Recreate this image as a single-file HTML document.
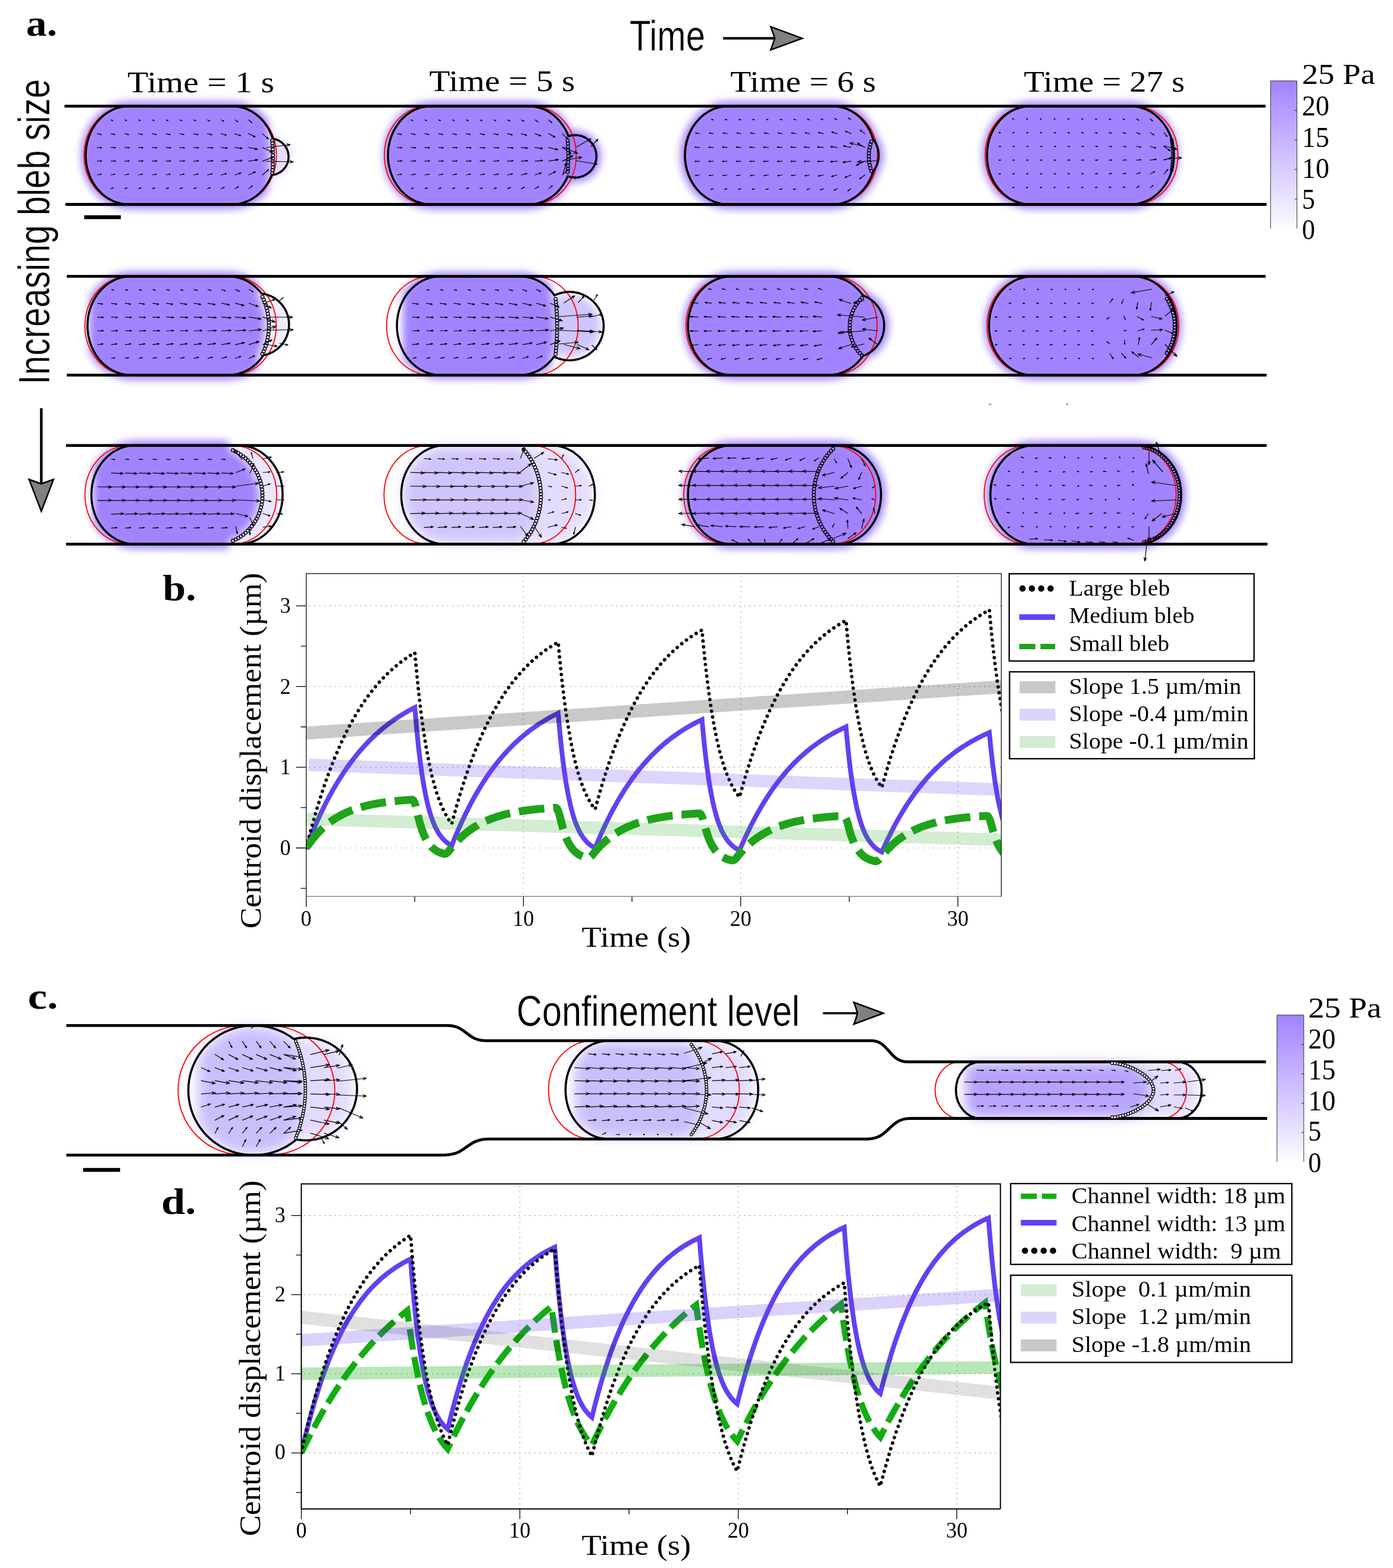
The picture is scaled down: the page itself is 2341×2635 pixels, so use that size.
<!DOCTYPE html>
<html lang="en"><head><meta charset="utf-8"><title>Bleb-driven cell migration figure</title>
<style>html,body{margin:0;padding:0;background:#fff}svg{display:block}text{fill:#000}</style></head>
<body>
<svg width="2341" height="2635" viewBox="0 0 2341 2635">
<rect width="2341" height="2635" fill="#fff"/>
<defs><filter id="bl" x="-15%" y="-30%" width="130%" height="160%" color-interpolation-filters="sRGB"><feGaussianBlur stdDeviation="6.5"/></filter><filter id="bl2" x="-15%" y="-30%" width="130%" height="160%" color-interpolation-filters="sRGB"><feGaussianBlur stdDeviation="10"/></filter></defs>
<g filter="url(#bl)"><path d="M459.4 297.8L466.3 296L474.1 292L479 287.9L484.4 280.7L487.9 272.3L489 263.7L487.9 254.7L485.7 248.7L481 241.3L476.5 236.8L469.1 232.1L461.4 229.6L452.1 210.1L444.5 200.1L435.4 191.2L419.4 181L402 175.5L390.1 174.4L216.6 174.4L198.5 176.9L187 181.1L176.5 187.2L162.2 200.1L154.4 210.4L148.3 221.7L143.8 234.2L141 247.3L140.2 267.6L142.1 281.2L148.2 299.9L154.6 311.8L166.6 326.5L176.5 334.7L192.6 343.1L204.7 346.4L216.6 347.5L390.1 347.5L402.3 346.4L419.7 340.8L435.4 330.7L448.6 316.8Z" fill="#e4dcfe"/><path d="M450.6 201.2L437.6 187.8L426.7 180.3L409.5 173.1L396.8 170.7L216.6 170.4L197.2 173.1L180 180.3L168.6 188.2L155.2 202.3L147.5 214.3L139.9 233L136.3 253.6L136.9 274.7L139.9 288.9L144.5 301.4L151 313.5L164.1 329.7L173.8 337.7L185.1 344.3L203.5 350.3L216.6 351.5L390.1 351.5L409.5 348.8L421.6 344.3L432.3 338.1L442.6 329.7L450.6 320.7L451.6 264.7Z" fill="#a183ff"/></g><g filter="url(#bl)"><path d="M958.5 305.6L970.2 306.3L981.3 303.9L991.5 298.7L1000.4 290.5L1006.4 280.8L1009.8 269.9L1009.8 255.5L1006.4 244.6L999.9 234.3L988.2 224.7L974.6 219.7L960.1 219.5L953.7 207.9L945.9 197.5L930.6 183.8L913.9 175.1L901.5 171.6L888.4 170.4L724.6 170.4L705.9 172.9L687.4 180.6L676.6 188.2L667.5 197.1L655.5 214.3L649.9 226.9L646.1 240.3L644 260.7L646.1 281.6L650.1 295.5L659 313.5L667.5 324.8L681.8 337.7L693.8 344.6L711.5 350.3L724.6 351.5L888.4 351.5L901.5 350.3L919.2 344.6L935.9 334.1L949.8 319.6Z" fill="#a183ff"/></g><g filter="url(#bl)"><path d="M1482.7 246.9L1464.2 207.9L1451.4 192.2L1441.7 184.2L1430.4 177.6L1412 171.6L1398.9 170.4L1223.8 170.4L1211.4 171.5L1198.3 175.1L1181.6 183.8L1170.9 192.7L1158.5 207.9L1151.7 220.5L1145.4 239.8L1143.4 254.2L1144.2 275.2L1147.1 288.9L1151.9 302L1158.2 313.5L1166.3 324.4L1181.6 338.1L1192.3 344.3L1204.4 348.8L1223.8 351.5L1398.9 351.5L1411.3 350.4L1424.4 346.8L1441.7 337.7L1456.4 324.4L1468 307.6L1481.3 279.4L1484.4 265.2L1484.4 256Z" fill="#a183ff"/></g><g filter="url(#bl)"><path d="M1900 170.4L1725.4 170.7L1712 173.1L1694.2 180.6L1678.9 192.2L1669.6 202.8L1659.5 219.9L1653 239.8L1651 254.2L1651.8 275.2L1656.9 295.5L1665.8 313.5L1678.5 329.2L1689.2 338.1L1706.6 347.1L1724.7 351.2L1906 351.2L1919.4 348.8L1937.2 341.3L1948 333.7L1957.5 324.4L1965.6 313.5L1974.5 295.5L1978.4 282.1L1980.3 268.3L1980.3 253.6L1978.4 239.8L1972.1 220.5L1965.6 208.4L1957.5 197.5L1948 188.2L1937.2 180.6L1925.5 175.1L1913.1 171.6Z" fill="#a183ff"/></g><g filter="url(#bl)"><path d="M451.1 594.8L466.9 585.7L473.4 579.2L480.8 567.6L484.9 554.5L485.7 545.4L482.5 527.4L476.2 515.2L463.3 502.3L451.1 496L439.5 493.2L431.6 484.3L422.3 476.6L412.1 470.7L401.2 466.7L384.2 464.4L220 464.4L208.6 465.4L192.1 470.7L181.9 476.6L168.4 488.7L158 503.6L158 591.1L168.4 606L177.1 614.5L186.9 621.3L203 628L220 630.3L389.9 630L406.8 626.2L417.3 621.3L431.6 610.4L442.5 597.1Z" fill="#efeaff"/><path d="M434 475.7L421.6 466.7L409.9 461.1L390.3 456.7L219.6 456.4L206.8 457.6L189 463.3L177.6 469.9L167.3 478.3L158.3 488.4L151.1 499.5L150 503.6L150 591.1L151.1 595.2L162.6 611.5L177 624.4L194.3 633.6L207.5 637.2L220 638.3L384.6 638.3L397.4 637.1L415.2 631.4L426.6 624.8L434 619L434 595L440.3 578.9L444.5 557.8L444 531.9L440.3 515.1L434 499Z" fill="#a183ff"/></g><g filter="url(#bl)"><path d="M689 495.9L689 598.8L700.3 610.6L709.4 616.9L719.2 621.5L729.5 624.4L740.1 625.3L874 625.3L889.8 623.2L899.9 619.5L909.4 614L918 606.8L929.8 594.4L943.4 598.7L957 600.5L970.6 598.7L983.2 593.5L994.1 585.1L1000 578.1L1006.3 566L1008.7 557.1L1008.7 538.9L1004.6 525.8L997.2 514.3L987.1 505L975 498.7L961.6 495.7L947.9 496.3L930.5 501.3L918 487.9L909.4 480.7L899.9 475.2L884.6 470.3L874 469.4L734.7 469.6L719.2 473.2L709.4 477.8L700.3 484.1Z" fill="#cfc5ff"/><path d="M926.6 479.4L916 470.7L904.7 464.3L892.7 459.9L880.1 457.7L739.7 457.4L721.4 459.9L708.8 464.5L692.4 475L683.3 483.9L677.3 492.1L677 600.5L678.2 604.5L687.9 615.6L703.1 627.2L715.3 632.9L733.3 637L874.4 637.3L892.7 634.8L905.3 630.2L916.5 623.7L926.7 615.1L929.3 546.7L926.7 502.4Z" fill="#a183ff"/></g><g filter="url(#bl)"><path d="M1454.6 488.9L1445.2 478.3L1429.9 466.7L1417.5 460.8L1399.3 456.7L1229.2 456.4L1209.7 459.1L1192.3 466.4L1181 474.3L1167.5 488.4L1159.8 500.5L1152.2 519.2L1149.1 533.5L1148.5 554.7L1152 574.9L1160.1 594.7L1167.1 605.8L1176 615.9L1192.3 628.3L1210.4 635.8L1229.2 638.3L1392.5 638.3L1412 635.6L1424.2 631.1L1434.9 624.8L1445.7 615.9L1455.3 604.8L1472 594.7L1479.1 587.5L1485.4 578.7L1491.7 563.8L1493.6 553.1L1493.6 541.6L1491.7 530.9L1487.9 520.8L1482.5 511.4L1475.5 503.2L1467.1 496.3Z" fill="#a183ff"/></g><g filter="url(#bl)"><path d="M1904.6 456.4L1729 456.7L1715.6 459.1L1697.7 466.7L1682.4 478.3L1673 488.9L1662.9 506.2L1656.4 526.1L1654.3 540.6L1655.1 561.7L1660.2 582.1L1669.1 600.2L1681.9 615.9L1692.7 624.8L1710.1 633.9L1728.3 638L1910.7 638L1924.1 635.6L1942 628L1952.8 620.4L1962.4 611.1L1970.6 600.2L1979.5 582.1L1983.3 568.6L1985.3 554.7L1985.3 540L1983.3 526.1L1977.1 506.7L1970.6 494.5L1962.4 483.6L1952.8 474.3L1942 466.7L1930.3 461.1L1917.8 457.6Z" fill="#a183ff"/></g><g filter="url(#bl)"><path d="M474.8 825L473 812.1L469.4 799.8L464.2 788.2L457.5 777.7L449.4 768.5L440.2 760.8L430 754.9L419.1 750.9L402 748.6L226.6 748.6L215.1 749.6L198.6 754.9L188.4 760.8L175 772.9L164.6 787.8L164.6 875.2L175 890.1L188.4 902.2L204 910.3L215.1 913.4L226.6 914.4L402 914.4L413.5 913.4L430 908.1L440.2 902.2L453.6 890.1L461.1 880.2L467 869.1L471.4 857.1L474.1 844.5Z" fill="#ebe6ff"/><path d="M226.6 740.6L207.1 743.3L189.1 750.9L173.4 762.9L164.9 772.6L157.7 783.7L156.6 787.8L156.6 875.2L160.6 884.3L168.8 895.2L178.8 904.9L189.7 912.5L207.1 919.7L219.8 922.1L384.5 922.4L384.5 908.8L391.9 905.1L405.5 895.4L411.5 889.6L421.7 876.4L428.9 861.4L431.4 853.4L433.9 837L433.9 828.6L431.4 812.2L425.7 796.5L416.9 782.3L411.5 776L399 765L384.5 756.8L384.5 740.6Z" fill="#a183ff"/></g><g filter="url(#bl2)"><path d="M926.8 750.6L747.3 750.6L736.2 751.6L720.2 756.7L705.6 766L693.4 778.9L684.1 794.7L679.8 806.4L676.5 825.1L676.5 837.9L679.8 856.6L686.8 873.9L697.2 888.8L710.3 900.5L725.4 908.5L741.7 912.2L926.8 912.4L937.9 911.4L953.9 906.3L968.5 897L976.9 888.8L984.2 879.1L990 868.3L994.3 856.6L996.9 844.2L997.8 831.5L996.9 818.8L994.3 806.4L990 794.7L984.2 783.9L972.8 769.9L963.8 762.5L953.9 756.7L937.9 751.6Z" fill="#e4dcfe"/><path d="M747.3 751.6L736.4 752.6L725.7 755.5L715.6 760.2L706.3 766.7L697.9 774.9L690.8 784.4L682.7 800.8L679.3 812.8L677.5 825.2L678.2 844.1L682.7 862.2L687.7 873.4L694.2 883.5L702 892.4L710.9 899.7L720.6 905.4L736.4 910.4L747.3 911.4L873.2 911.4L886 892.5L895.2 872.5L900.6 851.2L902 829.2L899.2 807.3L895.2 793.2L886 773.2L873.2 755.2L873.2 751.6Z" fill="#d0c4fc"/></g><g filter="url(#bl)"><path d="M1407.6 740.6L1223.1 740.9L1209.7 743.3L1192.3 750.5L1180.9 758.5L1167.5 772.6L1159.8 784.6L1152 804L1148.5 824.2L1149.1 845.3L1154.1 865.7L1160.1 878.9L1171.8 895.6L1186.7 908.9L1204.2 918L1222.4 922.1L1408 922.4L1426.4 919.9L1444.5 912.5L1455.4 904.9L1465 895.6L1473.2 884.8L1480.1 872.1L1484.8 859L1488.3 838.8L1488.3 824.2L1486.3 810.2L1480.1 790.9L1473.6 778.7L1465.4 767.8L1455.9 758.5L1445.1 750.9L1433.3 745.3L1420.8 741.8Z" fill="#a183ff"/></g><g filter="url(#bl)"><path d="M1912 740.6L1731.3 740.9L1717.9 743.3L1700.5 750.5L1689.1 758.5L1675.7 772.6L1668 784.6L1660.2 804L1656.7 824.2L1657.3 845.3L1662.3 865.7L1668.3 878.9L1680 895.6L1694.9 908.9L1712.4 918L1730.6 922.1L1912.4 922.4L1930.8 919.9L1948.9 912.5L1959.8 904.9L1969.4 895.6L1977.6 884.8L1984.5 872.1L1989.2 859L1992.7 838.8L1992.7 824.2L1990.7 810.2L1984.5 790.9L1978 778.7L1969.8 767.8L1960.3 758.5L1949.5 750.9L1937.7 745.3L1925.2 741.8Z" fill="#a183ff"/></g>
<g filter="url(#bl2)"><path d="M497.4 1913L521 1914.1L535.4 1911.5L555.8 1903.1L567.9 1894.7L578.3 1884.3L590.1 1865.7L592 1861.1L592 1798.9L582.7 1781.6L573.3 1770.3L562 1760.9L542.5 1750.7L521 1745.9L506.2 1745.9L493 1748L483 1741.1L468 1733.5L452.1 1728.4L435.5 1725.7L417 1725.7L392.3 1730.6L369.5 1741.1L349.8 1756.7L338.9 1769.4L332.5 1779.5L332.5 1885L338.9 1895.1L349.8 1907.8L369.5 1923.4L384.5 1931L400.4 1936.1L417 1938.8L435.5 1938.8L452.1 1936.1L475.7 1927.5Z" fill="#e2dbfe"/><path d="M490 1745.8L468 1733.5L452.1 1728.4L427.1 1725.4L408.6 1726.7L384.5 1733.5L369.5 1741.1L349.8 1756.7L338.9 1769.4L332.5 1779.5L332.5 1885L344.1 1901.6L362.5 1918.7L376.8 1927.5L392.3 1933.9L408.6 1937.8L427.1 1939.1L443.9 1937.8L460.2 1933.9L475.7 1927.5L490 1918.7L490 1912L497.3 1891.6L502.5 1870.5L505.4 1849.1L506.2 1827.4L502.5 1791.5L497.3 1770.4L490 1750Z" fill="#cabefd"/></g><g filter="url(#bl2)"><path d="M1266.2 1799.1L1255.2 1779.1L1243 1766.2L1228.5 1757L1212.5 1751.9L1201.5 1750.9L1023.1 1750.9L1006.6 1753.1L996.1 1757L986.3 1762.7L977.3 1770.1L966.4 1783.4L966.4 1879.6L977.3 1892.9L991.1 1903.4L1001.3 1908.2L1017.6 1911.9L1201.5 1912.1L1218 1909.9L1233.5 1903.4L1247.3 1892.9L1258.6 1879L1266.2 1863.9Z" fill="#e2dbfe"/><path d="M1023.1 1750.9L1006.6 1753.1L991.1 1759.6L977.3 1770.1L966.4 1783.4L966.4 1879.6L973.2 1888.6L981.6 1896.8L991.1 1903.4L1001.3 1908.2L1017.6 1911.9L1154.9 1912.1L1154.9 1906.5L1166.2 1888.7L1174.4 1869.1L1179.2 1848.5L1180.4 1827.4L1179.2 1813.4L1174.4 1792.8L1166.2 1773.2L1154.9 1755.4L1154.9 1750.9Z" fill="#cabefd"/></g><g filter="url(#bl2)"><path d="M2011.5 1807.9L2005.7 1799.6L1998.4 1793L1989.9 1788.6L1980.8 1786.5L1642.2 1787L1630.3 1791.3L1622.5 1797.3L1622.5 1866.6L1633.2 1874.1L1642.2 1876.9L1648.4 1877.5L1983.8 1876.9L1992.8 1874.1L1998.4 1870.9L2005.7 1864.3L2011.5 1856Z" fill="#e2dbfe"/><path d="M1894.2 1786.4L1869 1787.3L1869 1786.4L1648.4 1786.4L1639.1 1787.6L1630.3 1791.3L1622.5 1797.3L1622.5 1866.6L1633.2 1874.1L1642.2 1876.9L1648.4 1877.5L1895.7 1877.5L1899.3 1876.5L1912.7 1869.1L1923.1 1857.7L1929.2 1843.6L1930.4 1836L1929.2 1820.7L1926.7 1813.4L1918.4 1800.5L1906.3 1790.9Z" fill="#b6a3ff"/></g>
<path d="M213.9 178.7 L391.9 178.7 A72.61 82.21 0 0 1 391.9 343.2 L213.9 343.2 A72.61 82.21 0 0 1 213.9 178.7 Z" fill="none" stroke="#f00" stroke-width="1.8"/><path d="M718.6 178.7 L895.8 178.7 A72.61 82.21 0 0 1 895.8 343.2 L718.6 343.2 A72.61 82.21 0 0 1 718.6 178.7 Z" fill="none" stroke="#f00" stroke-width="1.8"/><path d="M1222.6 178.7 L1401.9 178.7 A72.61 82.21 0 0 1 1401.9 343.2 L1222.6 343.2 A72.61 82.21 0 0 1 1222.6 178.7 Z" fill="none" stroke="#f00" stroke-width="1.8"/><path d="M1728.2 178.7 L1906.9 178.7 A72.61 82.21 0 0 1 1906.9 343.2 L1728.2 343.2 A72.61 82.21 0 0 1 1728.2 178.7 Z" fill="none" stroke="#f00" stroke-width="1.8"/><path d="M215.7 464.7 L391.2 464.7 A72.96 82.61 0 0 1 391.2 630 L215.7 630 A72.96 82.61 0 0 1 215.7 464.7 Z" fill="none" stroke="#f00" stroke-width="1.8"/><path d="M722.6 464.7 L898.7 464.7 A72.96 82.61 0 0 1 898.7 630 L722.6 630 A72.96 82.61 0 0 1 722.6 464.7 Z" fill="none" stroke="#f00" stroke-width="1.8"/><path d="M1225.9 464.7 L1401 464.7 A72.96 82.61 0 0 1 1401 630 L1225.9 630 A72.96 82.61 0 0 1 1225.9 464.7 Z" fill="none" stroke="#f00" stroke-width="1.8"/><path d="M1731.8 464.7 L1908 464.7 A72.96 82.61 0 0 1 1908 630 L1731.8 630 A72.96 82.61 0 0 1 1731.8 464.7 Z" fill="none" stroke="#f00" stroke-width="1.8"/><path d="M215.7 748.9 L392 748.9 A72.92 82.56 0 0 1 392 914.1 L215.7 914.1 A72.92 82.56 0 0 1 215.7 748.9 Z" fill="none" stroke="#f00" stroke-width="1.8"/><path d="M718.3 748.9 L894.4 748.9 A72.92 82.56 0 0 1 894.4 914.1 L718.3 914.1 A72.92 82.56 0 0 1 718.3 748.9 Z" fill="none" stroke="#f00" stroke-width="1.8"/><path d="M1222 748.9 L1398.7 748.9 A72.92 82.56 0 0 1 1398.7 914.1 L1222 914.1 A72.92 82.56 0 0 1 1222 748.9 Z" fill="none" stroke="#f00" stroke-width="1.8"/><path d="M1726.9 748.9 L1903.6 748.9 A72.92 82.56 0 0 1 1903.6 914.1 L1726.9 914.1 A72.92 82.56 0 0 1 1726.9 748.9 Z" fill="none" stroke="#f00" stroke-width="1.8"/><path d="M108.4 178.4H2127M109.9 343.5H2128.5" stroke="#000" stroke-width="4.8" fill="none"/><path d="M112.3 464.4H2127M112.3 630.3H2128.5" stroke="#000" stroke-width="4.8" fill="none"/><path d="M111 748.6H2128.6M111 914.4H2130.1" stroke="#000" stroke-width="4.8" fill="none"/><path d="M141.5 365H203" stroke="#000" stroke-width="6.6" fill="none"/><path d="M1662 679.4h3.5M1793.3 678v3" stroke="#000" stroke-width="1" fill="none"/><path d="M458.4 233.1L456.4 227.4L454.2 222.2L451.7 217.2L448.8 212.4L444.0 205.7L440.5 201.6L436.8 197.7L430.7 192.5L426.4 189.5L421.9 186.8L417.3 184.4L412.5 182.4L407.6 180.9L402.7 179.7L397.6 178.9L390.1 178.4L216.6 178.4L209.1 178.9L201.5 180.2L194.2 182.4L187.1 185.5L180.3 189.5L173.9 194.2L168.0 199.6L162.7 205.7L159.4 210.1L155.0 217.2L152.5 222.2L149.3 230.0L146.8 238.2L145.1 246.6L144.2 255.2L144.0 263.8L144.7 272.4L145.6 278.1L146.8 283.7L148.4 289.2L151.4 297.1L153.7 302.2L156.4 307.1L159.4 311.8L162.7 316.2L166.2 320.3L171.9 326.0L176.0 329.4L180.3 332.4L184.8 335.1L189.4 337.5L194.2 339.5L199.1 341.0L206.5 342.7L211.6 343.3L216.6 343.5L390.1 343.5L397.6 343.0L402.7 342.2L407.6 341.0L414.9 338.5L419.6 336.4L424.2 333.8L430.7 329.4L434.8 326.0L438.7 322.3L442.3 318.3L445.7 314.0L448.8 309.5L451.7 304.7L454.2 299.7L456.6 294.1L460.7 293.5L463.8 292.7L466.8 291.5L471.0 289.2L473.6 287.4L477.1 284.0L479.1 281.5L480.9 278.9L482.3 276.0L484.0 271.4L484.6 268.3L485.0 263.5L484.8 260.3L484.0 255.6L483.0 252.5L481.7 249.6L479.1 245.5L477.1 243.0L474.8 240.7L472.3 238.7L469.7 236.9L466.8 235.5L462.2 233.8Z" fill="none" stroke="#000" stroke-width="3.5" stroke-linejoin="round"/><path d="M163.5 224.6L170 226.2M168.3 226.4L170 226.2L168.6 225.2M163.5 247.8L171 248.4M169.1 248.9L171 248.4L169.2 247.6M163.5 270.9L171 270.4M169.2 271.2L171 270.4L169.1 269.8M163.5 294L170.3 292.5M168.7 293.5L170.3 292.5L168.5 292.3M186.6 201.5L189.7 202.7M188 202.7L189.7 202.7L188.4 201.6M186.6 224.6L193.2 226.2M191.4 226.4L193.2 226.2L191.7 225.2M186.6 247.8L194.1 248.4M192.2 248.9L194.1 248.4L192.4 247.6M186.6 270.9L194.2 270.4M192.4 271.2L194.2 270.4L192.3 269.8M186.6 294L193.4 292.5M191.9 293.5L193.4 292.5L191.6 292.3M186.6 317.1L190.4 315.8M189.1 316.9L190.4 315.8L188.7 315.8M209.8 201.5L212.8 202.7M211.1 202.7L212.8 202.7L211.6 201.6M209.8 224.6L216.3 226.2M214.6 226.4L216.3 226.2L214.9 225.2M209.8 247.8L217.3 248.4M215.4 248.9L217.3 248.4L215.5 247.6M209.8 270.9L217.3 270.4M215.5 271.2L217.3 270.4L215.4 269.8M209.8 294L216.6 292.5M215 293.5L216.6 292.5L214.8 292.3M209.8 317.1L213.5 315.7M212.2 316.8L213.5 315.7L211.8 315.8M232.9 201.5L236 202.7M234.3 202.7L236 202.7L234.7 201.6M232.9 224.6L239.5 226.2M237.7 226.4L239.5 226.2L238 225.2M232.9 247.8L240.5 248.4M238.6 248.9L240.5 248.4L238.7 247.6M232.9 270.9L240.5 270.4M238.7 271.2L240.5 270.4L238.6 269.8M232.9 294L239.7 292.5M238.2 293.5L239.7 292.5L237.9 292.3M232.9 317.1L236.7 315.7M235.4 316.8L236.7 315.7L235 315.7M256 201.5L259.2 202.7M257.5 202.7L259.2 202.7L257.9 201.6M256 224.6L262.7 226.2M260.9 226.4L262.7 226.2L261.2 225.2M256 247.8L263.7 248.4M261.8 248.9L263.7 248.4L261.9 247.6M256 270.9L263.7 270.4M261.9 271.2L263.7 270.4L261.8 269.8M256 294L263 292.5M261.4 293.5L263 292.5L261.1 292.3M256 317.1L259.9 315.7M258.6 316.8L259.9 315.7L258.2 315.7M279.1 201.5L282.5 202.8M280.8 202.8L282.5 202.8L281.2 201.7M279.1 224.6L286 226.3M284.2 226.5L286 226.3L284.4 225.3M279.1 247.8L287 248.4M285 249L287 248.4L285.1 247.6M279.1 270.9L287 270.4M285.1 271.2L287 270.4L285 269.8M279.1 294L286.2 292.5M284.6 293.5L286.2 292.5L284.4 292.2M279.1 317.1L283.2 315.7M281.9 316.8L283.2 315.7L281.5 315.7M302.3 201.5L305.8 202.9M304.1 202.8L305.8 202.9L304.5 201.7M302.3 224.6L309.3 226.3M307.4 226.5L309.3 226.3L307.7 225.3M302.3 247.8L310.3 248.5M308.3 249L310.3 248.5L308.4 247.6M302.3 270.9L310.4 270.4M308.4 271.2L310.4 270.4L308.4 269.8M302.3 294L309.6 292.4M307.9 293.5L309.6 292.4L307.7 292.2M302.3 317.1L306.5 315.6M305.2 316.7L306.5 315.6L304.8 315.6M325.4 201.5L329.2 203M327.5 203L329.2 203L327.9 201.9M325.4 224.6L332.8 226.4M330.8 226.7L332.8 226.4L331.2 225.3M325.4 247.8L333.9 248.5M331.8 249.1L333.9 248.5L331.9 247.6M325.4 270.9L333.9 270.3M331.9 271.2L333.9 270.3L331.8 269.7M325.4 294L333.1 292.3M331.4 293.4L333.1 292.3L331 292M325.4 317.1L329.9 315.4M328.6 316.6L329.9 315.4L328.2 315.5M348.5 201.5L352.7 203.3M351 203.2L352.7 203.3L351.4 202.1M348.5 224.6L356.5 226.7M354.4 226.9L356.5 226.7L354.7 225.5M348.5 247.8L357.7 248.6M355.4 249.2L357.7 248.6L355.5 247.6M348.5 270.9L357.8 270.2M355.6 271.2L357.8 270.2L355.4 269.6M348.5 294L356.8 292.1M354.9 293.3L356.8 292.1L354.6 291.8M348.5 317.1L353.4 315.2M352.1 316.3L353.4 315.2L351.7 315.2M371.7 201.5L376.3 203.8M374.6 203.6L376.3 203.8L375.1 202.6M371.7 224.6L380.4 227.2M378.1 227.3L380.4 227.2L378.5 225.8M371.7 247.8L382 248.9M379.3 249.5L382 248.9L379.5 247.7M371.7 270.9L382 270.1M379.6 271.2L382 270.1L379.4 269.3M371.7 294L380.8 291.6M378.8 293L380.8 291.6L378.4 291.4M371.7 317.1L377.1 314.7M375.9 315.9L377.1 314.7L375.4 314.8M394.8 201.5L399.9 204.7M398.3 204.3L399.9 204.7L398.9 203.4M394.8 224.6L404.7 228.2M402 228.2L404.7 228.2L402.6 226.4M394.8 247.8L406.9 249.4M403.8 250.1L406.9 249.4L404.1 247.9M394.8 270.9L407 269.6M404.2 271L407 269.6L403.9 268.9M394.8 294L405.2 290.6M402.9 292.4L405.2 290.6L402.3 290.5M394.8 317.1L400.8 313.7M399.6 315.1L400.8 313.7L399 314M417.9 201.5L423.2 206.1M421.5 205.4L423.2 206.1L422.3 204.5M417.9 224.6L428.9 230.2M425.7 229.8L428.9 230.2L426.7 227.9M417.9 247.8L432.8 250.9M428.9 251.4L432.8 250.9L429.5 248.8M417.9 270.9L433.2 268.5M429.7 270.4L433.2 268.5L429.2 267.7M417.9 294L429.5 288.5M427.2 290.9L429.5 288.5L426.2 288.8M417.9 317.1L424.2 312.2M423.1 314L424.2 312.2L422.2 312.9M441.1 224.6L451 233.6M447.8 232.3L451 233.6L449.4 230.5M441.1 247.8L458.3 256.1M453.3 255.6L458.3 256.1L454.8 252.5M441.1 270.9L459.7 263.9M455.8 267.2L459.7 263.9L454.5 263.9M441.1 294L451.8 284.7M450 288L451.8 284.7L448.3 286.1M448 248L488 243M482.5 245.8L488 243L482 241.6M448 271L493 272M487.1 274L493 272L487.2 269.8" fill="none" stroke="#000" stroke-width="1.2" stroke-linecap="round" stroke-linejoin="round"/><g fill="none" stroke="#000" stroke-width="1.3"><circle cx="457.6" cy="236" r="2.8"/><circle cx="457.9" cy="241" r="2.8"/><circle cx="458.2" cy="246" r="2.8"/><circle cx="458.4" cy="251" r="2.8"/><circle cx="458.5" cy="256" r="2.8"/><circle cx="458.6" cy="261" r="2.8"/><circle cx="458.6" cy="266" r="2.8"/><circle cx="458.5" cy="271" r="2.8"/><circle cx="458.4" cy="276" r="2.8"/><circle cx="458.2" cy="281" r="2.8"/><circle cx="457.9" cy="286" r="2.8"/><circle cx="457.6" cy="291" r="2.8"/></g><path d="M955.3 228.9L952.5 222.2L950.0 217.2L945.6 210.1L940.6 203.6L937.0 199.6L933.1 195.9L929.0 192.5L924.7 189.5L917.9 185.5L913.2 183.4L908.4 181.6L901.0 179.7L895.9 178.9L888.4 178.4L724.6 178.4L719.6 178.6L714.5 179.2L707.1 180.9L702.2 182.4L695.1 185.5L688.3 189.5L681.9 194.2L676.0 199.6L670.7 205.7L665.9 212.4L661.7 219.7L658.3 227.4L655.6 235.4L653.6 243.8L652.4 252.3L652.0 260.9L652.4 269.6L653.1 275.3L654.2 280.9L655.6 286.5L657.3 291.9L659.4 297.1L661.7 302.2L664.4 307.1L667.4 311.8L672.4 318.3L676.0 322.3L679.9 326.0L684.0 329.4L688.3 332.4L692.8 335.1L697.4 337.5L702.2 339.5L707.1 341.0L714.5 342.7L719.6 343.3L724.6 343.5L888.4 343.5L893.4 343.3L898.5 342.7L903.5 341.7L908.4 340.3L915.6 337.5L920.2 335.1L924.7 332.4L931.1 327.7L935.1 324.2L938.8 320.3L944.0 314.0L947.1 309.5L950.0 304.7L952.5 299.7L954.1 296.1L957.5 297.2L961.1 298.0L966.7 298.4L970.4 298.2L974.1 297.6L979.5 296.0L982.9 294.5L986.1 292.6L990.6 289.2L994.4 285.2L996.6 282.1L998.5 278.9L1000.7 273.7L1002.0 268.3L1002.4 262.7L1002.2 259.0L1001.6 255.3L1000.0 249.9L997.6 244.8L994.4 240.2L990.6 236.2L986.1 232.8L981.2 230.1L977.7 228.7L972.3 227.4L966.7 227.0L961.1 227.4L957.5 228.2Z" fill="none" stroke="#000" stroke-width="3.5" stroke-linejoin="round"/><path d="M667.7 224.6L674.6 226.2M672.8 226.4L674.6 226.2L673.1 225.2M667.7 247.8L675.7 248.4M673.7 249L675.7 248.4L673.8 247.5M667.7 270.9L675.7 270.4M673.8 271.2L675.7 270.4L673.7 269.8M667.7 294L674.9 292.6M673.3 293.6L674.9 292.6L673 292.3M690.8 201.5L694.1 202.7M692.4 202.7L694.1 202.7L692.8 201.6M690.8 224.6L697.8 226.2M696 226.4L697.8 226.2L696.2 225.2M690.8 247.8L698.8 248.4M696.8 249L698.8 248.4L696.9 247.5M690.8 270.9L698.9 270.4M696.9 271.2L698.9 270.4L696.9 269.8M690.8 294L698.1 292.6M696.4 293.6L698.1 292.6L696.2 292.3M690.8 317.1L694.8 315.8M693.5 316.9L694.8 315.8L693.1 315.8M714 201.5L717.2 202.7M715.5 202.7L717.2 202.7L715.9 201.6M714 224.6L720.9 226.2M719.1 226.4L720.9 226.2L719.4 225.2M714 247.8L722 248.4M720 249L722 248.4L720.1 247.5M714 270.9L722 270.4M720.1 271.2L722 270.4L720 269.8M714 294L721.2 292.6M719.6 293.6L721.2 292.6L719.3 292.3M714 317.1L718 315.8M716.7 316.8L718 315.8L716.3 315.7M737.1 201.5L740.4 202.7M738.7 202.7L740.4 202.7L739.1 201.6M737.1 224.6L744.1 226.2M742.3 226.4L744.1 226.2L742.5 225.2M737.1 247.8L745.2 248.4M743.1 249L745.2 248.4L743.3 247.5M737.1 270.9L745.2 270.4M743.3 271.2L745.2 270.4L743.2 269.8M737.1 294L744.4 292.6M742.7 293.6L744.4 292.6L742.5 292.3M737.1 317.1L741.2 315.8M739.8 316.8L741.2 315.8L739.5 315.7M760.2 201.5L763.6 202.7M761.9 202.7L763.6 202.7L762.3 201.6M760.2 224.6L767.3 226.2M765.5 226.4L767.3 226.2L765.7 225.2M760.2 247.8L768.4 248.4M766.3 249L768.4 248.4L766.5 247.5M760.2 270.9L768.4 270.4M766.5 271.2L768.4 270.4L766.4 269.8M760.2 294L767.6 292.5M765.9 293.6L767.6 292.5L765.7 292.2M760.2 317.1L764.4 315.7M763 316.8L764.4 315.7L762.7 315.7M783.4 201.5L786.9 202.8M785.2 202.8L786.9 202.8L785.6 201.7M783.4 224.6L790.6 226.2M788.7 226.5L790.6 226.2L789 225.2M783.4 247.8L791.7 248.4M789.6 249L791.7 248.4L789.7 247.5M783.4 270.9L791.7 270.4M789.7 271.3L791.7 270.4L789.6 269.8M783.4 294L790.9 292.5M789.2 293.6L790.9 292.5L788.9 292.2M783.4 317.1L787.6 315.7M786.3 316.8L787.6 315.7L785.9 315.7M806.5 201.5L810.2 202.9M808.5 202.8L810.2 202.9L808.9 201.8M806.5 224.6L814 226.3M812 226.6L814 226.3L812.3 225.2M806.5 247.8L815.1 248.5M812.9 249.1L815.1 248.5L813 247.5M806.5 270.9L815.1 270.4M813.1 271.3L815.1 270.4L813 269.7M806.5 294L814.3 292.5M812.5 293.5L814.3 292.5L812.2 292.1M806.5 317.1L810.9 315.6M809.6 316.7L810.9 315.6L809.2 315.6M829.6 201.5L833.6 203M831.9 203L833.6 203L832.3 201.9M829.6 224.6L837.5 226.4M835.4 226.7L837.5 226.4L835.7 225.3M829.6 247.8L838.6 248.5M836.4 249.1L838.6 248.5L836.5 247.5M829.6 270.9L838.7 270.3M836.5 271.3L838.7 270.3L836.4 269.7M829.6 294L837.8 292.3M835.9 293.5L837.8 292.3L835.6 292M829.6 317.1L834.4 315.5M833 316.5L834.4 315.5L832.7 315.4M852.7 201.5L857.1 203.3M855.4 203.2L857.1 203.3L855.8 202.2M852.7 224.6L861.2 226.7M858.9 226.9L861.2 226.7L859.3 225.4M852.7 247.8L862.5 248.6M860 249.3L862.5 248.6L860.2 247.6M852.7 270.9L862.5 270.3M860.2 271.3L862.5 270.3L860.1 269.5M852.7 294L861.5 292.1M859.5 293.3L861.5 292.1L859.2 291.8M852.7 317.1L857.9 315.2M856.6 316.3L857.9 315.2L856.2 315.2M875.9 201.5L880.7 203.9M879 203.7L880.7 203.9L879.5 202.6M875.9 224.6L885.1 227.2M882.6 227.4L885.1 227.2L883.1 225.8M875.9 247.8L886.8 248.9M884 249.6L886.8 248.9L884.2 247.7M875.9 270.9L886.9 270.1M884.3 271.2L886.9 270.1L884.1 269.3M875.9 294L885.6 291.6M883.4 293L885.6 291.6L883 291.3M875.9 317.1L881.6 314.6M880.3 315.8L881.6 314.6L879.9 314.7M899 201.5L904.2 204.8M902.5 204.4L904.2 204.8L903.1 203.4M899 224.6L909.3 228.4M906.4 228.4L909.3 228.4L907.1 226.6M899 247.8L911.8 249.6M908.5 250.3L911.8 249.6L908.8 248M899 270.9L912 269.6M909 271.1L912 269.6L908.7 268.8M899 294L909.9 290.5M907.6 292.3L909.9 290.5L906.9 290.4M899 317.1L905.2 313.6M904 315L905.2 313.6L903.4 313.9M922.1 201.5L927.2 206.1M925.6 205.4L927.2 206.1L926.4 204.5M922.1 224.6L933 230.6M929.8 230.1L933 230.6L930.9 228.2M922.1 247.8L937.5 251.6M933.4 252L937.5 251.6L934.1 249.3M922.1 270.9L938.3 268.2M934.6 270.3L938.3 268.2L934.1 267.4M922.1 294L934 288.1M931.6 290.6L934 288.1L930.5 288.5M922.1 317.1L928.3 312.1M927.2 313.9L928.3 312.1L926.3 312.8M945.3 224.6L954.1 233.5M951.1 232.1L954.1 233.5L952.7 230.6M945.3 247.8L960.1 258.5M955.5 257.2L960.1 258.5L957.5 254.6M945.3 270.9L963.2 261.4M959.6 265.3L963.2 261.4L957.9 262.1M945.3 294L954.9 284.4M953.4 287.6L954.9 284.4L951.7 285.9M969 247L993 233M989 237.8L993 233L986.9 234.1M993 246L1005 234M1003.1 238L1005 234L1001 235.9M946 247L971 258M964.8 257.6L971 258L966.5 253.7M946 270L978 264M972.7 267.2L978 264L971.9 263M968 270L1004 276M997.9 277.1L1004 276L998.6 273M946 293L952 273M952.3 278.4L952 273L948.8 277.4M967 301L966 296M966.9 297.5L966 296L965.7 297.7" fill="none" stroke="#000" stroke-width="1.2" stroke-linecap="round" stroke-linejoin="round"/><g fill="none" stroke="#000" stroke-width="1.3"><circle cx="954" cy="236" r="2.8"/><circle cx="954.4" cy="241.3" r="2.8"/><circle cx="954.6" cy="246.6" r="2.8"/><circle cx="954.8" cy="251.9" r="2.8"/><circle cx="955" cy="257.2" r="2.8"/><circle cx="955" cy="262.5" r="2.8"/><circle cx="955" cy="267.8" r="2.8"/><circle cx="954.8" cy="273.1" r="2.8"/><circle cx="954.6" cy="278.4" r="2.8"/><circle cx="954.4" cy="283.7" r="2.8"/><circle cx="954" cy="289" r="2.8"/></g><path d="M1467.4 233.8L1464.1 224.8L1461.8 219.7L1459.1 214.8L1456.1 210.1L1452.8 205.7L1449.3 201.6L1445.6 197.7L1439.5 192.5L1435.2 189.5L1430.7 186.8L1426.1 184.4L1421.3 182.4L1416.4 180.9L1411.5 179.7L1406.4 178.9L1398.9 178.4L1223.8 178.4L1216.3 178.9L1208.7 180.2L1201.4 182.4L1196.6 184.4L1189.7 188.1L1183.2 192.5L1177.1 197.7L1171.6 203.6L1166.6 210.1L1163.6 214.8L1159.7 222.2L1156.5 230.0L1154.0 238.2L1152.3 246.6L1151.4 255.2L1151.2 263.8L1151.9 272.4L1152.8 278.1L1154.0 283.7L1155.6 289.2L1157.5 294.5L1160.9 302.2L1163.6 307.1L1166.6 311.8L1169.9 316.2L1173.4 320.3L1177.1 324.2L1181.1 327.7L1185.3 331.0L1189.7 333.8L1194.3 336.4L1201.4 339.5L1206.3 341.0L1211.2 342.2L1216.3 343.0L1223.8 343.5L1398.9 343.5L1406.4 343.0L1414.0 341.7L1421.3 339.5L1426.1 337.5L1430.7 335.1L1437.4 331.0L1443.6 326.0L1449.3 320.3L1452.8 316.2L1456.1 311.8L1460.5 304.7L1464.1 297.1L1466.2 291.9L1467.4 288.1L1470.6 283.4L1472.7 279.3L1473.6 277.1L1475.1 272.6L1476.0 268.0L1476.4 265.7L1476.6 260.9L1476.4 256.2L1475.6 251.6L1475.1 249.3L1473.6 244.8L1471.7 240.5L1469.3 236.4Z" fill="none" stroke="#000" stroke-width="3.5" stroke-linejoin="round"/><path d="M1175.7 224.6L1168.8 223.4M1170.6 223.1L1168.8 223.4L1170.4 224.3M1175.7 247.8L1167.7 247.3M1169.7 246.7L1167.7 247.3L1169.6 248.1M1175.7 270.9L1167.7 271.3M1169.6 270.5L1167.7 271.3L1169.7 271.9M1175.7 294L1168.5 295.2M1170.2 294.3L1168.5 295.2L1170.4 295.5M1198.8 201.5L1195.6 200.6M1197.3 200.4L1195.6 200.6L1197 201.6M1198.8 224.6L1191.9 223.4M1193.7 223.1L1191.9 223.4L1193.5 224.3M1198.8 247.8L1190.8 247.3M1192.8 246.7L1190.8 247.3L1192.8 248.1M1198.8 270.9L1190.8 271.3M1192.7 270.5L1190.8 271.3L1192.8 271.9M1198.8 294L1191.6 295.2M1193.3 294.3L1191.6 295.2L1193.5 295.5M1198.8 317.1L1194.8 318.2M1196.2 317.3L1194.8 318.2L1196.5 318.4M1222 201.5L1218.7 200.6M1220.4 200.4L1218.7 200.6L1220.1 201.6M1222 224.6L1215 223.4M1216.8 223.1L1215 223.4L1216.6 224.3M1222 247.8L1214 247.2M1216 246.7L1214 247.2L1215.9 248.1M1222 270.9L1213.9 271.3M1215.9 270.5L1213.9 271.3L1215.9 271.9M1222 294L1214.7 295.2M1216.4 294.3L1214.7 295.2L1216.6 295.5M1222 317.1L1217.9 318.2M1219.3 317.3L1217.9 318.2L1219.6 318.4M1245.1 201.5L1241.8 200.6M1243.5 200.4L1241.8 200.6L1243.2 201.6M1245.1 224.6L1238.1 223.4M1239.9 223.1L1238.1 223.4L1239.7 224.3M1245.1 247.8L1237 247.2M1239.1 246.7L1237 247.2L1239 248.1M1245.1 270.9L1237 271.3M1239 270.5L1237 271.3L1239 271.9M1245.1 294L1237.8 295.2M1239.5 294.3L1237.8 295.2L1239.7 295.5M1245.1 317.1L1241 318.2M1242.4 317.3L1241 318.2L1242.7 318.4M1268.2 201.5L1264.9 200.5M1266.6 200.4L1264.9 200.5L1266.2 201.5M1268.2 224.6L1261.2 223.4M1263 223.1L1261.2 223.4L1262.8 224.3M1268.2 247.8L1260.1 247.2M1262.1 246.6L1260.1 247.2L1262 248.1M1268.2 270.9L1260.1 271.3M1262 270.5L1260.1 271.3L1262.1 271.9M1268.2 294L1260.9 295.2M1262.6 294.3L1260.9 295.2L1262.8 295.6M1268.2 317.1L1264.1 318.3M1265.5 317.3L1264.1 318.3L1265.8 318.4M1291.4 201.5L1287.9 200.5M1289.6 200.4L1287.9 200.5L1289.3 201.5M1291.4 224.6L1284.2 223.4M1286.1 223L1284.2 223.4L1285.8 224.3M1291.4 247.8L1283.1 247.2M1285.2 246.6L1283.1 247.2L1285.1 248.1M1291.4 270.9L1283.1 271.3M1285.1 270.5L1283.1 271.3L1285.2 271.9M1291.4 294L1283.9 295.2M1285.6 294.3L1283.9 295.2L1285.8 295.6M1291.4 317.1L1287.2 318.3M1288.6 317.3L1287.2 318.3L1288.9 318.4M1314.5 201.5L1310.9 200.4M1312.6 200.3L1310.9 200.4L1312.3 201.5M1314.5 224.6L1307.2 223.3M1309.1 223L1307.2 223.3L1308.8 224.3M1314.5 247.8L1306.1 247.2M1308.2 246.6L1306.1 247.2L1308.1 248.1M1314.5 270.9L1306.1 271.3M1308.1 270.5L1306.1 271.3L1308.1 272M1314.5 294L1306.9 295.3M1308.6 294.3L1306.9 295.3L1308.9 295.6M1314.5 317.1L1310.2 318.4M1311.6 317.4L1310.2 318.4L1311.9 318.5M1337.6 201.5L1333.9 200.3M1335.6 200.3L1333.9 200.3L1335.2 201.4M1337.6 224.6L1330.1 223.2M1332 222.9L1330.1 223.2L1331.8 224.2M1337.6 247.8L1328.9 247.2M1331.1 246.5L1328.9 247.2L1331 248.1M1337.6 270.9L1328.9 271.3M1331 270.4L1328.9 271.3L1331.1 272M1337.6 294L1329.8 295.3M1331.6 294.3L1329.8 295.3L1331.8 295.7M1337.6 317.1L1333.1 318.5M1334.5 317.5L1333.1 318.5L1334.8 318.6M1360.7 201.5L1356.8 200.1M1358.5 200.1L1356.8 200.1L1358.1 201.2M1360.7 224.6L1352.8 223M1354.9 222.7L1352.8 223L1354.6 224.1M1360.7 247.8L1351.6 247.1M1353.9 246.4L1351.6 247.1L1353.7 248.1M1360.7 270.9L1351.5 271.4M1353.7 270.4L1351.5 271.4L1353.8 272.1M1360.7 294L1352.5 295.5M1354.4 294.4L1352.5 295.5L1354.6 295.9M1360.7 317.1L1356 318.7M1357.3 317.6L1356 318.7L1357.7 318.7M1383.9 201.5L1379.6 199.8M1381.3 199.8L1379.6 199.8L1380.9 200.9M1383.9 224.6L1375.4 222.7M1377.6 222.4L1375.4 222.7L1377.3 223.9M1383.9 247.8L1373.9 246.9M1376.4 246.2L1373.9 246.9L1376.3 248M1383.9 270.9L1373.8 271.5M1376.2 270.5L1373.8 271.5L1376.3 272.3M1383.9 294L1375 295.9M1377 294.6L1375 295.9L1377.3 296.2M1383.9 317.1L1378.7 319.1M1380 318L1378.7 319.1L1380.4 319M1407 201.5L1402.5 199.1M1404.2 199.4L1402.5 199.1L1403.6 200.4M1407 224.6L1397.8 221.9M1400.3 221.7L1397.8 221.9L1399.8 223.4M1407 247.8L1395.8 246.4M1398.6 245.7L1395.8 246.4L1398.4 247.7M1407 270.9L1395.6 271.8M1398.3 270.6L1395.6 271.8L1398.5 272.6M1407 294L1397.3 296.6M1399.4 295.1L1397.3 296.6L1399.9 296.9M1407 317.1L1401.5 319.7M1402.7 318.5L1401.5 319.7L1403.2 319.6M1430.1 201.5L1425.7 198.2M1427.3 198.7L1425.7 198.2L1426.6 199.7M1430.1 224.6L1420.6 220.3M1423.3 220.5L1420.6 220.3L1422.6 222.2M1430.1 247.8L1417.1 245M1420.6 244.5L1417.1 245L1420.1 246.8M1430.1 270.9L1416.6 272.8M1419.7 271.1L1416.6 272.8L1420.1 273.6M1430.1 294L1419.9 298.3M1422 296.3L1419.9 298.3L1422.7 298.2M1430.1 317.1L1424.7 320.8M1425.7 319.4L1424.7 320.8L1426.4 320.4M1453.3 224.6L1445.2 218.4M1447.7 219.2L1445.2 218.4L1446.6 220.7M1453.3 247.8L1441 240.2M1444.7 241L1441 240.2L1443.3 243.1M1453.3 270.9L1438.9 277.8M1441.8 274.8L1438.9 277.8L1443 277.4M1453.3 294L1444.6 300.7M1446.1 298.3L1444.6 300.7L1447.3 299.8M1450 246L1428 240M1433.9 239.5L1428 240L1432.8 243.4M1476 270L1441 272M1446.7 269.6L1441 272L1446.9 273.8" fill="none" stroke="#000" stroke-width="1.2" stroke-linecap="round" stroke-linejoin="round"/><g fill="none" stroke="#000" stroke-width="1.3"><circle cx="1464.4" cy="238" r="2.8"/><circle cx="1462.8" cy="242.8" r="2.8"/><circle cx="1461.6" cy="247.7" r="2.8"/><circle cx="1460.7" cy="252.6" r="2.8"/><circle cx="1460.2" cy="257.7" r="2.8"/><circle cx="1460" cy="262.7" r="2.8"/><circle cx="1460.2" cy="267.7" r="2.8"/><circle cx="1460.7" cy="272.8" r="2.8"/><circle cx="1461.6" cy="277.7" r="2.8"/><circle cx="1462.8" cy="282.6" r="2.8"/><circle cx="1464.4" cy="287.4" r="2.8"/></g><path d="M1731.4 178.4 L1900 178.4 A72.61 82.51 0 0 1 1900 343.5 L1731.4 343.5 A72.61 82.51 0 0 1 1731.4 178.4 Z" fill="none" stroke="#000" stroke-width="3.5" stroke-linejoin="round"/><path d="M1678.6 222.8L1681.4 223.2M1679.7 223.6L1681.4 223.2L1679.9 222.4M1678.6 246L1681.8 246.1M1680.1 246.6L1681.8 246.1L1680.2 245.5M1678.6 269.1L1681.8 269M1680.2 269.6L1681.8 269L1680.2 268.5M1678.6 292.2L1681.5 291.9M1680 292.6L1681.5 291.9L1679.9 291.5M1701.7 199.7L1703.8 200.2M1702.1 200.4L1703.8 200.2L1702.3 199.2M1701.7 222.8L1704.5 223.2M1702.9 223.6L1704.5 223.2L1703 222.4M1701.7 246L1704.9 246.1M1703.3 246.6L1704.9 246.1L1703.4 245.5M1701.7 269.1L1705 269M1703.4 269.6L1705 269L1703.4 268.5M1701.7 292.2L1704.7 291.9M1703.2 292.6L1704.7 291.9L1703 291.5M1701.7 315.4L1704 314.9M1702.6 315.8L1704 314.9L1702.3 314.6M1724.9 199.7L1726.9 200.2M1725.2 200.4L1726.9 200.2L1725.5 199.2M1724.9 222.8L1727.7 223.2M1726 223.6L1727.7 223.2L1726.2 222.4M1724.9 246L1728.1 246.1M1726.5 246.6L1728.1 246.1L1726.5 245.5M1724.9 269.1L1728.2 269M1726.6 269.6L1728.2 269L1726.5 268.5M1724.9 292.2L1727.8 291.9M1726.3 292.6L1727.8 291.9L1726.2 291.5M1724.9 315.4L1727.2 314.9M1725.7 315.8L1727.2 314.9L1725.5 314.6M1748 199.7L1750.1 200.2M1748.4 200.4L1750.1 200.2L1748.7 199.3M1748 222.8L1750.9 223.2M1749.2 223.6L1750.9 223.2L1749.4 222.4M1748 246L1751.3 246.1M1749.7 246.6L1751.3 246.1L1749.7 245.5M1748 269.1L1751.3 269M1749.8 269.6L1751.3 269L1749.7 268.5M1748 292.2L1751 291.9M1749.5 292.6L1751 291.9L1749.4 291.5M1748 315.4L1750.4 314.9M1748.9 315.8L1750.4 314.9L1748.7 314.6M1771.1 199.7L1773.3 200.2M1771.6 200.4L1773.3 200.2L1771.9 199.3M1771.1 222.8L1774.1 223.3M1772.4 223.6L1774.1 223.3L1772.6 222.5M1771.1 246L1774.5 246.2M1772.9 246.6L1774.5 246.2L1773 245.5M1771.1 269.1L1774.6 269M1773 269.6L1774.6 269L1773 268.5M1771.1 292.2L1774.3 291.9M1772.8 292.6L1774.3 291.9L1772.6 291.5M1771.1 315.4L1773.6 314.8M1772.1 315.7L1773.6 314.8L1771.9 314.6M1794.2 199.7L1796.6 200.3M1794.9 200.4L1796.6 200.3L1795.1 199.3M1794.2 222.8L1797.4 223.3M1795.7 223.6L1797.4 223.3L1795.9 222.5M1794.2 246L1797.8 246.2M1796.2 246.7L1797.8 246.2L1796.3 245.5M1794.2 269.1L1797.9 269M1796.3 269.6L1797.9 269L1796.3 268.4M1794.2 292.2L1797.6 291.8M1796 292.6L1797.6 291.8L1795.9 291.4M1794.2 315.4L1796.9 314.8M1795.4 315.7L1796.9 314.8L1795.2 314.6M1817.4 199.7L1819.9 200.4M1818.2 200.5L1819.9 200.4L1818.5 199.4M1817.4 222.8L1820.7 223.4M1819.1 223.7L1820.7 223.4L1819.3 222.5M1817.4 246L1821.2 246.2M1819.6 246.7L1821.2 246.2L1819.7 245.5M1817.4 269.1L1821.3 269M1819.7 269.6L1821.3 269L1819.7 268.4M1817.4 292.2L1820.9 291.8M1819.4 292.5L1820.9 291.8L1819.3 291.4M1817.4 315.4L1820.2 314.7M1818.8 315.6L1820.2 314.7L1818.5 314.5M1840.5 199.7L1843.3 200.5M1841.6 200.6L1843.3 200.5L1841.9 199.5M1840.5 222.8L1844.2 223.5M1842.5 223.8L1844.2 223.5L1842.8 222.6M1840.5 246L1844.8 246.3M1843.1 246.7L1844.8 246.3L1843.2 245.6M1840.5 269.1L1844.8 268.9M1843.3 269.6L1844.8 268.9L1843.2 268.4M1840.5 292.2L1844.4 291.7M1842.9 292.5L1844.4 291.7L1842.8 291.3M1840.5 315.4L1843.6 314.6M1842.2 315.5L1843.6 314.6L1841.9 314.4M1863.6 199.7L1866.7 200.8M1865 200.8L1866.7 200.8L1865.4 199.7M1863.6 222.8L1867.9 223.8M1866.2 224L1867.9 223.8L1866.4 222.8M1863.6 246L1868.5 246.4M1866.9 246.8L1868.5 246.4L1867 245.7M1863.6 269.1L1868.6 268.9M1867.1 269.5L1868.6 268.9L1867 268.4M1863.6 292.2L1868.1 291.4M1866.7 292.3L1868.1 291.4L1866.5 291.1M1863.6 315.4L1867.1 314.3M1865.8 315.3L1867.1 314.3L1865.5 314.2M1886.8 199.7L1890.3 201.3M1888.6 201.2L1890.3 201.3L1889.1 200.1M1886.8 222.8L1891.7 224.2M1890 224.4L1891.7 224.2L1890.3 223.2M1886.8 246L1892.7 246.7M1891 247L1892.7 246.7L1891.2 245.9M1886.8 269.1L1892.8 268.8M1891.3 269.4L1892.8 268.8L1891.2 268.3M1886.8 292.2L1892.1 291M1890.7 291.9L1892.1 291L1890.4 290.8M1886.8 315.4L1890.8 313.8M1889.5 314.9L1890.8 313.8L1889.1 313.8M1909.9 199.7L1913.8 202.1M1912.1 201.8L1913.8 202.1L1912.8 200.8M1909.9 222.8L1915.7 225.2M1914 225.1L1915.7 225.2L1914.5 224M1909.9 246L1917.3 247.2M1915.4 247.6L1917.3 247.2L1915.6 246.3M1909.9 269.1L1917.6 268.5M1915.8 269.3L1917.6 268.5L1915.7 267.9M1909.9 292.2L1916.4 290.1M1915 291.2L1916.4 290.1L1914.6 290.1M1909.9 315.4L1914.5 312.9M1913.4 314.2L1914.5 312.9L1912.8 313.1M1933 199.7L1936.9 203.3M1935.4 202.6L1936.9 203.3L1936.2 201.8M1933 222.8L1939.5 227M1937.5 226.5L1939.5 227L1938.3 225.4M1933 246L1942.5 248.8M1940 248.9L1942.5 248.8L1940.5 247.2M1933 269.1L1943.3 267.7M1940.9 269L1943.3 267.7L1940.7 267.1M1933 292.2L1940.6 288.2M1939.1 289.9L1940.6 288.2L1938.4 288.5M1933 315.4L1937.8 311.5M1936.9 312.9L1937.8 311.5L1936.2 312M1956.2 222.8L1961.5 229.6M1959.6 228.4L1961.5 229.6L1960.8 227.5M1956.2 246L1966.4 253.4M1963.3 252.5L1966.4 253.4L1964.6 250.7M1956.2 269.1L1969.7 264.4M1966.8 266.7L1969.7 264.4L1965.9 264.3M1956.2 292.2L1962.8 284.7M1961.8 287.2L1962.8 284.7L1960.5 286M1956 245L1978 251M1972.1 251.5L1978 251L1973.2 247.6M1956 268L1986 265M1980.4 267.7L1986 265L1980 263.5" fill="none" stroke="#000" stroke-width="1.2" stroke-linecap="round" stroke-linejoin="round"/><g fill="none" stroke="#000" stroke-width="1.3"><circle cx="1969" cy="235.5" r="2.5"/><circle cx="1969.8" cy="240" r="2.5"/><circle cx="1970.4" cy="244.6" r="2.5"/><circle cx="1970.8" cy="249.1" r="2.5"/><circle cx="1971.1" cy="253.7" r="2.5"/><circle cx="1971.3" cy="258.3" r="2.5"/><circle cx="1971.3" cy="262.8" r="2.5"/><circle cx="1971.1" cy="267.4" r="2.5"/><circle cx="1970.8" cy="272" r="2.5"/><circle cx="1970.4" cy="276.5" r="2.5"/><circle cx="1969.8" cy="281.1" r="2.5"/><circle cx="1969" cy="285.6" r="2.5"/></g><path d="M442.6 597.1L449.4 595.4L454.5 593.5L459.4 591.0L464.0 588.0L468.3 584.5L472.2 580.6L475.7 576.3L478.7 571.7L481.2 566.8L483.1 561.7L484.6 556.3L485.4 550.9L485.7 545.4L485.4 539.9L484.6 534.5L483.1 529.1L482.2 526.5L480.0 521.5L478.7 519.1L475.7 514.5L472.2 510.2L470.3 508.2L468.3 506.3L464.0 502.8L459.4 499.8L454.5 497.3L452.0 496.3L446.7 494.6L444.0 493.9L439.5 493.2L434.9 487.7L431.1 483.8L425.0 478.6L420.7 475.5L416.2 472.8L409.2 469.4L404.3 467.6L399.4 466.2L391.8 464.9L384.2 464.4L220.0 464.4L212.4 464.9L204.8 466.2L199.9 467.6L195.0 469.4L190.3 471.6L185.7 474.1L181.3 477.0L177.1 480.2L171.2 485.7L167.5 489.7L164.1 494.0L160.9 498.6L158.1 503.4L155.5 508.4L153.3 513.6L151.4 519.0L149.8 524.5L148.1 532.9L147.2 541.6L147.0 550.2L147.4 556.0L148.6 564.6L150.6 573.0L153.3 581.1L156.8 588.8L160.9 596.1L165.7 602.9L171.2 609.0L177.1 614.5L183.5 619.2L190.3 623.1L197.4 626.2L204.8 628.5L212.4 629.8L220.0 630.3L384.2 630.3L391.8 629.8L399.4 628.5L406.8 626.2L413.9 623.1L420.7 619.2L425.0 616.1L431.1 610.9L436.7 605.0L440.1 600.7Z" fill="none" stroke="#000" stroke-width="3.5" stroke-linejoin="round"/><path d="M164.2 509.7L172.6 511.1M170.4 511.5L172.6 511.1L170.6 510M164.2 532.9L174 533.5M171.5 534.2L174 533.5L171.6 532.4M164.2 556L174 555.6M171.7 556.6L174 555.6L171.6 554.8M164.2 579.1L173.2 577.9M171.1 579L173.2 577.9L170.9 577.4M187.3 486.6L191.2 487.6M189.5 487.7L191.2 487.6L189.8 486.6M187.3 509.7L196.1 511.1M193.8 511.6L196.1 511.1L194.1 510M187.3 532.9L197.5 533.5M195 534.2L197.5 533.5L195.1 532.4M187.3 556L197.6 555.6M195.1 556.6L197.6 555.6L195.1 554.8M187.3 579.1L196.7 577.9M194.5 579L196.7 577.9L194.3 577.3M187.3 602.2L192.9 601M191.4 601.9L192.9 601L191.2 600.8M210.5 486.6L214.5 487.6M212.8 487.8L214.5 487.6L213.1 486.7M210.5 509.7L219.6 511.2M217.2 511.6L219.6 511.2L217.5 510M210.5 532.9L221.1 533.5M218.4 534.3L221.1 533.5L218.6 532.4M210.5 556L221.2 555.6M218.6 556.6L221.2 555.6L218.5 554.7M210.5 579.1L220.2 577.8M218 579L220.2 577.8L217.7 577.3M210.5 602.2L216.2 600.9M214.8 601.8L216.2 600.9L214.5 600.7M233.6 486.6L237.8 487.7M236.1 487.8L237.8 487.7L236.4 486.7M233.6 509.7L243.1 511.2M240.7 511.7L243.1 511.2L240.9 510M233.6 532.9L244.7 533.5M241.9 534.4L244.7 533.5L242 532.4M233.6 556L244.8 555.6M242.1 556.7L244.8 555.6L242 554.7M233.6 579.1L243.8 577.8M241.4 579L243.8 577.8L241.2 577.2M233.6 602.2L239.6 600.8M238.2 601.8L239.6 600.8L237.9 600.6M256.7 486.6L261.1 487.7M259.4 487.9L261.1 487.7L259.7 486.8M256.7 509.7L266.7 511.3M264.1 511.8L266.7 511.3L264.4 510M256.7 532.9L268.3 533.6M265.4 534.4L268.3 533.6L265.5 532.4M256.7 556L268.4 555.6M265.6 556.7L268.4 555.6L265.5 554.6M256.7 579.1L267.4 577.7M264.9 579L267.4 577.7L264.6 577.1M256.7 602.2L263 600.8M261.6 601.7L263 600.8L261.4 600.6M279.8 486.6L284.5 487.8M282.8 488L284.5 487.8L283.1 486.9M279.8 509.7L290.3 511.4M287.6 511.9L290.3 511.4L287.9 510.1M279.8 532.9L292 533.6M289 534.5L292 533.6L289.1 532.3M279.8 556L292.1 555.5M289.1 556.7L292.1 555.5L289 554.6M279.8 579.1L291 577.6M288.4 579L291 577.6L288.1 577M279.8 602.2L286.5 600.7M285 601.7L286.5 600.7L284.7 600.5M303 486.6L307.9 487.9M306.2 488.1L307.9 487.9L306.5 487M303 509.7L314 511.5M311.1 512.1L314 511.5L311.4 510.1M303 532.9L315.7 533.7M312.6 534.6L315.7 533.7L312.7 532.3M303 556L315.8 555.5M312.7 556.8L315.8 555.5L312.6 554.5M303 579.1L314.7 577.5M312 578.9L314.7 577.5L311.7 576.9M303 602.2L310 600.6M308.4 601.6L310 600.6L308.1 600.4M326.1 486.6L331.4 488.1M329.7 488.2L331.4 488.1L330.1 487.1M326.1 509.7L337.7 511.7M334.7 512.2L337.7 511.7L335.1 510.2M326.1 532.9L339.6 533.7M336.2 534.7L339.6 533.7L336.4 532.3M326.1 556L339.7 555.5M336.4 556.8L339.7 555.5L336.3 554.4M326.1 579.1L338.5 577.4M335.6 578.9L338.5 577.4L335.3 576.7M326.1 602.2L333.6 600.4M331.9 601.5L333.6 600.4L331.6 600.2M349.2 486.6L355 488.4M353.3 488.5L355 488.4L353.7 487.3M349.2 509.7L361.7 511.9M358.4 512.5L361.7 511.9L358.8 510.3M349.2 532.9L363.7 533.8M360.1 534.9L363.7 533.8L360.3 532.3M349.2 556L363.8 555.4M360.3 556.8L363.8 555.4L360.2 554.2M349.2 579.1L362.5 577.1M359.4 578.8L362.5 577.1L359.1 576.4M349.2 602.2L357.2 600.1M355.5 601.3L357.2 600.1L355.1 599.9M372.4 486.6L378.7 488.8M376.9 488.8L378.7 488.8L377.3 487.7M372.4 509.7L385.8 512.4M382.3 512.9L385.8 512.4L382.8 510.6M372.4 532.9L388.2 534.1M384.2 535.2L388.2 534.1L384.4 532.4M372.4 556L388.3 555.2M384.5 556.8L388.3 555.2L384.4 554M372.4 579.1L386.7 576.7M383.4 578.5L386.7 576.7L383 576M372.4 602.2L381 599.6M379.1 601L381 599.6L378.7 599.5M395.5 486.6L402.3 489.6M400.4 489.5L402.3 489.6L400.9 488.2M395.5 509.7L410.1 513.3M406.2 513.8L410.1 513.3L406.9 511.2M395.5 532.9L413.2 534.6M408.7 535.7L413.2 534.6L409 532.6M395.5 556L413.4 554.8M409.1 556.7L413.4 554.8L408.9 553.5M395.5 579.1L411.1 575.8M407.6 578L411.1 575.8L407 575.2M395.5 602.2L404.7 598.8M402.8 600.5L404.7 598.8L402.2 598.8M418.6 486.6L425.5 490.7M423.5 490.3L425.5 490.7L424.2 489.1M418.6 509.7L434.1 515.1M429.9 515.2L434.1 515.1L430.8 512.4M418.6 532.9L438.9 536.1M433.6 537.1L438.9 536.1L434.2 533.5M418.6 556L439.3 553.6M434.4 556L439.3 553.6L434 552.4M418.6 579.1L435.3 573.9M431.7 576.6L435.3 573.9L430.8 573.7M418.6 602.2L428.1 597.6M426.2 599.6L428.1 597.6L425.4 597.9M441.8 509.7L456.1 517.6M451.9 516.9L456.1 517.6L453.3 514.4M441.8 532.9L462.5 541.4M456.7 541.1L462.5 541.4L458.2 537.5M441.8 556L463.9 548.3M459.2 552.2L463.9 548.3L457.8 548.2M441.8 579.1L457.2 571.1M454.2 574.4L457.2 571.1L452.8 571.7M452 533L492 533M486.2 535.1L492 533L486.2 530.9M452 555L493 554M487.2 556.3L493 554L487.1 552M448 508L462 503M459 505.5L462 503L458.1 503M470 505L476 500M475 501.8L476 500L474.1 500.7M448 579L466 582M461.3 582.9L466 582L461.9 579.7M470 577L484 580M480.3 580.5L484 580L480.8 578" fill="none" stroke="#000" stroke-width="1.2" stroke-linecap="round" stroke-linejoin="round"/><g fill="none" stroke="#000" stroke-width="1.3"><circle cx="441" cy="499" r="2.8"/><circle cx="443.1" cy="503.5" r="2.8"/><circle cx="444.9" cy="508.1" r="2.8"/><circle cx="446.6" cy="512.8" r="2.8"/><circle cx="448" cy="517.6" r="2.8"/><circle cx="449.2" cy="522.4" r="2.8"/><circle cx="450.2" cy="527.2" r="2.8"/><circle cx="451" cy="532.1" r="2.8"/><circle cx="451.6" cy="537.1" r="2.8"/><circle cx="451.9" cy="542" r="2.8"/><circle cx="452" cy="547" r="2.8"/><circle cx="451.9" cy="552" r="2.8"/><circle cx="451.6" cy="556.9" r="2.8"/><circle cx="451" cy="561.9" r="2.8"/><circle cx="450.2" cy="566.8" r="2.8"/><circle cx="449.2" cy="571.6" r="2.8"/><circle cx="448" cy="576.4" r="2.8"/><circle cx="446.6" cy="581.2" r="2.8"/><circle cx="444.9" cy="585.9" r="2.8"/><circle cx="443.1" cy="590.5" r="2.8"/><circle cx="441" cy="595" r="2.8"/></g><path d="M931.7 496.4L928.4 491.8L922.9 485.7L917.0 480.2L910.6 475.5L903.8 471.6L899.1 469.4L891.8 466.9L884.3 465.2L879.2 464.6L874.1 464.4L740.0 464.4L734.9 464.6L729.8 465.2L722.3 466.9L717.4 468.5L710.3 471.6L703.5 475.5L697.1 480.2L691.2 485.7L685.7 491.8L680.9 498.6L676.8 505.9L673.3 513.6L670.6 521.7L668.6 530.1L667.4 538.7L667.0 547.3L667.4 556.0L668.6 564.6L670.6 573.0L672.3 578.4L674.4 583.7L676.8 588.8L680.9 596.1L684.1 600.7L687.5 605.0L691.2 609.0L695.1 612.7L699.2 616.1L703.5 619.2L708.0 621.9L712.7 624.3L717.4 626.2L722.3 627.8L729.8 629.5L734.9 630.1L740.0 630.3L874.1 630.3L881.7 629.8L889.3 628.5L896.7 626.2L903.8 623.1L908.4 620.6L914.9 616.1L921.0 610.9L926.6 605.0L931.0 599.3L936.4 601.7L939.2 602.7L945.0 604.2L951.0 605.2L957.0 605.5L960.0 605.4L966.0 604.8L971.9 603.5L977.6 601.7L983.1 599.2L988.3 596.2L990.8 594.5L995.5 590.7L999.7 586.5L1003.5 581.8L1006.8 576.8L1009.5 571.4L1011.7 565.8L1013.2 560.0L1014.2 554.0L1014.5 548.0L1014.2 542.0L1013.8 539.0L1012.5 533.1L1010.7 527.4L1008.2 521.9L1005.2 516.7L1001.7 511.8L997.7 507.3L993.2 503.3L988.3 499.8L983.1 496.8L980.4 495.5L974.8 493.3L969.0 491.8L963.0 490.8L960.0 490.6L954.0 490.6L948.0 491.2L942.1 492.5L936.4 494.3Z" fill="none" stroke="#000" stroke-width="3.5" stroke-linejoin="round"/><path d="M693.5 509.7L703 511.2M700.6 511.7L703 511.2L700.8 510M693.5 532.9L704.6 533.5M701.8 534.4L704.6 533.5L701.9 532.4M693.5 556L704.7 555.6M702 556.7L704.7 555.6L701.9 554.7M693.5 579.1L703.7 577.8M701.3 579L703.7 577.8L701.1 577.2M693.5 602.2L699.5 600.9M698.1 601.8L699.5 600.9L697.8 600.7M716.7 486.6L721 487.7M719.3 487.9L721 487.7L719.6 486.8M716.7 509.7L726.6 511.3M724 511.8L726.6 511.3L724.3 510M716.7 532.9L728.3 533.6M725.4 534.4L728.3 533.6L725.5 532.4M716.7 556L728.3 555.6M725.5 556.7L728.3 555.6L725.4 554.6M716.7 579.1L727.3 577.7M724.8 579L727.3 577.7L724.6 577.1M716.7 602.2L723 600.8M721.5 601.7L723 600.8L721.3 600.6M739.8 486.6L744.4 487.8M742.7 488L744.4 487.8L743 486.8M739.8 509.7L750.2 511.4M747.5 511.9L750.2 511.4L747.8 510.1M739.8 532.9L751.9 533.6M748.9 534.5L751.9 533.6L749 532.3M739.8 556L752 555.5M749.1 556.7L752 555.5L749 554.6M739.8 579.1L751 577.6M748.4 579L751 577.6L748.1 577M739.8 602.2L746.4 600.7M744.9 601.7L746.4 600.7L744.6 600.5M762.9 486.6L767.8 487.9M766.1 488L767.8 487.9L766.4 486.9M762.9 509.7L773.9 511.5M771 512L773.9 511.5L771.4 510.1M762.9 532.9L775.7 533.6M772.5 534.6L775.7 533.6L772.6 532.3M762.9 556L775.8 555.5M772.7 556.8L775.8 555.5L772.6 554.5M762.9 579.1L774.6 577.5M771.9 579L774.6 577.5L771.6 576.9M762.9 602.2L769.9 600.6M768.3 601.6L769.9 600.6L768 600.4M786 486.6L791.2 488M789.5 488.1L791.2 488L789.8 487M786 509.7L797.6 511.6M794.6 512.2L797.6 511.6L794.9 510.1M786 532.9L799.5 533.7M796.1 534.7L799.5 533.7L796.3 532.3M786 556L799.6 555.5M796.3 556.8L799.6 555.5L796.2 554.4M786 579.1L798.4 577.4M795.5 578.9L798.4 577.4L795.2 576.8M786 602.2L793.4 600.5M791.7 601.6L793.4 600.5L791.4 600.3M809.2 486.6L814.7 488.1M813 488.2L814.7 488.1L813.3 487.1M809.2 509.7L821.3 511.7M818.2 512.3L821.3 511.7L818.5 510.2M809.2 532.9L823.3 533.8M819.8 534.8L823.3 533.8L820 532.3M809.2 556L823.4 555.5M820 556.9L823.4 555.5L819.9 554.3M809.2 579.1L822.2 577.3M819.2 578.9L822.2 577.3L818.8 576.6M809.2 602.2L817 600.4M815.2 601.5L817 600.4L814.9 600.1M832.3 486.6L838.2 488.3M836.5 488.4L838.2 488.3L836.8 487.3M832.3 509.7L845.2 511.9M841.9 512.6L845.2 511.9L842.3 510.3M832.3 532.9L847.4 533.9M843.6 535L847.4 533.9L843.8 532.3M832.3 556L847.5 555.4M843.8 556.9L847.5 555.4L843.7 554.2M832.3 579.1L846.1 577.1M842.9 578.8L846.1 577.1L842.6 576.4M832.3 602.2L840.6 600.1M838.8 601.4L840.6 600.1L838.4 599.9M855.4 486.6L861.8 488.6M860 488.7L861.8 488.6L860.4 487.6M855.4 509.7L869.2 512.3M865.6 512.9L869.2 512.3L866.1 510.5M855.4 532.9L871.6 534.1M867.6 535.2L871.6 534.1L867.8 532.3M855.4 556L871.8 555.3M867.9 556.9L871.8 555.3L867.7 554M855.4 579.1L870.2 576.8M866.8 578.7L870.2 576.8L866.4 576M855.4 602.2L864.3 599.8M862.4 601.2L864.3 599.8L861.9 599.6M878.6 486.6L885.3 489.2M883.4 489.1L885.3 489.2L883.9 488M878.6 509.7L893.3 513M889.4 513.5L893.3 513L890 510.9M878.6 532.9L896.3 534.5M891.8 535.6L896.3 534.5L892.1 532.5M878.6 556L896.5 555.1M892.2 556.9L896.5 555.1L892.1 553.7M878.6 579.1L894.5 576.1M890.9 578.3L894.5 576.1L890.4 575.5M878.6 602.2L888 599.2M886 600.8L888 599.2L885.4 599.1M901.7 486.6L908.6 489.9M906.6 489.7L908.6 489.9L907.2 488.5M901.7 509.7L917.3 514.2M913.1 514.5L917.3 514.2L913.9 511.8M901.7 532.9L921.3 535.6M916.3 536.7L921.3 535.6L916.8 533.2M901.7 556L921.9 554.4M917.1 556.6L921.9 554.4L916.8 553M901.7 579.1L918.7 574.8M914.9 577.4L918.7 574.8L914.2 574.3M901.7 602.2L911.4 598.3M909.4 600.1L911.4 598.3L908.7 598.4M924.8 509.7L939.9 515.9M935.6 515.7L939.9 515.9L936.7 513M924.8 532.9L944.9 539.1M939.4 539.4L944.9 539.1L940.6 535.8M924.8 556L947.1 551.1M942.1 554.3L947.1 551.1L941.2 550.3M924.8 579.1L941.3 572.6M937.8 575.7L941.3 572.6L936.7 572.7M948 509L966 497M962.7 501.5L966 497L960.5 498.3M972 508L982 497M980.5 500.6L982 497L978.6 498.8M998 505L1004 495M1003.4 498L1004 495L1001.6 496.9M940 532L995 528M989.3 530.5L995 528L989 526.3M970 533L996 531M990.4 533.6L996 531L990 529.3M996 532L1012 528M1008.4 530.4L1012 528L1007.7 527.6M940 555L998 558M992.1 559.8L998 558L992.3 555.6M970 555L998 557M992 558.7L998 557L992.3 554.5M990 556L1012 558M1006.4 559.5L1012 558L1006.8 555.6M940 578L972 575M966.4 577.7L972 575L966 573.4M948 579L975 586M968.8 586.6L975 586L969.9 582.5M970 579L990 588M984.3 587.6L990 588L985.9 584M995 580L1003 588M1000.3 586.8L1003 588L1001.8 585.3" fill="none" stroke="#000" stroke-width="1.2" stroke-linecap="round" stroke-linejoin="round"/><g fill="none" stroke="#000" stroke-width="1.3"><circle cx="933.7" cy="502.4" r="2.8"/><circle cx="934.2" cy="507.5" r="2.8"/><circle cx="934.7" cy="512.7" r="2.8"/><circle cx="935.1" cy="517.8" r="2.8"/><circle cx="935.5" cy="522.9" r="2.8"/><circle cx="935.8" cy="528.1" r="2.8"/><circle cx="936" cy="533.2" r="2.8"/><circle cx="936.2" cy="538.4" r="2.8"/><circle cx="936.3" cy="543.5" r="2.8"/><circle cx="936.3" cy="548.7" r="2.8"/><circle cx="936.3" cy="553.9" r="2.8"/><circle cx="936.2" cy="559" r="2.8"/><circle cx="936" cy="564.2" r="2.8"/><circle cx="935.8" cy="569.3" r="2.8"/><circle cx="935.5" cy="574.5" r="2.8"/><circle cx="935.1" cy="579.6" r="2.8"/><circle cx="934.7" cy="584.7" r="2.8"/><circle cx="934.2" cy="589.9" r="2.8"/><circle cx="933.7" cy="595" r="2.8"/></g><path d="M1450.2 496.5L1446.8 491.8L1441.3 485.7L1435.4 480.2L1429.0 475.5L1422.2 471.6L1415.1 468.5L1407.7 466.2L1400.1 464.9L1392.5 464.4L1229.2 464.4L1221.6 464.9L1214.0 466.2L1206.6 468.5L1199.5 471.6L1192.7 475.5L1186.3 480.2L1180.4 485.7L1174.9 491.8L1170.1 498.6L1166.0 505.9L1163.6 511.0L1160.6 519.0L1158.4 527.3L1156.9 535.8L1156.2 544.5L1156.4 553.1L1157.3 561.8L1159.0 570.2L1160.6 575.7L1162.5 581.1L1164.7 586.3L1167.3 591.3L1170.1 596.1L1173.3 600.7L1176.7 605.0L1180.4 609.0L1184.3 612.7L1188.4 616.1L1192.7 619.2L1197.2 621.9L1201.9 624.3L1206.6 626.2L1214.0 628.5L1221.6 629.8L1229.2 630.3L1392.5 630.3L1400.1 629.8L1407.7 628.5L1415.1 626.2L1419.8 624.3L1424.5 621.9L1429.0 619.2L1435.4 614.5L1441.3 609.0L1446.8 602.9L1450.2 598.2L1453.8 596.8L1458.8 594.2L1461.3 592.7L1465.8 589.4L1468.0 587.6L1472.0 583.5L1473.8 581.4L1477.2 576.8L1480.0 571.9L1482.3 566.7L1483.3 564.1L1484.7 558.6L1485.6 553.0L1485.8 550.2L1485.8 544.5L1485.2 538.9L1484.1 533.3L1482.3 528.0L1480.0 522.8L1477.2 517.9L1473.8 513.3L1470.1 509.1L1468.0 507.1L1463.6 503.6L1458.8 500.5L1456.4 499.1Z" fill="none" stroke="#000" stroke-width="3.5" stroke-linejoin="round"/><path d="M1173 509.7L1161.8 508.2M1164.7 507.6L1161.8 508.2L1164.4 509.6M1173 532.9L1160.1 532.2M1163.3 531.2L1160.1 532.2L1163.2 533.5M1173 556L1160 556.4M1163.1 555.1L1160 556.4L1163.2 557.5M1173 579.1L1161.1 580.5M1163.9 579.1L1161.1 580.5L1164.1 581.2M1196.1 486.6L1190.8 485.4M1192.4 485.2L1190.8 485.4L1192.2 486.3M1196.1 509.7L1184.9 508.2M1187.8 507.6L1184.9 508.2L1187.5 509.6M1196.1 532.9L1183.2 532.2M1186.4 531.2L1183.2 532.2L1186.3 533.5M1196.1 556L1183.1 556.4M1186.3 555.1L1183.1 556.4L1186.3 557.5M1196.1 579.1L1184.2 580.5M1187 579.1L1184.2 580.5L1187.2 581.2M1196.1 602.2L1188.8 603.7M1190.4 602.7L1188.8 603.7L1190.7 604M1219.3 486.6L1213.9 485.4M1215.6 485.2L1213.9 485.4L1215.3 486.3M1219.3 509.7L1208 508.2M1210.9 507.6L1208 508.2L1210.6 509.6M1219.3 532.9L1206.3 532.2M1209.5 531.2L1206.3 532.2L1209.4 533.5M1219.3 556L1206.2 556.4M1209.4 555.1L1206.2 556.4L1209.4 557.5M1219.3 579.1L1207.3 580.5M1210.1 579.1L1207.3 580.5L1210.3 581.2M1219.3 602.2L1211.9 603.7M1213.5 602.7L1211.9 603.7L1213.8 604M1242.4 486.6L1237 485.4M1238.7 485.2L1237 485.4L1238.4 486.3M1242.4 509.7L1231.1 508.2M1234 507.6L1231.1 508.2L1233.7 509.6M1242.4 532.9L1229.4 532.2M1232.6 531.2L1229.4 532.2L1232.5 533.5M1242.4 556L1229.3 556.4M1232.5 555.1L1229.3 556.4L1232.5 557.5M1242.4 579.1L1230.4 580.5M1233.2 579.1L1230.4 580.5L1233.5 581.2M1242.4 602.2L1235 603.7M1236.7 602.7L1235 603.7L1236.9 604M1265.5 486.6L1260.1 485.4M1261.8 485.2L1260.1 485.4L1261.5 486.3M1265.5 509.7L1254.2 508.2M1257.1 507.6L1254.2 508.2L1256.8 509.6M1265.5 532.9L1252.5 532.2M1255.7 531.2L1252.5 532.2L1255.6 533.5M1265.5 556L1252.4 556.4M1255.6 555.1L1252.4 556.4L1255.6 557.5M1265.5 579.1L1253.5 580.5M1256.3 579.1L1253.5 580.5L1256.5 581.2M1265.5 602.2L1258.1 603.7M1259.7 602.7L1258.1 603.7L1260 604M1288.7 486.6L1283.1 485.3M1284.8 485.1L1283.1 485.3L1284.6 486.3M1288.7 509.7L1277.2 508.1M1280.2 507.5L1277.2 508.1L1279.9 509.5M1288.7 532.9L1275.5 532.2M1278.8 531.2L1275.5 532.2L1278.7 533.5M1288.7 556L1275.4 556.4M1278.6 555.1L1275.4 556.4L1278.7 557.5M1288.7 579.1L1276.5 580.5M1279.4 579.1L1276.5 580.5L1279.6 581.3M1288.7 602.2L1281.1 603.8M1282.8 602.7L1281.1 603.8L1283.1 604.1M1311.8 486.6L1306.2 485.3M1307.8 485.1L1306.2 485.3L1307.6 486.2M1311.8 509.7L1300.2 508.1M1303.2 507.5L1300.2 508.1L1302.9 509.5M1311.8 532.9L1298.5 532.1M1301.8 531.1L1298.5 532.1L1301.7 533.5M1311.8 556L1298.4 556.4M1301.6 555.1L1298.4 556.4L1301.7 557.5M1311.8 579.1L1299.5 580.6M1302.4 579.1L1299.5 580.6L1302.6 581.3M1311.8 602.2L1304.1 603.8M1305.9 602.8L1304.1 603.8L1306.1 604.1M1334.9 486.6L1329.2 485.2M1330.8 485L1329.2 485.2L1330.6 486.1M1334.9 509.7L1323.2 508M1326.2 507.4L1323.2 508L1325.9 509.5M1334.9 532.9L1321.3 532.1M1324.7 531.1L1321.3 532.1L1324.6 533.5M1334.9 556L1321.2 556.5M1324.5 555.1L1321.2 556.5L1324.6 557.6M1334.9 579.1L1322.4 580.7M1325.3 579.2L1322.4 580.7L1325.6 581.4M1334.9 602.2L1327.1 604M1328.9 602.9L1327.1 604L1329.2 604.2M1358 486.6L1352.1 484.9M1353.8 484.8L1352.1 484.9L1353.5 485.9M1358 509.7L1346 507.8M1349.1 507.2L1346 507.8L1348.8 509.3M1358 532.9L1344 532M1347.5 530.9L1344 532L1347.3 533.4M1358 556L1343.9 556.5M1347.3 555.1L1343.9 556.5L1347.4 557.7M1358 579.1L1345.2 580.9M1348.2 579.3L1345.2 580.9L1348.5 581.6M1358 602.2L1350.1 604.2M1351.8 603L1350.1 604.2L1352.2 604.4M1381.2 486.6L1375.2 484.6M1376.9 484.5L1375.2 484.6L1376.5 485.7M1381.2 509.7L1368.8 507.3M1372 506.8L1368.8 507.3L1371.6 509M1381.2 532.9L1366.4 531.6M1370.1 530.6L1366.4 531.6L1369.9 533.3M1381.2 556L1366.2 556.8M1369.8 555.2L1366.2 556.8L1370 557.9M1381.2 579.1L1367.9 581.4M1370.9 579.7L1367.9 581.4L1371.3 582M1381.2 602.2L1373.1 604.6M1374.8 603.3L1373.1 604.6L1375.2 604.7M1430 510L1410 503M1415.5 502.9L1410 503L1414.3 506.5M1452 505L1434 509M1438 506.4L1434 509L1438.8 509.6M1452 533L1407 529M1413 527.4L1407 529L1412.6 531.6M1475 533L1449 538M1454.3 534.8L1449 538L1455.1 539M1475 556L1449 553M1455 551.6L1449 553L1454.5 555.8M1430 556L1408 560M1413 557.1L1408 560L1413.7 561M1452 556L1412 559M1417.7 556.4L1412 559L1418 560.7M1475 579L1460 568M1464.6 569.4L1460 568L1462.7 572M1430 579L1409 586M1413.5 582.4L1409 586L1414.8 586.2M1452 578L1430 583M1434.9 579.8L1430 583L1435.8 583.7" fill="none" stroke="#000" stroke-width="1.2" stroke-linecap="round" stroke-linejoin="round"/><g fill="none" stroke="#000" stroke-width="1.3"><circle cx="1448.6" cy="500.8" r="2.8"/><circle cx="1445" cy="504.5" r="2.8"/><circle cx="1441.7" cy="508.4" r="2.8"/><circle cx="1438.8" cy="512.6" r="2.8"/><circle cx="1436.1" cy="517" r="2.8"/><circle cx="1433.8" cy="521.6" r="2.8"/><circle cx="1431.9" cy="526.4" r="2.8"/><circle cx="1430.3" cy="531.2" r="2.8"/><circle cx="1429.1" cy="536.2" r="2.8"/><circle cx="1428.3" cy="541.3" r="2.8"/><circle cx="1428" cy="546.4" r="2.8"/><circle cx="1428" cy="551.6" r="2.8"/><circle cx="1428.3" cy="556.7" r="2.8"/><circle cx="1429.1" cy="561.8" r="2.8"/><circle cx="1430.3" cy="566.8" r="2.8"/><circle cx="1431.9" cy="571.6" r="2.8"/><circle cx="1433.8" cy="576.4" r="2.8"/><circle cx="1436.1" cy="581" r="2.8"/><circle cx="1438.8" cy="585.4" r="2.8"/><circle cx="1441.7" cy="589.6" r="2.8"/><circle cx="1445" cy="593.5" r="2.8"/><circle cx="1448.6" cy="597.2" r="2.8"/></g><path d="M1735.1 464.4 L1904.6 464.4 A72.96 82.91 0 0 1 1904.6 630.3 L1735.1 630.3 A72.96 82.91 0 0 1 1735.1 464.4 Z" fill="none" stroke="#000" stroke-width="3.5" stroke-linejoin="round"/><path d="M1676 532.9L1672.1 532.7M1673.7 532.2L1672.1 532.7L1673.7 533.4M1676 556L1672 556.1M1673.6 555.5L1672 556.1L1673.6 556.6M1676 579.1L1672.5 579.4M1674 578.7L1672.5 579.4L1674.1 579.8M1699.1 486.6L1696.8 486.3M1698.5 485.9L1696.8 486.3L1698.3 487.1M1699.1 509.7L1695.8 509.4M1697.4 509L1695.8 509.4L1697.3 510.2M1699.1 532.9L1695.2 532.7M1696.8 532.2L1695.2 532.7L1696.8 533.4M1699.1 556L1695.2 556.1M1696.7 555.5L1695.2 556.1L1696.8 556.6M1699.1 579.1L1695.6 579.4M1697.1 578.7L1695.6 579.4L1697.2 579.8M1699.1 602.2L1696.5 602.6M1698 601.8L1696.5 602.6L1698.2 603M1722.3 486.6L1720 486.3M1721.6 485.9L1720 486.3L1721.5 487.1M1722.3 509.7L1718.9 509.4M1720.6 509L1718.9 509.4L1720.5 510.2M1722.3 532.9L1718.4 532.7M1720 532.2L1718.4 532.7L1719.9 533.4M1722.3 556L1718.3 556.1M1719.9 555.5L1718.3 556.1L1719.9 556.6M1722.3 579.1L1718.7 579.4M1720.3 578.7L1718.7 579.4L1720.4 579.8M1722.3 602.2L1719.7 602.6M1721.2 601.8L1719.7 602.6L1721.3 603M1745.4 486.6L1743.1 486.3M1744.8 485.9L1743.1 486.3L1744.6 487.1M1745.4 509.7L1742 509.4M1743.7 509L1742 509.4L1743.6 510.2M1745.4 532.9L1741.5 532.7M1743.1 532.2L1741.5 532.7L1743.1 533.4M1745.4 556L1741.4 556.1M1743 555.5L1741.4 556.1L1743 556.6M1745.4 579.1L1741.9 579.4M1743.4 578.7L1741.9 579.4L1743.5 579.8M1745.4 602.2L1742.8 602.6M1744.3 601.8L1742.8 602.6L1744.5 603M1768.5 486.6L1766.2 486.3M1767.9 485.9L1766.2 486.3L1767.7 487.1M1768.5 509.7L1765.2 509.4M1766.8 509L1765.2 509.4L1766.7 510.2M1768.5 532.9L1764.6 532.7M1766.2 532.2L1764.6 532.7L1766.2 533.4M1768.5 556L1764.6 556.1M1766.1 555.5L1764.6 556.1L1766.2 556.6M1768.5 579.1L1765 579.4M1766.5 578.7L1765 579.4L1766.6 579.8M1768.5 602.2L1765.9 602.6M1767.4 601.8L1765.9 602.6L1767.6 603M1791.7 486.6L1789.4 486.3M1791 485.9L1789.4 486.3L1790.9 487.1M1791.7 509.7L1788.3 509.4M1790 509L1788.3 509.4L1789.8 510.2M1791.7 532.9L1787.7 532.7M1789.4 532.2L1787.7 532.7L1789.3 533.4M1791.7 556L1787.7 556.1M1789.3 555.5L1787.7 556.1L1789.3 556.6M1791.7 579.1L1788.1 579.4M1789.7 578.7L1788.1 579.4L1789.8 579.8M1791.7 602.2L1789.1 602.6M1790.6 601.8L1789.1 602.6L1790.7 603M1814.8 486.6L1812.5 486.3M1814.2 485.9L1812.5 486.3L1814 487.1M1814.8 509.7L1811.4 509.4M1813.1 509L1811.4 509.4L1813 510.2M1814.8 532.9L1810.9 532.7M1812.5 532.2L1810.9 532.7L1812.5 533.4M1814.8 556L1810.8 556.1M1812.4 555.5L1810.8 556.1L1812.4 556.6M1814.8 579.1L1811.2 579.4M1812.8 578.7L1811.2 579.4L1812.9 579.8M1814.8 602.2L1812.2 602.6M1813.7 601.8L1812.2 602.6L1813.8 603M1837.9 486.6L1835.6 486.3M1837.3 485.9L1835.6 486.3L1837.1 487.1M1837.9 509.7L1834.6 509.4M1836.2 509L1834.6 509.4L1836.1 510.2M1837.9 532.9L1834 532.7M1835.6 532.2L1834 532.7L1835.6 533.4M1837.9 556L1833.9 556.1M1835.5 555.5L1833.9 556.1L1835.6 556.6M1837.9 579.1L1834.4 579.4M1835.9 578.7L1834.4 579.4L1836 579.8M1837.9 602.2L1835.3 602.6M1836.8 601.8L1835.3 602.6L1837 603M1935 486L1901 492M1906.4 488.9L1901 492L1907.1 493.1M1888 503L1885 510M1885.1 508L1885 510L1886.4 508.6M1912 508L1910 520M1909.4 516.9L1910 520L1911.6 517.2M1935 508L1933 522M1932.2 518.4L1933 522L1934.7 518.8M1889 531L1891 537M1889.9 535.7L1891 537L1891 535.3M1911 532L1922 538M1918.8 537.5L1922 538L1919.8 535.6M1935 532L1953 536M1948.2 536.6L1953 536L1949 533.4M1958 531L1973 519M1970.4 523.3L1973 519L1968.3 520.6M1958 497L1973 490M1970 493L1973 490L1968.7 490.4M1893 555L1889 556M1890.4 555L1889 556L1890.7 556.2M1912 556L1923 553M1920.6 554.7L1923 553L1920 552.8M1935 555L1954 554M1949.4 555.9L1954 554L1949.3 552.6M1958 555L1972 561M1968 560.8L1972 561L1969.1 558.3M1890 571L1890 579M1889.3 577L1890 579L1890.7 577M1913 579L1915 567M1915.6 570.1L1915 567L1913.4 569.8M1935 579L1944 568M1942.8 571.5L1944 568L1940.8 569.9M1958 579L1978 599M1972.4 596.4L1978 599L1975.4 593.4M1865 594L1871 603M1868.7 601.3L1871 603L1870.3 600.3M1885 594L1892 602M1889.6 600.7L1892 602L1891 599.4M1935 601L1912 595M1918.2 594.4L1912 595L1917.1 598.5M1913 600L1902 591M1905.5 592.2L1902 591L1903.9 594.2M1865 509L1870 502M1869.4 504.2L1870 502L1868.2 503.3M1865 533L1860 536M1861.1 534.7L1860 536L1861.7 535.7M1865 578L1860 574M1861.6 574.5L1860 574L1860.9 575.5" fill="none" stroke="#000" stroke-width="1.2" stroke-linecap="round" stroke-linejoin="round"/><g fill="none" stroke="#000" stroke-width="1.3"><circle cx="1961" cy="502.4" r="2.8"/><circle cx="1963.6" cy="506.7" r="2.8"/><circle cx="1965.9" cy="511.2" r="2.8"/><circle cx="1968" cy="515.8" r="2.8"/><circle cx="1969.8" cy="520.6" r="2.8"/><circle cx="1971.3" cy="525.4" r="2.8"/><circle cx="1972.5" cy="530.3" r="2.8"/><circle cx="1973.4" cy="535.3" r="2.8"/><circle cx="1974" cy="540.3" r="2.8"/><circle cx="1974.3" cy="545.3" r="2.8"/><circle cx="1974.3" cy="550.4" r="2.8"/><circle cx="1974" cy="555.4" r="2.8"/><circle cx="1973.4" cy="560.4" r="2.8"/><circle cx="1972.5" cy="565.4" r="2.8"/><circle cx="1971.3" cy="570.3" r="2.8"/><circle cx="1969.8" cy="575.1" r="2.8"/><circle cx="1968" cy="579.9" r="2.8"/><circle cx="1965.9" cy="584.5" r="2.8"/><circle cx="1963.6" cy="589" r="2.8"/><circle cx="1961" cy="593.3" r="2.8"/></g><path d="M226.6 748.6 L402 748.6 A72.92 82.86 0 0 1 402 914.4 L226.6 914.4 A72.92 82.86 0 0 1 226.6 748.6 Z" fill="none" stroke="#000" stroke-width="3.5" stroke-linejoin="round"/><path d="M164.2 818L188 818.4M182.1 820.4L188 818.4L182.2 816.2M164.2 841.1L188.1 840.8M182.3 843L188.1 840.8L182.3 838.7M187.3 771.7L193.3 772.2M191.7 772.7L193.3 772.2L191.8 771.5M187.3 794.8L207.2 795.9M202.2 797.4L207.2 795.9L202.4 793.9M187.3 818L211.1 818.4M205.3 820.4L211.1 818.4L205.3 816.2M187.3 841.1L211.3 840.8M205.5 843L211.3 840.8L205.4 838.7M187.3 864.2L208.4 863.2M203.3 865.3L208.4 863.2L203.1 861.6M187.3 887.4L196.7 886.6M194.4 887.6L196.7 886.6L194.3 886M210.5 771.7L216.4 772.2M214.8 772.7L216.4 772.2L214.9 771.5M210.5 794.8L230.3 795.9M225.4 797.4L230.3 795.9L225.6 793.9M210.5 818L234.3 818.4M228.4 820.4L234.3 818.4L228.5 816.2M210.5 841.1L234.4 840.8M228.6 843L234.4 840.8L228.5 838.7M210.5 864.2L231.5 863.2M226.5 865.3L231.5 863.2L226.3 861.6M210.5 887.4L219.8 886.6M217.6 887.6L219.8 886.6L217.4 886M233.6 771.7L239.6 772.2M237.9 772.7L239.6 772.2L238 771.5M233.6 794.8L253.4 795.9M248.5 797.4L253.4 795.9L248.7 793.9M233.6 818L257.4 818.4M251.5 820.4L257.4 818.4L251.6 816.2M233.6 841.1L257.5 840.8M251.7 843L257.5 840.8L251.7 838.7M233.6 864.2L254.6 863.2M249.6 865.3L254.6 863.2L249.4 861.6M233.6 887.4L242.9 886.6M240.7 887.6L242.9 886.6L240.6 886M256.7 771.7L262.7 772.2M261.1 772.7L262.7 772.2L261.2 771.5M256.7 794.8L276.6 795.9M271.6 797.4L276.6 795.9L271.8 793.9M256.7 818L280.5 818.4M274.7 820.4L280.5 818.4L274.7 816.2M256.7 841.1L280.6 840.8M274.8 843L280.6 840.8L274.8 838.7M256.7 864.2L277.8 863.2M272.7 865.3L277.8 863.2L272.5 861.6M256.7 887.4L266 886.6M263.8 887.6L266 886.6L263.7 886M279.8 771.7L285.8 772.2M284.2 772.7L285.8 772.2L284.3 771.5M279.8 794.8L299.7 795.9M294.8 797.4L299.7 795.9L294.9 793.9M279.8 818L303.6 818.4M297.8 820.4L303.6 818.4L297.9 816.2M279.8 841.1L303.8 840.8M298 843L303.8 840.8L297.9 838.7M279.8 864.2L300.9 863.2M295.8 865.3L300.9 863.2L295.7 861.6M279.8 887.4L289.2 886.6M287 887.6L289.2 886.6L286.8 886M303 771.7L309 772.2M307.3 772.7L309 772.2L307.4 771.5M303 794.8L322.8 795.9M317.9 797.4L322.8 795.9L318.1 793.9M303 818L326.8 818.4M320.9 820.4L326.8 818.4L321 816.2M303 841.1L326.9 840.8M321.1 843L326.9 840.8L321.1 838.7M303 864.2L324 863.2M319 865.3L324 863.2L318.8 861.6M303 887.4L312.3 886.6M310.1 887.6L312.3 886.6L310 886M326.1 771.7L332.1 772.2M330.5 772.7L332.1 772.2L330.6 771.5M326.1 794.8L346 795.9M341 797.4L346 795.9L341.2 793.9M326.1 818L349.9 818.4M344 820.4L349.9 818.4L344.1 816.2M326.1 841.1L350 840.8M344.2 843L350 840.8L344.2 838.7M326.1 864.2L347.2 863.2M342.1 865.3L347.2 863.2L341.9 861.6M326.1 887.4L335.4 886.6M333.2 887.6L335.4 886.6L333.1 886M349.2 771.7L355.2 772.2M353.6 772.7L355.2 772.2L353.7 771.5M349.2 794.8L369.1 795.9M364.1 797.4L369.1 795.9L364.3 793.9M349.2 818L373 818.4M367.2 820.4L373 818.4L367.3 816.2M349.2 841.1L373.2 840.8M367.4 843L373.2 840.8L367.3 838.7M349.2 864.2L370.3 863.2M365.2 865.3L370.3 863.2L365.1 861.6M349.2 887.4L358.6 886.6M356.4 887.6L358.6 886.6L356.2 886M372.4 771.7L378.4 772.2M376.7 772.7L378.4 772.2L376.8 771.5M372.4 794.8L392.2 795.9M387.3 797.4L392.2 795.9L387.5 793.9M372.4 818L396.2 818.4M390.3 820.4L396.2 818.4L390.4 816.2M372.4 841.1L396.3 840.8M390.5 843L396.3 840.8L390.4 838.7M372.4 864.2L393.4 863.2M388.4 865.3L393.4 863.2L388.2 861.6M372.4 887.4L381.7 886.6M379.5 887.6L381.7 886.6L379.3 886M397 794L412 788M408.9 790.8L412 788L407.8 788.1M397 817L435 812M429.5 814.9L435 812L428.9 810.7M397 840L437 842M431.1 843.8L437 842L431.3 839.6M397 863L417 868M411.7 868.6L417 868L412.6 865M407 772L393 756M397.8 758.7L393 756L395 761.2M396 885L399 897M397.2 894.3L399 897L399.3 893.8M425 770L422 760M423.6 762.2L422 760L421.8 762.7M420 795L427 779M426.7 783.5L427 779L423.9 782.3M420 870L426 884M423.3 881.1L426 884L425.8 880M420 885L420 899M418.8 895.6L420 899L421.2 895.6M442 771L456 768M452.8 770L456 768L452.3 767.5M442 794L454 793M451.2 794.3L454 793L451 792.2M442 817L454 813M451.4 815L454 813L450.7 812.9M442 840L456 843M452.3 843.5L456 843L452.8 841M442 863L454 867M450.7 867.1L454 867L451.4 865M442 886L456 884M452.8 885.7L456 884L452.4 883.2M465 794L477 793M474.2 794.3L477 793L474 792.2M465 817L477 817M474.1 818.1L477 817L474.1 815.9M465 840L477 840M474.1 841.1L477 840L474.1 838.9M465 863L475 864M472.5 864.6L475 864L472.6 862.9" fill="none" stroke="#000" stroke-width="1.2" stroke-linecap="round" stroke-linejoin="round"/><g fill="none" stroke="#000" stroke-width="1.3"><circle cx="391.5" cy="756.8" r="2.8"/><circle cx="396.1" cy="759" r="2.8"/><circle cx="400.5" cy="761.4" r="2.8"/><circle cx="404.7" cy="764.1" r="2.8"/><circle cx="408.8" cy="767.1" r="2.8"/><circle cx="412.7" cy="770.3" r="2.8"/><circle cx="416.4" cy="773.8" r="2.8"/><circle cx="419.9" cy="777.4" r="2.8"/><circle cx="423.1" cy="781.3" r="2.8"/><circle cx="426.1" cy="785.4" r="2.8"/><circle cx="428.9" cy="789.6" r="2.8"/><circle cx="431.4" cy="794" r="2.8"/><circle cx="433.6" cy="798.5" r="2.8"/><circle cx="435.5" cy="803.2" r="2.8"/><circle cx="437.2" cy="807.9" r="2.8"/><circle cx="438.6" cy="812.8" r="2.8"/><circle cx="439.6" cy="817.7" r="2.8"/><circle cx="440.4" cy="822.7" r="2.8"/><circle cx="440.9" cy="827.8" r="2.8"/><circle cx="441" cy="832.8" r="2.8"/><circle cx="440.9" cy="837.8" r="2.8"/><circle cx="440.4" cy="842.9" r="2.8"/><circle cx="439.6" cy="847.9" r="2.8"/><circle cx="438.6" cy="852.8" r="2.8"/><circle cx="437.2" cy="857.7" r="2.8"/><circle cx="435.5" cy="862.4" r="2.8"/><circle cx="433.6" cy="867.1" r="2.8"/><circle cx="431.4" cy="871.6" r="2.8"/><circle cx="428.9" cy="876" r="2.8"/><circle cx="426.1" cy="880.2" r="2.8"/><circle cx="423.1" cy="884.3" r="2.8"/><circle cx="419.9" cy="888.2" r="2.8"/><circle cx="416.4" cy="891.8" r="2.8"/><circle cx="412.7" cy="895.3" r="2.8"/><circle cx="408.8" cy="898.5" r="2.8"/><circle cx="404.7" cy="901.5" r="2.8"/><circle cx="400.5" cy="904.2" r="2.8"/><circle cx="396.1" cy="906.6" r="2.8"/><circle cx="391.5" cy="908.8" r="2.8"/></g><path d="M747.3 748.6 L926.8 748.6 A72.92 82.86 0 0 1 926.8 914.4 L747.3 914.4 A72.92 82.86 0 0 1 747.3 748.6 Z" fill="none" stroke="#000" stroke-width="3.5" stroke-linejoin="round"/><path d="M689.9 793.8L713.1 794.9M707.3 796.7L713.1 794.9L707.5 792.6M689.9 817L716.7 817.4M710.8 819.4L716.7 817.4L710.9 815.2M689.9 840.1L716.9 839.8M711.1 842L716.9 839.8L711 837.8M689.9 863.2L714.6 862.3M708.9 864.6L714.6 862.3L708.7 860.4M713 770.7L724.1 771.5M721.3 772.3L724.1 771.5L721.4 770.3M713 793.8L736.2 794.9M730.5 796.7L736.2 794.9L730.7 792.6M713 817L739.8 817.4M733.9 819.4L739.8 817.4L734 815.2M713 840.1L740 839.8M734.2 842L740 839.8L734.1 837.8M713 863.2L737.8 862.3M732 864.6L737.8 862.3L731.9 860.4M713 886.4L728.3 885.3M724.7 886.9L728.3 885.3L724.5 884.2M736.2 770.7L747.2 771.5M744.4 772.3L747.2 771.5L744.6 770.3M736.2 793.8L759.4 794.9M753.6 796.7L759.4 794.9L753.8 792.6M736.2 817L762.9 817.4M757.1 819.4L762.9 817.4L757.2 815.2M736.2 840.1L763.1 839.8M757.3 842L763.1 839.8L757.3 837.8M736.2 863.2L760.9 862.3M755.2 864.6L760.9 862.3L755 860.4M736.2 886.4L751.4 885.3M747.8 886.9L751.4 885.3L747.6 884.2M759.3 770.7L770.3 771.5M767.5 772.3L770.3 771.5L767.7 770.3M759.3 793.8L782.5 794.9M776.7 796.7L782.5 794.9L776.9 792.6M759.3 817L786.1 817.4M780.2 819.4L786.1 817.4L780.3 815.2M759.3 840.1L786.2 839.8M780.4 842L786.2 839.8L780.4 837.8M759.3 863.2L784 862.3M778.3 864.6L784 862.3L778.1 860.4M759.3 886.4L774.6 885.3M770.9 886.9L774.6 885.3L770.7 884.2M782.4 770.7L793.4 771.5M790.7 772.3L793.4 771.5L790.8 770.3M782.4 793.8L805.6 794.9M799.9 796.7L805.6 794.9L800 792.6M782.4 817L809.2 817.4M803.3 819.4L809.2 817.4L803.4 815.2M782.4 840.1L809.4 839.8M803.6 842L809.4 839.8L803.5 837.8M782.4 863.2L807.2 862.3M801.4 864.6L807.2 862.3L801.2 860.4M782.4 886.4L797.7 885.3M794 886.9L797.7 885.3L793.9 884.2M805.5 770.7L816.6 771.5M813.8 772.3L816.6 771.5L814 770.3M805.5 793.8L828.8 794.9M823 796.7L828.8 794.9L823.2 792.6M805.5 817L832.3 817.4M826.5 819.4L832.3 817.4L826.5 815.2M805.5 840.1L832.5 839.8M826.7 842L832.5 839.8L826.7 837.8M805.5 863.2L830.3 862.3M824.5 864.6L830.3 862.3L824.4 860.4M805.5 886.4L820.8 885.3M817.2 886.9L820.8 885.3L817 884.2M828.7 770.7L839.7 771.5M836.9 772.3L839.7 771.5L837.1 770.3M828.7 793.8L851.9 794.9M846.1 796.7L851.9 794.9L846.3 792.6M828.7 817L855.5 817.4M849.6 819.4L855.5 817.4L849.7 815.2M828.7 840.1L855.6 839.8M849.8 842L855.6 839.8L849.8 837.8M828.7 863.2L853.4 862.3M847.7 864.6L853.4 862.3L847.5 860.4M828.7 886.4L843.9 885.3M840.3 886.9L843.9 885.3L840.1 884.2M851.8 770.7L862.8 771.5M860.1 772.3L862.8 771.5L860.2 770.3M851.8 793.8L875 794.9M869.2 796.7L875 794.9L869.4 792.6M851.8 817L878.6 817.4M872.7 819.4L878.6 817.4L872.8 815.2M851.8 840.1L878.8 839.8M873 842L878.8 839.8L872.9 837.8M851.8 863.2L876.5 862.3M870.8 864.6L876.5 862.3L870.6 860.4M851.8 886.4L867.1 885.3M863.4 886.9L867.1 885.3L863.3 884.2M875 793L893 779M889.8 784L893 779L887.4 780.8M875 770L881 752M881.1 756.9L881 752L877.9 755.9M898 770L914 760M911 763.9L914 760L909.2 761M898 885L910 903M905.5 899.7L910 903L908.7 897.5M875 885L887 901M882.6 898.2L887 901L885.5 896M875 840L897 844M891.3 845L897 844L892 841.1M875 863L897 873M890.8 872.5L897 873L892.6 868.7M875 817L897 811M892.2 814.4L897 811L891.1 810.5M921 771L937 773M932.9 773.9L937 773L933.3 771.1M921 794L935 798M931.2 798.3L935 798L931.9 795.8M921 817L927 818M925.3 818.3L927 818L925.5 817.2M921 840L925 840M923.4 840.6L925 840L923.4 839.4M921 863L931 860M928.8 861.6L931 860L928.3 859.8M921 886L937 882M933.4 884.4L937 882L932.7 881.6M944 771L947 764M946.9 766L947 764L945.6 765.4M944 794L956 797M952.8 797.3L956 797L953.3 795.2M944 817L954 820M951.3 820.2L954 820L951.8 818.4M944 840L952 838M950.2 839.2L952 838L949.9 837.8M944 863L955 860M952.6 861.7L955 860L952 859.8M944 886L952 888M949.9 888.2L952 888L950.2 886.8M967 794L973 789M972 790.8L973 789L971.1 789.7M967 817L977 816M974.6 817.1L977 816L974.5 815.4M967 840L977 840M974.6 840.9L977 840L974.6 839.1M967 863L976 866M973.5 866.1L976 866L974.1 864.5M967 886L964 898M963.7 894.8L964 898L965.8 895.3M990 817L996 814M994.8 815.3L996 814L994.3 814.2M990 840L996 841M994.3 841.3L996 841L994.5 840.2M962 757L966 761M964.5 760.3L966 761L965.3 759.5" fill="none" stroke="#000" stroke-width="1.2" stroke-linecap="round" stroke-linejoin="round"/><g fill="none" stroke="#000" stroke-width="1.3"><circle cx="880.2" cy="755.2" r="2.8"/><circle cx="883.5" cy="759.2" r="2.8"/><circle cx="886.5" cy="763.3" r="2.8"/><circle cx="889.5" cy="767.5" r="2.8"/><circle cx="892.2" cy="771.8" r="2.8"/><circle cx="894.7" cy="776.3" r="2.8"/><circle cx="897" cy="780.8" r="2.8"/><circle cx="899.2" cy="785.5" r="2.8"/><circle cx="901.1" cy="790.2" r="2.8"/><circle cx="902.9" cy="795.1" r="2.8"/><circle cx="904.4" cy="800" r="2.8"/><circle cx="905.7" cy="804.9" r="2.8"/><circle cx="906.8" cy="809.9" r="2.8"/><circle cx="907.7" cy="815" r="2.8"/><circle cx="908.3" cy="820.1" r="2.8"/><circle cx="908.8" cy="825.2" r="2.8"/><circle cx="909" cy="830.3" r="2.8"/><circle cx="909" cy="835.4" r="2.8"/><circle cx="908.8" cy="840.5" r="2.8"/><circle cx="908.3" cy="845.6" r="2.8"/><circle cx="907.7" cy="850.7" r="2.8"/><circle cx="906.8" cy="855.8" r="2.8"/><circle cx="905.7" cy="860.8" r="2.8"/><circle cx="904.4" cy="865.7" r="2.8"/><circle cx="902.9" cy="870.6" r="2.8"/><circle cx="901.1" cy="875.5" r="2.8"/><circle cx="899.2" cy="880.2" r="2.8"/><circle cx="897" cy="884.9" r="2.8"/><circle cx="894.7" cy="889.4" r="2.8"/><circle cx="892.2" cy="893.9" r="2.8"/><circle cx="889.5" cy="898.2" r="2.8"/><circle cx="886.5" cy="902.4" r="2.8"/><circle cx="883.5" cy="906.5" r="2.8"/><circle cx="880.2" cy="910.5" r="2.8"/></g><path d="M1229.2 748.6 L1407.6 748.6 A72.92 82.86 0 0 1 1407.6 914.4 L1229.2 914.4 A72.92 82.86 0 0 1 1229.2 748.6 Z" fill="none" stroke="#000" stroke-width="3.5" stroke-linejoin="round"/><path d="M1190.6 769.6L1173.8 771.6M1177.8 769.6L1173.8 771.6L1178.1 772.6M1213.8 769.6L1198.2 770.6M1201.9 769L1198.2 770.6L1202.1 771.7M1236.9 769.6L1222.5 770M1226 768.6L1222.5 770L1226 771.2M1260 769.6L1246.8 770.8M1249.9 769.3L1246.8 770.8L1250.2 771.7M1283.2 769.6L1271.2 771.6M1273.9 770L1271.2 771.6L1274.3 772.2M1306.3 769.6L1295.5 772.4M1297.9 770.8L1295.5 772.4L1298.4 772.7M1329.4 769.6L1319.8 773.2M1321.8 771.5L1319.8 773.2L1322.5 773.2M1352.5 769.6L1344.1 774M1345.8 772.2L1344.1 774L1346.6 773.7M1375.7 769.6L1368.5 774.8M1369.8 772.9L1368.5 774.8L1370.7 774.2M1167.5 792.7L1140.5 791.8M1146.4 789.9L1140.5 791.8L1146.3 794.1M1190.6 792.7L1163.6 791.8M1169.5 789.9L1163.6 791.8L1169.4 794.1M1213.8 792.7L1186.8 791.8M1192.7 789.9L1186.8 791.8L1192.5 794.1M1236.9 792.7L1209.9 791.8M1215.8 789.9L1209.9 791.8L1215.6 794.1M1260 792.7L1233 791.8M1238.9 789.9L1233 791.8L1238.8 794.1M1283.2 792.7L1256.2 791.8M1262 789.9L1256.2 791.8L1261.9 794.1M1306.3 792.7L1279.3 791.8M1285.2 789.9L1279.3 791.8L1285 794.1M1329.4 792.7L1302.4 791.8M1308.3 789.9L1302.4 791.8L1308.2 794.1M1352.5 792.7L1325.5 791.8M1331.4 789.9L1325.5 791.8L1331.3 794.1M1375.7 792.7L1348.7 791.8M1354.6 789.9L1348.7 791.8L1354.4 794.1M1167.5 815.9L1140.5 815.6M1146.3 813.5L1140.5 815.6L1146.3 817.7M1190.6 815.9L1163.6 815.6M1169.5 813.5L1163.6 815.6L1169.4 817.7M1213.8 815.9L1186.8 815.6M1192.6 813.5L1186.8 815.6L1192.6 817.7M1236.9 815.9L1209.9 815.6M1215.7 813.5L1209.9 815.6L1215.7 817.7M1260 815.9L1233 815.6M1238.9 813.5L1233 815.6L1238.8 817.7M1283.2 815.9L1256.2 815.6M1262 813.5L1256.2 815.6L1262 817.7M1306.3 815.9L1279.3 815.6M1285.1 813.5L1279.3 815.6L1285.1 817.7M1329.4 815.9L1302.4 815.6M1308.3 813.5L1302.4 815.6L1308.2 817.7M1352.5 815.9L1325.5 815.6M1331.4 813.5L1325.5 815.6L1331.3 817.7M1375.7 815.9L1348.7 815.6M1354.5 813.5L1348.7 815.6L1354.5 817.7M1167.5 839L1140.5 839.3M1146.3 837.1L1140.5 839.3L1146.3 841.3M1190.6 839L1163.6 839.3M1169.4 837.1L1163.6 839.3L1169.5 841.3M1213.8 839L1186.8 839.3M1192.6 837.1L1186.8 839.3L1192.6 841.3M1236.9 839L1209.9 839.3M1215.7 837.1L1209.9 839.3L1215.7 841.3M1260 839L1233 839.3M1238.8 837.1L1233 839.3L1238.9 841.3M1283.2 839L1256.2 839.3M1262 837.1L1256.2 839.3L1262 841.3M1306.3 839L1279.3 839.3M1285.1 837.1L1279.3 839.3L1285.1 841.3M1329.4 839L1302.4 839.3M1308.2 837.1L1302.4 839.3L1308.3 841.3M1352.5 839L1325.5 839.3M1331.3 837.1L1325.5 839.3L1331.4 841.3M1375.7 839L1348.7 839.3M1354.5 837.1L1348.7 839.3L1354.5 841.3M1167.5 862.1L1140.5 863M1146.3 860.7L1140.5 863L1146.4 864.9M1190.6 862.1L1163.6 863M1169.4 860.7L1163.6 863L1169.5 864.9M1213.8 862.1L1186.8 863M1192.5 860.7L1186.8 863L1192.7 864.9M1236.9 862.1L1209.9 863M1215.6 860.7L1209.9 863L1215.8 864.9M1260 862.1L1233 863M1238.8 860.7L1233 863L1238.9 864.9M1283.2 862.1L1256.2 863M1261.9 860.7L1256.2 863L1262 864.9M1306.3 862.1L1279.3 863M1285 860.7L1279.3 863L1285.2 864.9M1329.4 862.1L1302.4 863M1308.2 860.7L1302.4 863L1308.3 864.9M1352.5 862.1L1325.5 863M1331.3 860.7L1325.5 863L1331.4 864.9M1375.7 862.1L1348.7 863M1354.4 860.7L1348.7 863L1354.6 864.9M1167.5 885.2L1145.5 881.2M1151.2 880.3L1145.5 881.2L1150.5 884.2M1190.6 885.2L1169.9 882.1M1175.3 881.1L1169.9 882.1L1174.7 884.7M1213.8 885.2L1194.4 883M1199.3 881.9L1194.4 883L1198.9 885.3M1236.9 885.2L1218.8 884M1223.3 882.7L1218.8 884L1223.1 885.9M1260 885.2L1243.2 884.9M1247.4 883.5L1243.2 884.9L1247.3 886.4M1283.2 885.2L1267.7 885.8M1271.4 884.2L1267.7 885.8L1271.5 887M1306.3 885.2L1292.1 886.6M1295.4 885L1292.1 886.6L1295.7 887.6M1329.4 885.2L1316.5 887.5M1319.5 885.8L1316.5 887.5L1319.9 888.1M1352.5 885.2L1340.9 888.5M1343.5 886.6L1340.9 888.5L1344.1 888.7M1375.7 885.2L1365.4 889.4M1367.5 887.4L1365.4 889.4L1368.3 889.3M1240 912L1230 907M1232.9 907.3L1230 907L1232 909.1M1263 912L1257 906M1259 906.9L1257 906L1257.9 908M1286 912L1285 906M1285.8 907.5L1285 906L1284.7 907.7M1310 912L1314 906M1313.6 907.8L1314 906L1312.5 907.1M1333 912L1341 905M1339.7 907.4L1341 905L1338.4 906M1356 912L1368 905M1365.7 907.8L1368 905L1364.4 905.6M1380 912L1396 906M1392.6 908.9L1396 906L1391.6 906M1400 905L1422 896M1417.4 900.2L1422 896L1415.8 896.2M1425 905L1439 895M1436.5 898.7L1439 895L1434.7 896.2M1402 794L1382 799M1386.4 796L1382 799L1387.3 799.6M1402 817L1375 820M1380.6 817.2L1375 820L1381 821.5M1402 840L1375 838M1381 836.3L1375 838L1380.7 840.5M1402 863L1382 857M1387.4 856.7L1382 857L1386.4 860.2M1425 794L1413 804M1415 800.5L1413 804L1416.8 802.6M1425 817L1403 821M1408 818.1L1403 821L1408.7 822M1425 840L1402 837M1407.9 835.7L1402 837L1407.4 839.8M1425 863L1411 854M1415.2 855L1411 854L1413.6 857.4M1448 794L1443 806M1443.2 802.6L1443 806L1445.3 803.5M1448 817L1434 821M1437.1 818.8L1434 821L1437.8 821.3M1448 840L1433 837M1436.9 836.4L1433 837L1436.4 839.1M1448 863L1439 852M1442.2 853.9L1439 852L1440.2 855.5M1402 771L1406 778M1404.4 776.6L1406 778L1405.6 775.9M1425 771L1431 786M1428.2 782.9L1431 786L1430.9 781.8M1448 771L1454 783M1451.5 780.6L1454 783L1453.6 779.5M1402 880L1399 886M1399.2 884.3L1399 886L1400.3 884.8M1425 888L1424 874M1425.5 877.3L1424 874L1423 877.5M1448 888L1452 872M1452.4 876.3L1452 872L1449.6 875.6M1470 817L1466 820M1466.9 818.6L1466 820L1467.6 819.5M1470 840L1465 838M1466.7 838.1L1465 838L1466.3 839.1M1470 863L1468 854M1469.3 856L1468 854L1467.7 856.4" fill="none" stroke="#000" stroke-width="1.2" stroke-linecap="round" stroke-linejoin="round"/><g fill="none" stroke="#000" stroke-width="1.3"><circle cx="1400" cy="754.2" r="2.8"/><circle cx="1396.5" cy="757.9" r="2.8"/><circle cx="1393.1" cy="761.7" r="2.8"/><circle cx="1389.9" cy="765.7" r="2.8"/><circle cx="1387" cy="769.8" r="2.8"/><circle cx="1384.2" cy="774" r="2.8"/><circle cx="1381.6" cy="778.4" r="2.8"/><circle cx="1379.2" cy="782.9" r="2.8"/><circle cx="1377" cy="787.5" r="2.8"/><circle cx="1375.1" cy="792.2" r="2.8"/><circle cx="1373.3" cy="797" r="2.8"/><circle cx="1371.8" cy="801.9" r="2.8"/><circle cx="1370.5" cy="806.8" r="2.8"/><circle cx="1369.5" cy="811.8" r="2.8"/><circle cx="1368.7" cy="816.8" r="2.8"/><circle cx="1368.1" cy="821.8" r="2.8"/><circle cx="1367.7" cy="826.9" r="2.8"/><circle cx="1367.6" cy="832" r="2.8"/><circle cx="1367.7" cy="837.1" r="2.8"/><circle cx="1368.1" cy="842.2" r="2.8"/><circle cx="1368.7" cy="847.2" r="2.8"/><circle cx="1369.5" cy="852.2" r="2.8"/><circle cx="1370.5" cy="857.2" r="2.8"/><circle cx="1371.8" cy="862.1" r="2.8"/><circle cx="1373.3" cy="867" r="2.8"/><circle cx="1375.1" cy="871.8" r="2.8"/><circle cx="1377" cy="876.5" r="2.8"/><circle cx="1379.2" cy="881.1" r="2.8"/><circle cx="1381.6" cy="885.6" r="2.8"/><circle cx="1384.2" cy="890" r="2.8"/><circle cx="1387" cy="894.2" r="2.8"/><circle cx="1389.9" cy="898.3" r="2.8"/><circle cx="1393.1" cy="902.3" r="2.8"/><circle cx="1396.5" cy="906.1" r="2.8"/><circle cx="1400" cy="909.8" r="2.8"/></g><path d="M1737.4 748.6 L1912 748.6 A72.92 82.86 0 0 1 1912 914.4 L1737.4 914.4 A72.92 82.86 0 0 1 1737.4 748.6 Z" fill="none" stroke="#000" stroke-width="3.5" stroke-linejoin="round"/><path d="M1674.3 815.9L1670.1 814.3M1671.8 814.3L1670.1 814.3L1671.4 815.4M1674.3 839L1671.4 837.4M1673.1 837.6L1671.4 837.4L1672.5 838.7M1697.4 792.7L1694.2 791.7M1695.9 791.6L1694.2 791.7L1695.6 792.8M1697.4 815.9L1692.2 815.7M1693.8 815.2L1692.2 815.7L1693.8 816.3M1697.4 839L1692.1 838.8M1693.7 838.3L1692.1 838.8L1693.7 839.5M1697.4 862.1L1692.3 860.9M1694 860.7L1692.3 860.9L1693.7 861.8M1697.4 885.2L1693.9 887.2M1695 885.9L1693.9 887.2L1695.6 886.9M1720.6 769.6L1715.9 767.8M1717.6 767.8L1715.9 767.8L1717.2 768.9M1720.6 792.7L1717.7 794.1M1718.9 792.8L1717.7 794.1L1719.4 793.9M1720.6 815.9L1717.4 815.3M1719.1 815L1717.4 815.3L1718.9 816.1M1720.6 839L1719 837.3M1720.5 838L1719 837.3L1719.6 838.8M1720.6 862.1L1718.6 861.7M1720.3 861.5L1718.6 861.7L1720 862.6M1720.6 885.2L1715.9 884.3M1717.6 884.1L1715.9 884.3L1717.4 885.2M1743.7 769.6L1739.8 770.2M1741.3 769.4L1739.8 770.2L1741.5 770.5M1743.7 792.7L1739.1 792.6M1740.7 792.1L1739.1 792.6L1740.6 793.2M1743.7 815.9L1740.8 815.2M1742.5 815L1740.8 815.2L1742.2 816.1M1743.7 839L1740.4 837.3M1742.1 837.5L1740.4 837.3L1741.6 838.6M1743.7 862.1L1738.5 861.3M1740.2 861L1738.5 861.3L1740 862.1M1743.7 885.2L1741.2 885.6M1742.7 884.8L1741.2 885.6L1742.9 885.9M1766.8 769.6L1763 769.2M1764.6 768.8L1763 769.2L1764.5 770M1766.8 792.7L1763.3 791.5M1765 791.5L1763.3 791.5L1764.6 792.5M1766.8 815.9L1764.5 816.5M1765.9 815.5L1764.5 816.5L1766.2 816.6M1766.8 839L1762.3 839.4M1763.8 838.7L1762.3 839.4L1763.9 839.8M1766.8 862.1L1763.5 864M1764.6 862.7L1763.5 864L1765.2 863.7M1766.8 885.2L1764.5 885M1766.2 884.6L1764.5 885L1766.1 885.8M1790 769.6L1788.8 767.4M1790 768.5L1788.8 767.4L1789 769.1M1790 792.7L1786.3 793.3M1787.8 792.5L1786.3 793.3L1787.9 793.6M1790 815.9L1785.1 815.6M1786.7 815.1L1785.1 815.6L1786.6 816.3M1790 839L1784.6 839.8M1786.1 839L1784.6 839.8L1786.3 840.1M1790 862.1L1787.6 862.8M1789 861.8L1787.6 862.8L1789.3 862.9M1790 885.2L1788.2 885.1M1789.9 884.7L1788.2 885.1L1789.8 885.8M1813.1 769.6L1810.8 769.3M1812.4 768.9L1810.8 769.3L1812.3 770.1M1813.1 792.7L1810.1 792.1M1811.7 791.8L1810.1 792.1L1811.5 793M1813.1 815.9L1811 817.4M1811.9 816L1811 817.4L1812.6 817M1813.1 839L1809.5 839.7M1810.9 838.8L1809.5 839.7L1811.2 840M1813.1 862.1L1807.9 863.3M1809.3 862.4L1807.9 863.3L1809.6 863.5M1813.1 885.2L1810.5 887.8M1811.2 886.3L1810.5 887.8L1812 887.1M1836.2 769.6L1834.4 768M1836 768.6L1834.4 768L1835.2 769.5M1836.2 792.7L1832.4 792.9M1834 792.3L1832.4 792.9L1834 793.4M1836.2 815.9L1830.8 815.5M1832.5 815L1830.8 815.5L1832.4 816.2M1836.2 839L1831.4 837.6M1833.1 837.5L1831.4 837.6L1832.8 838.6M1836.2 862.1L1831 863.6M1832.4 862.6L1831 863.6L1832.7 863.7M1836.2 885.2L1831.5 884.9M1833.2 884.4L1831.5 884.9L1833.1 885.6M1859.3 769.6L1855.8 770.4M1857.2 769.5L1855.8 770.4L1857.5 770.6M1859.3 792.7L1854.3 792.1M1856 791.7L1854.3 792.1L1855.8 792.8M1859.3 815.9L1856.1 817.2M1857.3 816.1L1856.1 817.2L1857.8 817.1M1859.3 839L1857.1 840.5M1858.1 839.1L1857.1 840.5L1858.8 840.1M1859.3 862.1L1855 862.2M1856.6 861.6L1855 862.2L1856.7 862.7M1859.3 885.2L1855.6 887.4M1856.7 886.1L1855.6 887.4L1857.2 887.1M1882.5 769.6L1881.2 767.5M1882.5 768.6L1881.2 767.5L1881.5 769.2M1882.5 792.7L1877.8 791.2M1879.5 791.1L1877.8 791.2L1879.2 792.2M1882.5 815.9L1877.9 815.6M1879.6 815.1L1877.9 815.6L1879.5 816.3M1882.5 839L1879.3 838.1M1881 838L1879.3 838.1L1880.7 839.1M1882.5 862.1L1877.1 862.2M1878.7 861.6L1877.1 862.2L1878.7 862.7M1882.5 885.2L1878.7 886.1M1880.2 885.2L1878.7 886.1L1880.4 886.3M1905.6 769.6L1904.3 769.7M1905.9 769L1904.3 769.7L1905.9 770.2M1905.6 792.7L1902.3 792.7M1903.9 792.1L1902.3 792.7L1903.9 793.3M1905.6 815.9L1902.8 813.9M1904.5 814.3L1902.8 813.9L1903.8 815.3M1905.6 839L1903.7 840.2M1904.7 838.9L1903.7 840.2L1905.4 839.8M1905.6 862.1L1903.7 863.7M1904.6 862.2L1903.7 863.7L1905.3 863.1M1905.6 885.2L1902 885.5M1903.5 884.8L1902 885.5L1903.6 886M1931 759L1931 781M1929 775.6L1931 781L1933 775.6M1954 793L1937 773M1942.4 776.1L1937 773L1939.2 778.8M1930 796L1926 779M1928.5 782.8L1926 779L1925.5 783.5M1977 816L1935 810M1941.1 808.7L1935 810L1940.5 812.9M1977 840L1935 842M1940.7 839.6L1935 842L1940.9 843.8M1975 863L1953 869M1957.8 865.6L1953 869L1958.9 869.5M1952 863L1936 876M1938.8 871.4L1936 876L1941.1 874.2M1930 863L1924 872M1924.7 869.3L1924 872L1926.3 870.3M1931 885L1931 909M1928.9 903.2L1931 909L1933.1 903.2M1949 760L1943 743M1946 746.6L1943 743L1943 747.7M1927 915L1924 943M1922.5 937L1924 943L1926.7 937.4M1960 888L1940 906M1942.9 900.5L1940 906L1945.7 903.7M1905 908L1895 904M1897.8 904.1L1895 904L1897.1 905.9M1730 906L1744 905M1740.7 906.5L1744 905L1740.5 904M1755 907L1769 908M1765.5 909L1769 908L1765.7 906.5M1778 908L1792 910M1788.4 910.8L1792 910L1788.8 908.3M1801 909L1815 911M1811.4 911.8L1815 911L1811.8 909.3M1824 910L1836 912M1832.9 912.6L1836 912L1833.2 910.4M1847 910L1857 912M1854.4 912.4L1857 912L1854.7 910.6M1870 910L1878 912M1875.9 912.2L1878 912L1876.2 910.8" fill="none" stroke="#000" stroke-width="1.2" stroke-linecap="round" stroke-linejoin="round"/><g fill="none" stroke="#000" stroke-width="1.3"><circle cx="1922.5" cy="752.2" r="2.6"/><circle cx="1927.2" cy="753.2" r="2.6"/><circle cx="1931.8" cy="754.6" r="2.6"/><circle cx="1936.3" cy="756.3" r="2.6"/><circle cx="1940.6" cy="758.3" r="2.6"/><circle cx="1944.8" cy="760.6" r="2.6"/><circle cx="1948.8" cy="763.2" r="2.6"/><circle cx="1952.6" cy="766.1" r="2.6"/><circle cx="1956.2" cy="769.2" r="2.6"/><circle cx="1959.6" cy="772.6" r="2.6"/><circle cx="1962.8" cy="776.2" r="2.6"/><circle cx="1965.8" cy="779.9" r="2.6"/><circle cx="1968.5" cy="783.9" r="2.6"/><circle cx="1970.9" cy="788" r="2.6"/><circle cx="1973.2" cy="792.2" r="2.6"/><circle cx="1975.2" cy="796.6" r="2.6"/><circle cx="1976.9" cy="801" r="2.6"/><circle cx="1978.4" cy="805.6" r="2.6"/><circle cx="1979.7" cy="810.2" r="2.6"/><circle cx="1980.7" cy="814.8" r="2.6"/><circle cx="1981.4" cy="819.6" r="2.6"/><circle cx="1981.9" cy="824.3" r="2.6"/><circle cx="1982.2" cy="829.1" r="2.6"/><circle cx="1982.2" cy="833.9" r="2.6"/><circle cx="1981.9" cy="838.7" r="2.6"/><circle cx="1981.4" cy="843.4" r="2.6"/><circle cx="1980.7" cy="848.2" r="2.6"/><circle cx="1979.7" cy="852.8" r="2.6"/><circle cx="1978.4" cy="857.4" r="2.6"/><circle cx="1976.9" cy="862" r="2.6"/><circle cx="1975.2" cy="866.4" r="2.6"/><circle cx="1973.2" cy="870.8" r="2.6"/><circle cx="1970.9" cy="875" r="2.6"/><circle cx="1968.5" cy="879.1" r="2.6"/><circle cx="1965.8" cy="883.1" r="2.6"/><circle cx="1962.8" cy="886.8" r="2.6"/><circle cx="1959.6" cy="890.4" r="2.6"/><circle cx="1956.2" cy="893.8" r="2.6"/><circle cx="1952.6" cy="896.9" r="2.6"/><circle cx="1948.8" cy="899.8" r="2.6"/><circle cx="1944.8" cy="902.4" r="2.6"/><circle cx="1940.6" cy="904.7" r="2.6"/><circle cx="1936.3" cy="906.7" r="2.6"/><circle cx="1931.8" cy="908.4" r="2.6"/><circle cx="1927.2" cy="909.8" r="2.6"/><circle cx="1922.5" cy="910.8" r="2.6"/></g>
<path d="M408.1 1723.7 L453.8 1723.7 A108.8 108.5 0 0 1 453.8 1940.8 L408.1 1940.8 A108.8 108.5 0 0 1 408.1 1723.7 Z" fill="none" stroke="#f00" stroke-width="1.8"/><path d="M994.5 1749.2 L1169.8 1749.2 A72.65 82.26 0 0 1 1169.8 1913.8 L994.5 1913.8 A72.65 82.26 0 0 1 994.5 1749.2 Z" fill="none" stroke="#f00" stroke-width="1.8"/><path d="M1613.3 1784.7 L1952.2 1784.7 A41.82 47.23 0 0 1 1952.2 1879.2 L1613.3 1879.2 A41.82 47.23 0 0 1 1613.3 1784.7 Z" fill="none" stroke="#f00" stroke-width="1.8"/><path d="M111.5 1723.4H752C784 1723.4 784 1748.9 817 1748.9H1464C1494 1748.9 1494 1784.4 1525 1784.4H2127.5M111.5 1941.1H746C784 1941.1 784 1914.1 821 1914.1H1458C1494 1914.1 1494 1879.5 1530 1879.5H2129.5" stroke="#000" stroke-width="4.8" fill="none"/><path d="M139.6 1966H201.8" stroke="#000" stroke-width="6.4" fill="none"/><path d="M500.1 1915.3L509.1 1916.3L513.6 1916.4L518.1 1916.3L527.1 1915.3L531.6 1914.5L540.3 1912.2L548.7 1908.9L552.8 1907.0L560.7 1902.5L568.0 1897.1L571.4 1894.2L574.7 1891.1L580.7 1884.4L583.5 1880.8L588.4 1873.2L592.5 1865.1L594.3 1861.0L595.8 1856.7L598.1 1848.0L599.5 1839.0L599.9 1834.5L599.9 1825.5L599.5 1821.0L598.1 1812.0L597.1 1807.6L595.8 1803.3L592.5 1794.9L588.4 1786.8L586.1 1782.9L583.5 1779.2L577.8 1772.2L574.7 1768.9L568.0 1762.9L560.7 1757.5L552.8 1753.0L548.7 1751.1L540.3 1747.8L531.6 1745.5L527.1 1744.7L518.1 1743.7L513.6 1743.6L504.6 1744.1L500.1 1744.7L493.5 1746.0L488.0 1742.0L481.6 1738.0L474.9 1734.4L467.9 1731.3L460.8 1728.7L453.5 1726.6L446.1 1725.1L438.5 1724.0L434.7 1723.7L427.2 1723.4L421.6 1723.5L414.0 1724.0L410.2 1724.5L402.7 1725.8L399.0 1726.6L391.7 1728.7L388.1 1730.0L381.1 1732.8L377.6 1734.4L370.9 1738.0L367.7 1739.9L361.4 1744.2L358.3 1746.5L352.5 1751.4L349.7 1753.9L344.5 1759.4L339.6 1765.2L335.1 1771.4L333.0 1774.6L329.2 1781.1L327.5 1784.5L324.4 1791.5L321.8 1798.6L320.7 1802.2L319.7 1805.9L318.2 1813.3L317.1 1820.9L316.8 1824.7L316.5 1832.2L316.8 1839.8L317.1 1843.6L318.2 1851.2L318.9 1854.9L320.7 1862.3L321.8 1865.9L324.4 1873.0L325.9 1876.5L327.5 1880.0L331.1 1886.7L333.0 1889.9L337.3 1896.2L342.0 1902.2L344.5 1905.1L347.0 1907.9L352.5 1913.1L358.3 1918.0L361.4 1920.3L367.7 1924.6L370.9 1926.5L377.6 1930.1L381.1 1931.7L388.1 1934.5L391.7 1935.8L399.0 1937.9L402.7 1938.7L410.2 1940.0L417.8 1940.8L427.2 1941.1L434.7 1940.8L438.5 1940.5L442.3 1940.0L449.8 1938.7L453.5 1937.9L460.8 1935.8L467.9 1933.2L471.4 1931.7L478.3 1928.4L484.8 1924.6L488.0 1922.5L494.2 1918.0L497.9 1914.9Z" fill="none" stroke="#000" stroke-width="3.6" stroke-linejoin="round"/><path d="M384.5 1750.1L389.9 1760.6M387.7 1758.5L389.9 1760.6L389.5 1757.6M407.6 1750.1L414.5 1760.9M411.8 1758.9L414.5 1760.9L413.7 1757.6M430.7 1750.1L438.9 1761.1M435.9 1759.1L438.9 1761.1L437.9 1757.7M453.8 1750.1L463.3 1761.2M460 1759.3L463.3 1761.2L462 1757.6M476.9 1750.1L487.7 1761.3M484.1 1759.5L487.7 1761.3L486.1 1757.6M361.4 1772.1L375.8 1781.1M371.5 1780.2L375.8 1781.1L373.1 1777.6M384.5 1772.1L400.2 1780.7M395.6 1780L400.2 1780.7L397.1 1777.2M407.6 1772.1L424.5 1780.4M419.6 1779.9L424.5 1780.4L421.1 1776.9M430.7 1772.1L448.7 1780.1M443.6 1779.8L448.7 1780.1L445 1776.6M453.8 1772.1L472.9 1779.9M467.6 1779.7L472.9 1779.9L468.9 1776.3M476.9 1772.1L497.1 1779.7M491.5 1779.6L497.1 1779.7L492.8 1776M338.3 1794.2L352.9 1800.8M348.7 1800.5L352.9 1800.8L349.9 1797.9M361.4 1794.2L377.2 1800.4M372.8 1800.3L377.2 1800.4L373.9 1797.5M384.5 1794.2L401.4 1800M396.7 1800.1L401.4 1800L397.8 1797.1M407.6 1794.2L425.5 1799.8M420.7 1800L425.5 1799.8L421.7 1796.8M430.7 1794.2L449.7 1799.5M444.6 1799.9L449.7 1799.5L445.5 1796.5M453.8 1794.2L473.8 1799.3M468.4 1799.8L473.8 1799.3L469.4 1796.3M476.9 1794.2L497.9 1799.1M492.3 1799.8L497.9 1799.1L493.2 1796.1M338.3 1816.2L361.9 1820.7M355.8 1821.7L361.9 1820.7L356.6 1817.5M361.4 1816.2L386 1820.3M379.9 1821.4L386 1820.3L380.6 1817.2M384.5 1816.2L410.1 1819.9M404 1821.2L410.1 1819.9L404.6 1817M407.6 1816.2L434.2 1819.7M428.1 1821L434.2 1819.7L428.7 1816.8M430.7 1816.2L458.2 1819.5M452.2 1820.9L458.2 1819.5L452.7 1816.7M453.8 1816.2L482.3 1819.3M476.3 1820.8L482.3 1819.3L476.7 1816.6M476.9 1816.2L506.3 1819.1M500.3 1820.7L506.3 1819.1L500.7 1816.5M338.3 1838.3L362.2 1836.5M356.6 1839L362.2 1836.5L356.3 1834.8M361.4 1838.3L386.3 1836.7M380.6 1839.2L386.3 1836.7L380.3 1834.9M384.5 1838.3L410.3 1836.8M404.6 1839.3L410.3 1836.8L404.4 1835M407.6 1838.3L434.3 1836.9M428.6 1839.3L434.3 1836.9L428.4 1835.1M430.7 1838.3L458.4 1837M452.7 1839.4L458.4 1837L452.5 1835.2M453.8 1838.3L482.4 1837.1M476.7 1839.4L482.4 1837.1L476.5 1835.2M476.9 1838.3L506.4 1837.1M500.7 1839.5L506.4 1837.1L500.5 1835.3M338.3 1860.3L353.5 1855.2M350.2 1857.8L353.5 1855.2L349.3 1855.1M361.4 1860.3L377.6 1855.6M374.1 1858.2L377.6 1855.6L373.3 1855.3M384.5 1860.3L401.8 1855.9M398 1858.5L401.8 1855.9L397.2 1855.4M407.6 1860.3L425.9 1856.1M421.8 1858.8L425.9 1856.1L421 1855.5M430.7 1860.3L450 1856.3M445.6 1859L450 1856.3L444.9 1855.6M453.8 1860.3L474.1 1856.5M469.5 1859.2L474.1 1856.5L468.8 1855.6M476.9 1860.3L498.1 1856.6M493.3 1859.4L498.1 1856.6L492.6 1855.6M361.4 1882.4L376.4 1874.5M373.4 1877.8L376.4 1874.5L372 1875.1M384.5 1882.4L400.7 1874.9M397.4 1878.2L400.7 1874.9L396.1 1875.3M407.6 1882.4L425 1875.2M421.4 1878.5L425 1875.2L420.1 1875.4M430.7 1882.4L449.2 1875.5M445.3 1878.8L449.2 1875.5L444 1875.5M453.8 1882.4L473.3 1875.7M469.1 1879.1L473.3 1875.7L468 1875.6M476.9 1882.4L497.5 1875.9M493 1879.3L497.5 1875.9L491.9 1875.7M361.4 1904.4L366.4 1894.7M366 1897.5L366.4 1894.7L364.3 1896.7M384.5 1904.4L390.9 1894.5M390.3 1897.5L390.9 1894.5L388.5 1896.4M407.6 1904.4L415.4 1894.3M414.4 1897.5L415.4 1894.3L412.6 1896.1M430.7 1904.4L439.9 1894.3M438.5 1897.6L439.9 1894.3L436.7 1895.9M453.8 1904.4L464.2 1894.2M462.6 1897.6L464.2 1894.2L460.8 1895.8M476.9 1904.4L488.6 1894.2M486.6 1897.7L488.6 1894.2L484.8 1895.7M407.6 1926.5L413.2 1915M412.8 1918.3L413.2 1915L410.8 1917.3M430.7 1926.5L437.6 1914.7M437 1918.2L437.6 1914.7L434.9 1917M478 1772.1L507.7 1776.6M501.6 1777.8L507.7 1776.6L502.2 1773.6M522 1772.1L553 1764.4M547.9 1767.9L553 1764.4L546.9 1763.8M545 1772.1L570.2 1765.9M565.1 1769.3L570.2 1765.9L564.1 1765.2M478 1794.2L507.9 1797M501.9 1798.6L507.9 1797L502.3 1794.4M522 1794.2L553.6 1789.2M548.2 1792.2L553.6 1789.2L547.5 1788M545 1794.2L570.7 1790.2M565.3 1793.2L570.7 1790.2L564.6 1789M478 1816.2L508 1817.4M502.1 1819.3L508 1817.4L502.2 1815.1M522 1816.2L553.9 1814.2M548.3 1816.7L553.9 1814.2L548 1812.4M545 1816.2L570.9 1814.5M565.3 1817L570.9 1814.5L565 1812.8M478 1838.3L508 1837.8M502.2 1840L508 1837.8L502.1 1835.8M522 1838.3L554 1839.1M548.1 1841.1L554 1839.1L548.2 1836.9M545 1838.3L571 1839M565.1 1840.9L571 1839L565.2 1836.7M478 1860.3L507.9 1858.2M502.3 1860.8L507.9 1858.2L502 1856.5M522 1860.3L553.8 1864.1M547.7 1865.5L553.8 1864.1L548.2 1861.3M545 1860.3L570.8 1863.4M564.8 1864.8L570.8 1863.4L565.3 1860.6M478 1882.4L507.8 1878.6M502.2 1881.5L507.8 1878.6L501.7 1877.3M522 1882.4L553.3 1889M547.2 1889.9L553.3 1889L548.1 1885.7M545 1882.4L570.4 1887.7M564.3 1888.6L570.4 1887.7L565.2 1884.5M478 1904.4L507.5 1899.1M502.2 1902.2L507.5 1899.1L501.4 1898.1M522 1904.4L552.6 1913.7M546.4 1914L552.6 1913.7L547.7 1910M545 1904.4L569.9 1912M563.7 1912.3L569.9 1912L564.9 1908.3M568 1817L616 1812M610.4 1814.7L616 1812L610 1810.5M568 1840L616 1842M610.1 1843.9L616 1842L610.3 1839.6M570 1862L610 1879M603.8 1878.7L610 1879L605.5 1874.8M568 1795L592 1789M586.9 1792.5L592 1789L585.8 1788.4M570 1773L576 1755M576.1 1759.9L576 1755L572.9 1758.9M568 1884L584 1898M578.8 1896L584 1898L581.3 1893.2M540 1912L545 1922M542.9 1920L545 1922L544.7 1919.1M422 1728L430 1723M428.5 1724.9L430 1723L427.6 1723.5" fill="none" stroke="#000" stroke-width="1.2" stroke-linecap="round" stroke-linejoin="round"/><g fill="#fff" stroke="#000" stroke-width="1.3"><circle cx="497" cy="1750" r="2.3"/><circle cx="498.6" cy="1754" r="2.3"/><circle cx="500.1" cy="1757.9" r="2.3"/><circle cx="501.6" cy="1761.9" r="2.3"/><circle cx="502.9" cy="1766" r="2.3"/><circle cx="504.2" cy="1770.1" r="2.3"/><circle cx="505.4" cy="1774.2" r="2.3"/><circle cx="506.5" cy="1778.3" r="2.3"/><circle cx="507.5" cy="1782.4" r="2.3"/><circle cx="508.5" cy="1786.6" r="2.3"/><circle cx="509.3" cy="1790.7" r="2.3"/><circle cx="510.1" cy="1794.9" r="2.3"/><circle cx="510.8" cy="1799.1" r="2.3"/><circle cx="511.4" cy="1803.4" r="2.3"/><circle cx="511.9" cy="1807.6" r="2.3"/><circle cx="512.3" cy="1811.8" r="2.3"/><circle cx="512.7" cy="1816.1" r="2.3"/><circle cx="512.9" cy="1820.3" r="2.3"/><circle cx="513.1" cy="1824.6" r="2.3"/><circle cx="513.2" cy="1828.9" r="2.3"/><circle cx="513.2" cy="1833.1" r="2.3"/><circle cx="513.1" cy="1837.4" r="2.3"/><circle cx="512.9" cy="1841.7" r="2.3"/><circle cx="512.7" cy="1845.9" r="2.3"/><circle cx="512.3" cy="1850.2" r="2.3"/><circle cx="511.9" cy="1854.4" r="2.3"/><circle cx="511.4" cy="1858.6" r="2.3"/><circle cx="510.8" cy="1862.9" r="2.3"/><circle cx="510.1" cy="1867.1" r="2.3"/><circle cx="509.3" cy="1871.3" r="2.3"/><circle cx="508.5" cy="1875.4" r="2.3"/><circle cx="507.5" cy="1879.6" r="2.3"/><circle cx="506.5" cy="1883.7" r="2.3"/><circle cx="505.4" cy="1887.8" r="2.3"/><circle cx="504.2" cy="1891.9" r="2.3"/><circle cx="502.9" cy="1896" r="2.3"/><circle cx="501.6" cy="1900.1" r="2.3"/><circle cx="500.1" cy="1904.1" r="2.3"/><circle cx="498.6" cy="1908" r="2.3"/><circle cx="497" cy="1912" r="2.3"/></g><path d="M1023.1 1748.9 L1201.5 1748.9 A72.65 82.56 0 0 1 1201.5 1914.1 L1023.1 1914.1 A72.65 82.56 0 0 1 1023.1 1748.9 Z" fill="none" stroke="#000" stroke-width="3.6" stroke-linejoin="round"/><path d="M989 1770.8L1001.9 1772.4M998.6 1773.1L1001.9 1772.4L998.9 1770.8M1012.1 1770.8L1025 1772.4M1021.7 1773.1L1025 1772.4L1022 1770.8M1035.2 1770.8L1048.1 1772.4M1044.8 1773.1L1048.1 1772.4L1045.1 1770.8M1058.3 1770.8L1071.2 1772.4M1067.9 1773.1L1071.2 1772.4L1068.2 1770.8M1081.4 1770.8L1094.3 1772.4M1091 1773.1L1094.3 1772.4L1091.3 1770.8M1104.5 1770.8L1117.4 1772.4M1114.1 1773.1L1117.4 1772.4L1114.4 1770.8M1127.6 1770.8L1140.5 1772.4M1137.2 1773.1L1140.5 1772.4L1137.5 1770.8M965.9 1794.2L990.8 1796M984.9 1797.7L990.8 1796L985.2 1793.5M989 1794.2L1013.9 1796M1008 1797.7L1013.9 1796L1008.3 1793.5M1012.1 1794.2L1037 1796M1031.1 1797.7L1037 1796L1031.4 1793.5M1035.2 1794.2L1060.1 1796M1054.2 1797.7L1060.1 1796L1054.5 1793.5M1058.3 1794.2L1083.2 1796M1077.3 1797.7L1083.2 1796L1077.6 1793.5M1081.4 1794.2L1106.3 1796M1100.4 1797.7L1106.3 1796L1100.7 1793.5M1104.5 1794.2L1129.4 1796M1123.5 1797.7L1129.4 1796L1123.8 1793.5M1127.6 1794.2L1152.5 1796M1146.6 1797.7L1152.5 1796L1146.9 1793.5M1150.7 1794.2L1175.6 1796M1169.7 1797.7L1175.6 1796L1170 1793.5M965.9 1816.2L990.9 1816.9M985 1818.9L990.9 1816.9L985.1 1814.6M989 1816.2L1014 1816.9M1008.1 1818.9L1014 1816.9L1008.2 1814.6M1012.1 1816.2L1037.1 1816.9M1031.2 1818.9L1037.1 1816.9L1031.3 1814.6M1035.2 1816.2L1060.2 1816.9M1054.3 1818.9L1060.2 1816.9L1054.4 1814.6M1058.3 1816.2L1083.3 1816.9M1077.4 1818.9L1083.3 1816.9L1077.5 1814.6M1081.4 1816.2L1106.4 1816.9M1100.5 1818.9L1106.4 1816.9L1100.6 1814.6M1104.5 1816.2L1129.5 1816.9M1123.6 1818.9L1129.5 1816.9L1123.7 1814.6M1127.6 1816.2L1152.6 1816.9M1146.7 1818.9L1152.6 1816.9L1146.8 1814.6M1150.7 1816.2L1175.7 1816.9M1169.8 1818.9L1175.7 1816.9L1169.9 1814.6M965.9 1838.2L990.9 1837.8M985.1 1840L990.9 1837.8L985 1835.8M989 1838.2L1014 1837.8M1008.2 1840L1014 1837.8L1008.1 1835.8M1012.1 1838.2L1037.1 1837.8M1031.3 1840L1037.1 1837.8L1031.2 1835.8M1035.2 1838.2L1060.2 1837.8M1054.4 1840L1060.2 1837.8L1054.3 1835.8M1058.3 1838.2L1083.3 1837.8M1077.5 1840L1083.3 1837.8L1077.4 1835.8M1081.4 1838.2L1106.4 1837.8M1100.6 1840L1106.4 1837.8L1100.5 1835.8M1104.5 1838.2L1129.5 1837.8M1123.7 1840L1129.5 1837.8L1123.6 1835.8M1127.6 1838.2L1152.6 1837.8M1146.8 1840L1152.6 1837.8L1146.7 1835.8M1150.7 1838.2L1175.7 1837.8M1169.9 1840L1175.7 1837.8L1169.8 1835.8M965.9 1860.3L990.9 1858.8M985.2 1861.3L990.9 1858.8L984.9 1857.1M989 1860.3L1014 1858.8M1008.3 1861.3L1014 1858.8L1008 1857.1M1012.1 1860.3L1037.1 1858.8M1031.4 1861.3L1037.1 1858.8L1031.1 1857.1M1035.2 1860.3L1060.2 1858.8M1054.5 1861.3L1060.2 1858.8L1054.2 1857.1M1058.3 1860.3L1083.3 1858.8M1077.6 1861.3L1083.3 1858.8L1077.3 1857.1M1081.4 1860.3L1106.4 1858.8M1100.7 1861.3L1106.4 1858.8L1100.4 1857.1M1104.5 1860.3L1129.5 1858.8M1123.8 1861.3L1129.5 1858.8L1123.5 1857.1M1127.6 1860.3L1152.6 1858.8M1146.9 1861.3L1152.6 1858.8L1146.6 1857.1M1150.7 1860.3L1175.7 1858.8M1170 1861.3L1175.7 1858.8L1169.7 1857.1M989 1883.2L1001.9 1881.9M998.9 1883.3L1001.9 1881.9L998.7 1881M1012.1 1883.2L1025 1881.9M1022 1883.3L1025 1881.9L1021.8 1881M1035.2 1883.2L1048.1 1881.9M1045.1 1883.3L1048.1 1881.9L1044.9 1881M1058.3 1883.2L1071.2 1881.9M1068.2 1883.3L1071.2 1881.9L1068 1881M1081.4 1883.2L1094.3 1881.9M1091.3 1883.3L1094.3 1881.9L1091.1 1881M1104.5 1883.2L1117.4 1881.9M1114.4 1883.3L1117.4 1881.9L1114.2 1881M1127.6 1883.2L1140.5 1881.9M1137.5 1883.3L1140.5 1881.9L1137.3 1881M1012.1 1906.5L1018.1 1903.5M1016.9 1904.8L1018.1 1903.5L1016.4 1903.7M1035.2 1906.5L1041.2 1906.5M1039.6 1907.1L1041.2 1906.5L1039.6 1905.9M1058.3 1906.5L1060.3 1906.5M1058.7 1907.1L1060.3 1906.5L1058.7 1905.9M1081.4 1906.5L1083.4 1906.5M1081.8 1907.1L1083.4 1906.5L1081.8 1905.9M1104.5 1906.5L1106.5 1906.5M1104.9 1907.1L1106.5 1906.5L1104.9 1905.9M1127.6 1906.5L1129.6 1906.5M1128 1907.1L1129.6 1906.5L1128 1905.9M1150 1770L1180 1760M1175.1 1763.9L1180 1760L1173.8 1759.8M1174 1790L1196 1778M1191.9 1782.7L1196 1778L1189.9 1778.9M1150 1795L1188 1786M1182.8 1789.4L1188 1786L1181.8 1785.3M1150 1816L1195 1811M1189.4 1813.8L1195 1811L1189 1809.5M1150 1838L1195 1840M1189.1 1841.9L1195 1840L1189.3 1837.6M1150 1862L1190 1872M1183.8 1872.6L1190 1872L1184.9 1868.5M1150 1885L1176 1891M1169.8 1891.8L1176 1891L1170.8 1887.6M1174 1885L1194 1897M1188 1895.8L1194 1897L1190.2 1892.3M1197 1770.8L1214.6 1767.3M1210.7 1769.7L1214.6 1767.3L1210 1766.6M1220 1770.8L1237.6 1767.3M1233.7 1769.7L1237.6 1767.3L1233 1766.6M1197 1794.2L1214.9 1792M1210.7 1794.1L1214.9 1792L1210.3 1791M1220 1794.2L1237.9 1792M1233.7 1794.1L1237.9 1792L1233.3 1791M1243 1794.2L1260.9 1792M1256.7 1794.1L1260.9 1792L1256.3 1791M1197 1816.2L1219 1815.1M1213.7 1817.3L1219 1815.1L1213.5 1813.4M1220 1816.2L1242 1815.1M1236.7 1817.3L1242 1815.1L1236.5 1813.4M1243 1816.2L1265 1815.1M1259.7 1817.3L1265 1815.1L1259.5 1813.4M1197 1838.2L1219 1838.7M1213.6 1840.6L1219 1838.7L1213.7 1836.6M1220 1838.2L1242 1838.7M1236.6 1840.6L1242 1838.7L1236.7 1836.6M1243 1838.2L1265 1838.7M1259.6 1840.6L1265 1838.7L1259.7 1836.6M1197 1860.3L1214.9 1862M1210.4 1863.2L1214.9 1862L1210.7 1860M1220 1860.3L1237.9 1862M1233.4 1863.2L1237.9 1862L1233.7 1860M1243 1860.3L1260.9 1862M1256.4 1863.2L1260.9 1862L1256.7 1860M1197 1883.2L1214.7 1886.3M1210.1 1887.1L1214.7 1886.3L1210.7 1884M1220 1883.2L1237.7 1886.3M1233.1 1887.1L1237.7 1886.3L1233.7 1884M1243 1883.2L1260.7 1886.3M1256.1 1887.1L1260.7 1886.3L1256.7 1884M1264 1816L1286 1813M1280.9 1815.7L1286 1813L1280.4 1811.8M1264 1839L1286 1840M1280.5 1841.7L1286 1840L1280.7 1837.8M1264 1862L1282 1868M1277.1 1868.1L1282 1868L1278.1 1864.9M1245 1775L1250 1766M1249.6 1768.6L1250 1766L1248 1767.8" fill="none" stroke="#000" stroke-width="1.2" stroke-linecap="round" stroke-linejoin="round"/><g fill="#fff" stroke="#000" stroke-width="1.3"><circle cx="1161.9" cy="1755.4" r="2.3"/><circle cx="1164.4" cy="1758.8" r="2.3"/><circle cx="1166.8" cy="1762.4" r="2.3"/><circle cx="1169.1" cy="1766" r="2.3"/><circle cx="1171.3" cy="1769.7" r="2.3"/><circle cx="1173.3" cy="1773.4" r="2.3"/><circle cx="1175.2" cy="1777.2" r="2.3"/><circle cx="1177" cy="1781.1" r="2.3"/><circle cx="1178.6" cy="1785.1" r="2.3"/><circle cx="1180.2" cy="1789.1" r="2.3"/><circle cx="1181.5" cy="1793.1" r="2.3"/><circle cx="1182.7" cy="1797.2" r="2.3"/><circle cx="1183.8" cy="1801.3" r="2.3"/><circle cx="1184.8" cy="1805.5" r="2.3"/><circle cx="1185.6" cy="1809.7" r="2.3"/><circle cx="1186.2" cy="1813.9" r="2.3"/><circle cx="1186.7" cy="1818.2" r="2.3"/><circle cx="1187.1" cy="1822.4" r="2.3"/><circle cx="1187.3" cy="1826.7" r="2.3"/><circle cx="1187.4" cy="1831" r="2.3"/><circle cx="1187.3" cy="1835.2" r="2.3"/><circle cx="1187.1" cy="1839.5" r="2.3"/><circle cx="1186.7" cy="1843.7" r="2.3"/><circle cx="1186.2" cy="1848" r="2.3"/><circle cx="1185.6" cy="1852.2" r="2.3"/><circle cx="1184.8" cy="1856.4" r="2.3"/><circle cx="1183.8" cy="1860.6" r="2.3"/><circle cx="1182.7" cy="1864.7" r="2.3"/><circle cx="1181.5" cy="1868.8" r="2.3"/><circle cx="1180.2" cy="1872.8" r="2.3"/><circle cx="1178.6" cy="1876.8" r="2.3"/><circle cx="1177" cy="1880.8" r="2.3"/><circle cx="1175.2" cy="1884.7" r="2.3"/><circle cx="1173.3" cy="1888.5" r="2.3"/><circle cx="1171.3" cy="1892.2" r="2.3"/><circle cx="1169.1" cy="1895.9" r="2.3"/><circle cx="1166.8" cy="1899.5" r="2.3"/><circle cx="1164.4" cy="1903.1" r="2.3"/><circle cx="1161.9" cy="1906.5" r="2.3"/></g><path d="M1648.3 1784.4 L1977.7 1784.4 A41.82 47.53 0 0 1 1977.7 1879.5 L1648.3 1879.5 A41.82 47.53 0 0 1 1648.3 1784.4 Z" fill="none" stroke="#000" stroke-width="3.6" stroke-linejoin="round"/><path d="M1641.9 1798.4L1652.9 1798.9M1650.2 1799.7L1652.9 1798.9L1650.3 1797.8M1662.5 1798.4L1673.5 1798.9M1670.8 1799.7L1673.5 1798.9L1670.9 1797.8M1683.1 1798.4L1694.1 1798.9M1691.4 1799.7L1694.1 1798.9L1691.5 1797.8M1703.7 1798.4L1714.7 1798.9M1712 1799.7L1714.7 1798.9L1712.1 1797.8M1724.3 1798.4L1735.3 1798.9M1732.6 1799.7L1735.3 1798.9L1732.7 1797.8M1744.9 1798.4L1755.9 1798.9M1753.2 1799.7L1755.9 1798.9L1753.3 1797.8M1765.5 1798.4L1776.5 1798.9M1773.8 1799.7L1776.5 1798.9L1773.9 1797.8M1786.1 1798.4L1797.1 1798.9M1794.4 1799.7L1797.1 1798.9L1794.5 1797.8M1806.7 1798.4L1817.7 1798.9M1815 1799.7L1817.7 1798.9L1815.1 1797.8M1827.3 1798.4L1833.3 1798.9M1831.7 1799.3L1833.3 1798.9L1831.8 1798.2M1847.9 1798.4L1853.9 1798.9M1852.3 1799.3L1853.9 1798.9L1852.4 1798.2M1868.5 1798.4L1874.5 1798.9M1872.9 1799.3L1874.5 1798.9L1873 1798.2M1621.3 1818.3L1642.3 1818.5M1637.2 1820.3L1642.3 1818.5L1637.2 1816.5M1641.9 1818.3L1662.9 1818.5M1657.8 1820.3L1662.9 1818.5L1657.8 1816.5M1662.5 1818.3L1683.5 1818.5M1678.4 1820.3L1683.5 1818.5L1678.4 1816.5M1683.1 1818.3L1704.1 1818.5M1699 1820.3L1704.1 1818.5L1699 1816.5M1703.7 1818.3L1724.7 1818.5M1719.6 1820.3L1724.7 1818.5L1719.6 1816.5M1724.3 1818.3L1745.3 1818.5M1740.2 1820.3L1745.3 1818.5L1740.2 1816.5M1744.9 1818.3L1765.9 1818.5M1760.8 1820.3L1765.9 1818.5L1760.8 1816.5M1765.5 1818.3L1786.5 1818.5M1781.4 1820.3L1786.5 1818.5L1781.4 1816.5M1786.1 1818.3L1807.1 1818.5M1802 1820.3L1807.1 1818.5L1802 1816.5M1806.7 1818.3L1827.7 1818.5M1822.6 1820.3L1827.7 1818.5L1822.6 1816.5M1827.3 1818.3L1848.3 1818.5M1843.2 1820.3L1848.3 1818.5L1843.2 1816.5M1847.9 1818.3L1868.9 1818.5M1863.8 1820.3L1868.9 1818.5L1863.8 1816.5M1868.5 1818.3L1889.5 1818.5M1884.4 1820.3L1889.5 1818.5L1884.4 1816.5M1621.3 1839.1L1642.3 1838.9M1637.2 1840.9L1642.3 1838.9L1637.2 1837.1M1641.9 1839.1L1662.9 1838.9M1657.8 1840.9L1662.9 1838.9L1657.8 1837.1M1662.5 1839.1L1683.5 1838.9M1678.4 1840.9L1683.5 1838.9L1678.4 1837.1M1683.1 1839.1L1704.1 1838.9M1699 1840.9L1704.1 1838.9L1699 1837.1M1703.7 1839.1L1724.7 1838.9M1719.6 1840.9L1724.7 1838.9L1719.6 1837.1M1724.3 1839.1L1745.3 1838.9M1740.2 1840.9L1745.3 1838.9L1740.2 1837.1M1744.9 1839.1L1765.9 1838.9M1760.8 1840.9L1765.9 1838.9L1760.8 1837.1M1765.5 1839.1L1786.5 1838.9M1781.4 1840.9L1786.5 1838.9L1781.4 1837.1M1786.1 1839.1L1807.1 1838.9M1802 1840.9L1807.1 1838.9L1802 1837.1M1806.7 1839.1L1827.7 1838.9M1822.6 1840.9L1827.7 1838.9L1822.6 1837.1M1827.3 1839.1L1848.3 1838.9M1843.2 1840.9L1848.3 1838.9L1843.2 1837.1M1847.9 1839.1L1868.9 1838.9M1863.8 1840.9L1868.9 1838.9L1863.8 1837.1M1868.5 1839.1L1889.5 1838.9M1884.4 1840.9L1889.5 1838.9L1884.4 1837.1M1641.9 1859L1652.9 1858.5M1650.3 1859.6L1652.9 1858.5L1650.2 1857.7M1662.5 1859L1673.5 1858.5M1670.9 1859.6L1673.5 1858.5L1670.8 1857.7M1683.1 1859L1694.1 1858.5M1691.5 1859.6L1694.1 1858.5L1691.4 1857.7M1703.7 1859L1714.7 1858.5M1712.1 1859.6L1714.7 1858.5L1712 1857.7M1724.3 1859L1735.3 1858.5M1732.7 1859.6L1735.3 1858.5L1732.6 1857.7M1744.9 1859L1755.9 1858.5M1753.3 1859.6L1755.9 1858.5L1753.2 1857.7M1765.5 1859L1776.5 1858.5M1773.9 1859.6L1776.5 1858.5L1773.8 1857.7M1786.1 1859L1797.1 1858.5M1794.5 1859.6L1797.1 1858.5L1794.4 1857.7M1806.7 1859L1817.7 1858.5M1815.1 1859.6L1817.7 1858.5L1815 1857.7M1827.3 1859L1838.3 1858.5M1835.7 1859.6L1838.3 1858.5L1835.6 1857.7M1847.9 1859L1858.9 1858.5M1856.3 1859.6L1858.9 1858.5L1856.2 1857.7M1868.5 1859L1879.5 1858.5M1876.9 1859.6L1879.5 1858.5L1876.8 1857.7M1890 1799L1896 1801M1894.3 1801L1896 1801L1894.7 1799.9M1905 1820L1927 1818M1921.8 1820.4L1927 1818L1921.4 1816.5M1905 1838L1931 1842M1924.9 1843.2L1931 1842L1925.6 1839M1928 1822L1946 1808M1942.8 1813L1946 1808L1940.4 1809.8M1927 1855L1947 1867M1941 1865.8L1947 1867L1943.2 1862.3M1900 1860L1914 1856M1910.9 1858.2L1914 1856L1910.2 1855.7M1930 1799L1950 1797M1945.3 1799.3L1950 1797L1944.9 1795.7M1952 1799L1968 1798M1964.2 1799.7L1968 1798L1964 1796.8M1975 1799L1985 1796M1982.8 1797.6L1985 1796L1982.3 1795.8M1950 1820L1964 1819M1960.7 1820.5L1964 1819L1960.5 1818M1973 1820L1993 1818M1988.3 1820.3L1993 1818L1987.9 1816.7M1996 1818L2026 1814M2020.5 1816.9L2026 1814L2019.9 1812.7M1950 1840L1964 1839M1960.7 1840.5L1964 1839L1960.5 1838M1973 1840L1993 1840M1988.1 1841.8L1993 1840L1988.1 1838.2M1996 1840L2026 1841M2020.1 1842.9L2026 1841L2020.2 1838.7M1950 1860L1968 1857M1963.9 1859.3L1968 1857L1963.3 1856.1M1973 1860L1987 1863M1983.3 1863.5L1987 1863L1983.8 1861M1992 1862L2006 1868M2002 1867.8L2006 1868L2003.1 1865.3" fill="none" stroke="#000" stroke-width="1.2" stroke-linecap="round" stroke-linejoin="round"/><g fill="#fff" stroke="#000" stroke-width="1.3"><circle cx="1869" cy="1786.5" r="2.5"/><circle cx="1873.6" cy="1786.7" r="2.5"/><circle cx="1878.1" cy="1787.4" r="2.5"/><circle cx="1882.6" cy="1788.3" r="2.5"/><circle cx="1887" cy="1789.4" r="2.5"/><circle cx="1891.4" cy="1790.7" r="2.5"/><circle cx="1895.7" cy="1792.2" r="2.5"/><circle cx="1900" cy="1793.8" r="2.5"/><circle cx="1904.2" cy="1795.7" r="2.5"/><circle cx="1908.3" cy="1797.6" r="2.5"/><circle cx="1912.3" cy="1799.8" r="2.5"/><circle cx="1916.2" cy="1802.1" r="2.5"/><circle cx="1920.1" cy="1804.6" r="2.5"/><circle cx="1923.7" cy="1807.4" r="2.5"/><circle cx="1927.2" cy="1810.3" r="2.5"/><circle cx="1930.4" cy="1813.6" r="2.5"/><circle cx="1933.3" cy="1817.2" r="2.5"/><circle cx="1935.6" cy="1821.1" r="2.5"/><circle cx="1937.4" cy="1825.3" r="2.5"/><circle cx="1938.4" cy="1829.7" r="2.5"/><circle cx="1938.4" cy="1834.3" r="2.5"/><circle cx="1937.4" cy="1838.7" r="2.5"/><circle cx="1935.6" cy="1842.9" r="2.5"/><circle cx="1933.3" cy="1846.8" r="2.5"/><circle cx="1930.4" cy="1850.4" r="2.5"/><circle cx="1927.2" cy="1853.7" r="2.5"/><circle cx="1923.7" cy="1856.6" r="2.5"/><circle cx="1920.1" cy="1859.4" r="2.5"/><circle cx="1916.2" cy="1861.9" r="2.5"/><circle cx="1912.3" cy="1864.2" r="2.5"/><circle cx="1908.3" cy="1866.4" r="2.5"/><circle cx="1904.2" cy="1868.3" r="2.5"/><circle cx="1900" cy="1870.2" r="2.5"/><circle cx="1895.7" cy="1871.8" r="2.5"/><circle cx="1891.4" cy="1873.3" r="2.5"/><circle cx="1887" cy="1874.6" r="2.5"/><circle cx="1882.6" cy="1875.7" r="2.5"/><circle cx="1878.1" cy="1876.6" r="2.5"/><circle cx="1873.6" cy="1877.3" r="2.5"/><circle cx="1869" cy="1877.5" r="2.5"/></g>
<text x="43.8" y="59.7" font-family="&quot;Liberation Serif&quot;, serif" font-size="62" font-weight="bold" textLength="52.3" lengthAdjust="spacingAndGlyphs">a.</text>
<text x="1058" y="84.6" font-family="&quot;Liberation Sans&quot;, sans-serif" font-size="72.6" textLength="127" lengthAdjust="spacingAndGlyphs" stroke="#fff" stroke-width="0.45">Time</text>
<path d="M1215.2 64.4H1304.2" stroke="#000" stroke-width="4.4" fill="none"/><path d="M1348 64.4L1295.2 44.9Q1299.2 55.6 1302.2 64.4Q1299.2 73.2 1295.2 83.9Z" fill="#808080" stroke="#000" stroke-width="2.6" stroke-linejoin="miter"/>
<text x="214" y="155.3" font-family="&quot;Liberation Serif&quot;, serif" font-size="50" textLength="247" lengthAdjust="spacingAndGlyphs">Time = 1 s</text>
<text x="721.2" y="152.8" font-family="&quot;Liberation Serif&quot;, serif" font-size="50" textLength="245.2" lengthAdjust="spacingAndGlyphs">Time = 5 s</text>
<text x="1227.2" y="153.6" font-family="&quot;Liberation Serif&quot;, serif" font-size="50" textLength="244.8" lengthAdjust="spacingAndGlyphs">Time = 6 s</text>
<text x="1720.6" y="153.6" font-family="&quot;Liberation Serif&quot;, serif" font-size="50" textLength="270.5" lengthAdjust="spacingAndGlyphs">Time = 27 s</text>
<text x="83.4" y="646" font-family="&quot;Liberation Sans&quot;, sans-serif" font-size="73.5" textLength="513" lengthAdjust="spacingAndGlyphs" transform="rotate(-90 83.4 646)" stroke="#fff" stroke-width="0.45">Increasing bleb size</text>
<path d="M69.4 686V815" stroke="#000" stroke-width="4.4" fill="none"/><path d="M69.4 859L89.9 805.7Q78.6 809.7 69.4 813Q60.2 809.7 48.9 805.7Z" fill="#808080" stroke="#000" stroke-width="2.6" stroke-linejoin="miter"/>
<linearGradient id="cb1" x1="0" y1="0" x2="0" y2="1"><stop offset="0" stop-color="#a183ff"/><stop offset="1" stop-color="#fdfcff"/></linearGradient><rect x="2135.2" y="135.9" width="44.4" height="248.1" fill="url(#cb1)"/><path d="M2135.2 384V135.9H2179.6V384" fill="none" stroke="#333" stroke-width="1"/><path d="M2179.6 334.4h-4M2179.6 284.8h-4M2179.6 235.1h-4M2179.6 185.5h-4" stroke="#222" stroke-width="1" fill="none"/><text x="2188" y="141.2" font-family="&quot;Liberation Serif&quot;, serif" font-size="47.5" textLength="123" lengthAdjust="spacingAndGlyphs">25 Pa</text><text x="2188" y="194" font-family="&quot;Liberation Serif&quot;, serif" font-size="47.5" textLength="46" lengthAdjust="spacingAndGlyphs">20</text><text x="2188" y="246.5" font-family="&quot;Liberation Serif&quot;, serif" font-size="47.5" textLength="46" lengthAdjust="spacingAndGlyphs">15</text><text x="2188" y="299.4" font-family="&quot;Liberation Serif&quot;, serif" font-size="47.5" textLength="46" lengthAdjust="spacingAndGlyphs">10</text><text x="2188" y="350.7" font-family="&quot;Liberation Serif&quot;, serif" font-size="47.5" textLength="22" lengthAdjust="spacingAndGlyphs">5</text><text x="2188" y="401.7" font-family="&quot;Liberation Serif&quot;, serif" font-size="47.5" textLength="22" lengthAdjust="spacingAndGlyphs">0</text>
<clipPath id="clip963"><rect x="514.6" y="963.8" width="1168.1" height="542.6"/></clipPath><path d="M879.6 967.8V1506.4M1244.7 967.8V1506.4M1609.7 967.8V1506.4M519.6 1425H1682.7M519.6 1289.4H1682.7M519.6 1153.7H1682.7M519.6 1018.1H1682.7" stroke="#000" stroke-width="1.2" stroke-dasharray="1.2 7.4" fill="none" opacity="0.6"/><g clip-path="url(#clip963)"><path d="M514.6 1425L519.2 1413.2L523.7 1401.9L528.3 1391L532.9 1380.6L537.4 1370.6L542 1361L546.5 1351.7L551.1 1342.9L555.7 1334.4L560.2 1326.3L564.8 1318.5L569.4 1311L573.9 1303.8L578.5 1296.9L583 1290.2L587.6 1283.9L592.2 1277.8L596.7 1271.9L601.3 1266.3L605.9 1260.9L610.4 1255.7L615 1250.8L619.5 1246L624.1 1241.4L628.7 1237L633.2 1232.8L637.8 1228.8L642.4 1224.9L646.9 1221.2L651.5 1217.6L656 1214.2L660.6 1210.9L665.2 1207.8L669.7 1204.7L674.3 1201.8L678.9 1199L683.4 1196.4L688 1193.8L692.6 1191.3L697.1 1189L698.7 1207.6L700.2 1224.7L701.8 1240.6L703.3 1255.2L704.9 1268.7L706.4 1281.2L708 1292.7L709.5 1303.3L711.1 1313.1L712.6 1322.1L714.2 1330.5L715.7 1338.2L717.3 1345.3L718.8 1351.9L720.4 1358L721.9 1363.6L723.5 1368.7L725 1373.5L726.6 1377.9L728.1 1382L729.7 1385.7L731.2 1389.2L732.8 1392.4L734.3 1395.3L735.9 1398.1L737.5 1400.6L739 1402.9L740.6 1405.1L742.1 1407L743.7 1408.9L745.2 1410.5L746.8 1412.1L748.3 1413.5L749.9 1414.9L751.4 1416.1L753 1417.2L754.5 1418.3L756.1 1419.2L757.6 1420.1L759.2 1420.9L763.6 1409.8L768.1 1399.1L772.6 1388.9L777.1 1379.1L781.5 1369.6L786 1360.6L790.5 1351.9L794.9 1343.5L799.4 1335.5L803.9 1327.9L808.4 1320.5L812.8 1313.4L817.3 1306.7L821.8 1300.1L826.2 1293.9L830.7 1287.9L835.2 1282.2L839.7 1276.6L844.1 1271.3L848.6 1266.3L853.1 1261.4L857.5 1256.7L862 1252.2L866.5 1247.9L871 1243.8L875.4 1239.8L879.9 1236L884.4 1232.3L888.8 1228.8L893.3 1225.5L897.8 1222.2L902.3 1219.1L906.7 1216.2L911.2 1213.3L915.7 1210.6L920.1 1208L924.6 1205.4L929.1 1203L933.6 1200.7L938 1198.5L939.6 1216.6L941.1 1233.4L942.7 1248.9L944.2 1263.1L945.8 1276.3L947.3 1288.5L948.9 1299.7L950.4 1310.1L952 1319.7L953.6 1328.5L955.1 1336.7L956.7 1344.2L958.2 1351.2L959.8 1357.6L961.3 1363.5L962.9 1369L964.4 1374L966 1378.7L967.5 1383L969.1 1387L970.6 1390.6L972.2 1394L973.7 1397.1L975.3 1400L976.8 1402.7L978.4 1405.1L979.9 1407.4L981.5 1409.5L983 1411.4L984.6 1413.2L986.1 1414.9L987.7 1416.4L989.2 1417.8L990.8 1419.1L992.3 1420.3L993.9 1421.4L995.4 1422.4L997 1423.3L998.5 1424.2L1000.1 1425L1004.6 1414.2L1009.1 1403.9L1013.6 1393.9L1018.1 1384.4L1022.5 1375.3L1027 1366.5L1031.5 1358.1L1036 1350L1040.5 1342.2L1045 1334.8L1049.5 1327.6L1054 1320.8L1058.5 1314.2L1062.9 1307.9L1067.4 1301.8L1071.9 1296L1076.4 1290.5L1080.9 1285.1L1085.4 1280L1089.9 1275L1094.4 1270.3L1098.9 1265.8L1103.4 1261.4L1107.8 1257.3L1112.3 1253.2L1116.8 1249.4L1121.3 1245.7L1125.8 1242.2L1130.3 1238.8L1134.8 1235.5L1139.3 1232.4L1143.8 1229.4L1148.3 1226.5L1152.7 1223.7L1157.2 1221.1L1161.7 1218.5L1166.2 1216.1L1170.7 1213.7L1175.2 1211.5L1179.7 1209.3L1181.3 1226.9L1182.8 1243.2L1184.4 1258.2L1186 1272.1L1187.6 1284.9L1189.2 1296.7L1190.7 1307.6L1192.3 1317.6L1193.9 1326.9L1195.5 1335.5L1197.1 1343.4L1198.6 1350.7L1200.2 1357.4L1201.8 1363.7L1203.4 1369.4L1204.9 1374.7L1206.5 1379.6L1208.1 1384.1L1209.7 1388.3L1211.3 1392.2L1212.8 1395.7L1214.4 1399L1216 1402L1217.6 1404.8L1219.2 1407.4L1220.7 1409.8L1222.3 1412L1223.9 1414L1225.5 1415.9L1227 1417.6L1228.6 1419.2L1230.2 1420.7L1231.8 1422.1L1233.4 1423.3L1234.9 1424.5L1236.5 1425.6L1238.1 1426.5L1239.7 1427.5L1241.3 1428.3L1242.8 1429.1L1247.3 1418.7L1251.8 1408.7L1256.3 1399.2L1260.7 1390L1265.2 1381.2L1269.7 1372.8L1274.1 1364.7L1278.6 1356.9L1283.1 1349.4L1287.6 1342.3L1292 1335.4L1296.5 1328.8L1301 1322.5L1305.4 1316.4L1309.9 1310.6L1314.4 1305L1318.9 1299.6L1323.3 1294.5L1327.8 1289.5L1332.3 1284.8L1336.7 1280.2L1341.2 1275.9L1345.7 1271.7L1350.2 1267.7L1354.6 1263.8L1359.1 1260.1L1363.6 1256.5L1368 1253.1L1372.5 1249.9L1377 1246.7L1381.5 1243.7L1385.9 1240.8L1390.4 1238L1394.9 1235.4L1399.3 1232.8L1403.8 1230.4L1408.3 1228L1412.8 1225.8L1417.2 1223.6L1421.7 1221.5L1423.2 1238.4L1424.7 1253.9L1426.2 1268.3L1427.7 1281.6L1429.2 1293.8L1430.7 1305.1L1432.2 1315.5L1433.7 1325.1L1435.3 1334L1436.8 1342.2L1438.3 1349.8L1439.8 1356.8L1441.3 1363.3L1442.8 1369.2L1444.3 1374.7L1445.8 1379.8L1447.3 1384.5L1448.8 1388.8L1450.3 1392.8L1451.8 1396.5L1453.3 1399.9L1454.8 1403L1456.3 1405.9L1457.8 1408.6L1459.3 1411.1L1460.9 1413.3L1462.4 1415.4L1463.9 1417.4L1465.4 1419.2L1466.9 1420.8L1468.4 1422.4L1469.9 1423.8L1471.4 1425.1L1472.9 1426.3L1474.4 1427.4L1475.9 1428.4L1477.4 1429.4L1478.9 1430.2L1480.4 1431L1481.9 1431.8L1486.5 1421.8L1491 1412.1L1495.5 1402.9L1500 1394L1504.5 1385.5L1509 1377.3L1513.6 1369.5L1518.1 1361.9L1522.6 1354.7L1527.1 1347.8L1531.6 1341.2L1536.1 1334.8L1540.7 1328.7L1545.2 1322.8L1549.7 1317.1L1554.2 1311.7L1558.7 1306.5L1563.2 1301.6L1567.8 1296.8L1572.3 1292.2L1576.8 1287.8L1581.3 1283.6L1585.8 1279.5L1590.3 1275.6L1594.9 1271.9L1599.4 1268.3L1603.9 1264.9L1608.4 1261.6L1612.9 1258.4L1617.5 1255.4L1622 1252.5L1626.5 1249.7L1631 1247L1635.5 1244.4L1640 1242L1644.6 1239.6L1649.1 1237.3L1653.6 1235.1L1658.1 1233L1662.6 1231L1664.2 1247.3L1665.7 1262.4L1667.3 1276.3L1668.8 1289.1L1670.4 1301L1671.9 1311.9L1673.5 1322L1675 1331.3L1676.6 1339.9L1678.1 1347.8L1679.7 1355.2L1681.2 1361.9L1682.8 1368.2L1684.3 1373.9L1685.9 1379.3L1687.4 1384.2L1689 1388.7L1690.5 1392.9L1692.1 1396.8L1693.7 1400.3L1695.2 1403.6L1696.8 1406.7L1698.3 1409.5L1699.9 1412.1L1701.4 1414.4L1703 1416.7L1704.5 1418.7L1706.1 1420.6L1707.6 1422.3L1709.2 1423.9L1710.7 1425.4L1712.3 1426.8L1713.8 1428L1715.4 1429.2L1716.9 1430.3L1718.5 1431.2L1720 1432.2L1721.6 1433L1723.1 1433.8L1724.7 1434.5" fill="none" stroke="#6340f3" stroke-width="8" stroke-linejoin="miter" stroke-miterlimit="6"/><path d="M514.6 1425L519.2 1407.1L523.7 1390L528.3 1373.7L532.9 1358.2L537.4 1343.4L542 1329.3L546.5 1315.8L551.1 1303L555.7 1290.7L560.2 1279.1L564.8 1267.9L569.4 1257.3L573.9 1247.2L578.5 1237.5L583 1228.3L587.6 1219.5L592.2 1211.2L596.7 1203.2L601.3 1195.5L605.9 1188.3L610.4 1181.4L615 1174.8L619.5 1168.5L624.1 1162.5L628.7 1156.7L633.2 1151.3L637.8 1146.1L642.4 1141.1L646.9 1136.4L651.5 1131.8L656 1127.5L660.6 1123.4L665.2 1119.5L669.7 1115.8L674.3 1112.2L678.9 1108.8L683.4 1105.6L688 1102.5L692.6 1099.5L697.1 1096.7L698.7 1114L700.2 1130.4L701.8 1145.9L703.3 1160.6L704.9 1174.5L706.4 1187.6L708 1200.1L709.5 1211.9L711.1 1223L712.6 1233.6L714.2 1243.5L715.7 1253L717.3 1261.9L718.8 1270.4L720.4 1278.4L721.9 1286L723.5 1293.2L725 1300L726.6 1306.4L728.1 1312.5L729.7 1318.3L731.2 1323.7L732.8 1328.9L734.3 1333.8L735.9 1338.4L737.5 1342.8L739 1346.9L740.6 1350.8L742.1 1354.5L743.7 1358L745.2 1361.4L746.8 1364.5L748.3 1367.5L749.9 1370.3L751.4 1373L753 1375.5L754.5 1377.9L756.1 1380.1L757.6 1382.3L759.2 1384.3L763.6 1367.7L768.1 1351.8L772.6 1336.6L777.1 1322.2L781.5 1308.4L786 1295.3L790.5 1282.8L794.9 1270.9L799.4 1259.5L803.9 1248.6L808.4 1238.3L812.8 1228.4L817.3 1219L821.8 1210L826.2 1201.4L830.7 1193.3L835.2 1185.5L839.7 1178.1L844.1 1171L848.6 1164.2L853.1 1157.8L857.5 1151.6L862 1145.8L866.5 1140.2L871 1134.9L875.4 1129.8L879.9 1125L884.4 1120.3L888.8 1115.9L893.3 1111.7L897.8 1107.7L902.3 1103.9L906.7 1100.3L911.2 1096.8L915.7 1093.5L920.1 1090.3L924.6 1087.3L929.1 1084.5L933.6 1081.7L938 1079.1L939.6 1096L941.1 1112L942.7 1127.1L944.2 1141.5L945.8 1155L947.3 1167.9L948.9 1180L950.4 1191.5L952 1202.4L953.6 1212.7L955.1 1222.4L956.7 1231.7L958.2 1240.4L959.8 1248.7L961.3 1256.5L962.9 1263.9L964.4 1270.9L966 1277.5L967.5 1283.8L969.1 1289.8L970.6 1295.4L972.2 1300.7L973.7 1305.8L975.3 1310.5L976.8 1315L978.4 1319.3L979.9 1323.4L981.5 1327.2L983 1330.8L984.6 1334.2L986.1 1337.5L987.7 1340.6L989.2 1343.5L990.8 1346.2L992.3 1348.8L993.9 1351.3L995.4 1353.6L997 1355.8L998.5 1357.9L1000.1 1359.9L1004.6 1343.5L1009.1 1327.8L1013.6 1312.9L1018.1 1298.6L1022.5 1285L1027 1272.1L1031.5 1259.7L1036 1248L1040.5 1236.7L1045 1226L1049.5 1215.8L1054 1206L1058.5 1196.8L1062.9 1187.9L1067.4 1179.5L1071.9 1171.4L1076.4 1163.7L1080.9 1156.4L1085.4 1149.4L1089.9 1142.7L1094.4 1136.4L1098.9 1130.3L1103.4 1124.6L1107.8 1119L1112.3 1113.8L1116.8 1108.8L1121.3 1104L1125.8 1099.4L1130.3 1095.1L1134.8 1091L1139.3 1087L1143.8 1083.2L1148.3 1079.6L1152.7 1076.2L1157.2 1073L1161.7 1069.8L1166.2 1066.9L1170.7 1064L1175.2 1061.3L1179.7 1058.8L1181.3 1075.7L1182.8 1091.6L1184.4 1106.8L1186 1121.1L1187.6 1134.7L1189.2 1147.5L1190.7 1159.7L1192.3 1171.2L1193.9 1182L1195.5 1192.3L1197.1 1202.1L1198.6 1211.3L1200.2 1220.1L1201.8 1228.3L1203.4 1236.2L1204.9 1243.6L1206.5 1250.6L1208.1 1257.2L1209.7 1263.5L1211.3 1269.4L1212.8 1275L1214.4 1280.4L1216 1285.4L1217.6 1290.2L1219.2 1294.7L1220.7 1299L1222.3 1303L1223.9 1306.8L1225.5 1310.5L1227 1313.9L1228.6 1317.1L1230.2 1320.2L1231.8 1323.1L1233.4 1325.9L1234.9 1328.5L1236.5 1330.9L1238.1 1333.3L1239.7 1335.5L1241.3 1337.6L1242.8 1339.6L1247.3 1323.3L1251.8 1307.9L1256.3 1293.2L1260.7 1279.1L1265.2 1265.7L1269.7 1252.9L1274.1 1240.7L1278.6 1229.1L1283.1 1218L1287.6 1207.5L1292 1197.4L1296.5 1187.8L1301 1178.6L1305.4 1169.9L1309.9 1161.5L1314.4 1153.6L1318.9 1146L1323.3 1138.8L1327.8 1131.9L1332.3 1125.3L1336.7 1119.1L1341.2 1113.1L1345.7 1107.4L1350.2 1101.9L1354.6 1096.8L1359.1 1091.8L1363.6 1087.1L1368 1082.6L1372.5 1078.3L1377 1074.2L1381.5 1070.3L1385.9 1066.6L1390.4 1063.1L1394.9 1059.7L1399.3 1056.5L1403.8 1053.4L1408.3 1050.5L1412.8 1047.7L1417.2 1045L1421.7 1042.5L1423.2 1059.4L1424.7 1075.4L1426.2 1090.5L1427.7 1104.8L1429.2 1118.4L1430.7 1131.2L1432.2 1143.4L1433.7 1154.9L1435.3 1165.8L1436.8 1176.1L1438.3 1185.8L1439.8 1195L1441.3 1203.8L1442.8 1212L1444.3 1219.9L1445.8 1227.3L1447.3 1234.3L1448.8 1240.9L1450.3 1247.2L1451.8 1253.1L1453.3 1258.8L1454.8 1264.1L1456.3 1269.1L1457.8 1273.9L1459.3 1278.4L1460.9 1282.7L1462.4 1286.7L1463.9 1290.6L1465.4 1294.2L1466.9 1297.6L1468.4 1300.9L1469.9 1303.9L1471.4 1306.8L1472.9 1309.6L1474.4 1312.2L1475.9 1314.7L1477.4 1317L1478.9 1319.2L1480.4 1321.3L1481.9 1323.3L1486.5 1307L1491 1291.5L1495.5 1276.7L1500 1262.5L1504.5 1249.1L1509 1236.3L1513.6 1224L1518.1 1212.3L1522.6 1201.2L1527.1 1190.6L1531.6 1180.5L1536.1 1170.8L1540.7 1161.6L1545.2 1152.8L1549.7 1144.5L1554.2 1136.5L1558.7 1128.9L1563.2 1121.6L1567.8 1114.7L1572.3 1108.1L1576.8 1101.8L1581.3 1095.8L1585.8 1090L1590.3 1084.6L1594.9 1079.4L1599.4 1074.4L1603.9 1069.7L1608.4 1065.2L1612.9 1060.9L1617.5 1056.8L1622 1052.8L1626.5 1049.1L1631 1045.5L1635.5 1042.2L1640 1038.9L1644.6 1035.8L1649.1 1032.9L1653.6 1030.1L1658.1 1027.4L1662.6 1024.8L1664.2 1041.8L1665.7 1057.9L1667.3 1073.1L1668.8 1087.5L1670.4 1101.1L1671.9 1114L1673.5 1126.2L1675 1137.8L1676.6 1148.7L1678.1 1159.1L1679.7 1168.9L1681.2 1178.2L1682.8 1186.9L1684.3 1195.2L1685.9 1203.1L1687.4 1210.5L1689 1217.6L1690.5 1224.2L1692.1 1230.6L1693.7 1236.5L1695.2 1242.2L1696.8 1247.5L1698.3 1252.6L1699.9 1257.4L1701.4 1261.9L1703 1266.2L1704.5 1270.3L1706.1 1274.1L1707.6 1277.8L1709.2 1281.2L1710.7 1284.5L1712.3 1287.6L1713.8 1290.5L1715.4 1293.2L1716.9 1295.9L1718.5 1298.3L1720 1300.7L1721.6 1302.9L1723.1 1305L1724.7 1307" fill="none" stroke="#000" stroke-width="5.9" stroke-dasharray="0.01 9.9" stroke-linecap="round" stroke-linejoin="round"/><path d="M514.6 1423.4L515.6 1422.6L516.5 1421.7L517.5 1420.6L518.5 1419.4L519.4 1418L520.4 1416.7L521.4 1415.3L522.4 1414.1L523.3 1412.8L524.3 1411.5L525.3 1410.3L526.2 1409.1L527.2 1407.9L528.2 1406.7L529.1 1405.6L530.1 1404.4L531.1 1403.3L532 1402.2L533 1401.2L534 1400.1L535 1399.1L535.9 1398L536.9 1397L537.9 1396.1L538.8 1395.1L539.8 1394.2L540.8 1393.2L541.7 1392.3L542.7 1391.4L543.7 1390.5L544.6 1389.7L545.6 1388.8L546.6 1388L547.6 1387.1L548.5 1386.3L549.5 1385.5L550.5 1384.7L551.4 1384L552.4 1383.2L553.4 1382.5L554.3 1381.7L555.3 1381L556.3 1380.3L557.2 1379.6L558.2 1379L559.2 1378.3L560.2 1377.6L561.1 1377L562.1 1376.4L563.1 1375.7L564 1375.1L565 1374.5L566 1373.9L566.9 1373.3L567.9 1372.8L568.9 1372.2L569.8 1371.7L570.8 1371.1L571.8 1370.6L572.8 1370.1L573.7 1369.6L574.7 1369L575.7 1368.6L576.6 1368.1L577.6 1367.6L578.6 1367.1L579.5 1366.7L580.5 1366.2L581.5 1365.8L582.5 1365.3L583.4 1364.9L584.4 1364.5L585.4 1364L586.3 1363.6L587.3 1363.2L588.3 1362.8L589.2 1362.5L590.2 1362.1L591.2 1361.7L592.1 1361.3L593.1 1361L594.1 1360.6L595.1 1360.3L596 1359.9L597 1359.6L598 1359.2L598.9 1358.9L599.9 1358.6L600.9 1358.3L601.8 1358L602.8 1357.7L603.8 1357.4L604.7 1357.1L605.7 1356.8L606.7 1356.5L607.7 1356.2L608.6 1356L609.6 1355.7L610.6 1355.4L611.5 1355.2L612.5 1354.9L613.5 1354.7L614.4 1354.4L615.4 1354.2L616.4 1353.9L617.3 1353.7L618.3 1353.5L619.3 1353.3L620.3 1353L621.2 1352.8L622.2 1352.6L623.2 1352.4L624.1 1352.2L625.1 1352L626.1 1351.8L627 1351.6L628 1351.4L629 1351.2L629.9 1351L630.9 1350.8L631.9 1350.7L632.9 1350.5L633.8 1350.3L634.8 1350.1L635.8 1350L636.7 1349.8L637.7 1349.6L638.7 1349.5L639.6 1349.3L640.6 1349.2L641.6 1349L642.5 1348.9L643.5 1348.7L644.5 1348.6L645.5 1348.4L646.4 1348.3L647.4 1348.2L648.4 1348L649.3 1347.9L650.3 1347.8L651.3 1347.7L652.2 1347.5L653.2 1347.4L654.2 1347.3L655.1 1347.2L656.1 1347.1L657.1 1346.9L658.1 1346.8L659 1346.7L660 1346.6L661 1346.5L661.9 1346.4L662.9 1346.3L663.9 1346.2L664.8 1346.1L665.8 1346L666.8 1345.9L667.7 1345.8L668.7 1345.7L669.7 1345.6L670.7 1345.5L671.6 1345.5L672.6 1345.4L673.6 1345.3L674.5 1345.2L675.5 1345.1L676.5 1345L677.4 1345L678.4 1344.9L679.4 1344.8L680.3 1344.7L681.3 1344.7L682.3 1344.6L683.3 1344.5L684.2 1344.4L685.2 1344.4L686.2 1344.3L687.1 1344.2L688.1 1344.2L689.1 1344.1L690 1344L691 1344L692 1343.9L692.9 1343.9L693.9 1344.3L694.9 1345.3L695.9 1346.9L696.8 1349L697.8 1351.7L698.8 1354.8L699.7 1358.4L700.7 1362.5L701.7 1366.9L702.6 1371.3L703.6 1375.3L704.6 1379.2L705.6 1382.8L706.5 1386.2L707.5 1389.4L708.5 1392.4L709.4 1395.2L710.4 1397.9L711.4 1400.3L712.3 1402.7L713.3 1404.9L714.3 1406.9L715.2 1408.9L716.2 1410.7L717.2 1412.4L718.2 1414L719.1 1415.5L720.1 1416.9L721.1 1418.3L722 1419.5L723 1420.7L724 1421.8L724.9 1422.9L725.9 1423.8L726.9 1424.8L727.8 1425.6L728.8 1426.4L729.8 1427.2L730.8 1427.9L731.7 1428.6L732.7 1429.2L733.7 1429.8L734.6 1430.4L735.6 1430.9L736.6 1431.4L737.5 1431.8L738.5 1432.3L739.5 1432.7L740.4 1433.1L741.4 1433.4L742.4 1433.8L743.4 1434.1L744.3 1434.4L745.3 1434.7L746.3 1434.9L747.2 1435L748.2 1434.9L749.2 1434.5L750.1 1434.1L751.1 1433.4L752.1 1432.6L753 1431.6L754 1430.5L755 1429.2L756 1427.9L756.9 1426.7L757.9 1425.4L758.9 1424.2L759.8 1423.1L760.8 1421.9L761.8 1420.7L762.7 1419.6L763.7 1418.5L764.7 1417.4L765.6 1416.4L766.6 1415.3L767.6 1414.3L768.6 1413.3L769.5 1412.3L770.5 1411.3L771.5 1410.3L772.4 1409.4L773.4 1408.5L774.4 1407.5L775.3 1406.6L776.3 1405.8L777.3 1404.9L778.2 1404L779.2 1403.2L780.2 1402.4L781.2 1401.5L782.1 1400.7L783.1 1400L784.1 1399.2L785 1398.4L786 1397.7L787 1396.9L787.9 1396.2L788.9 1395.5L789.9 1394.8L790.8 1394.1L791.8 1393.5L792.8 1392.8L793.8 1392.1L794.7 1391.5L795.7 1390.9L796.7 1390.3L797.6 1389.6L798.6 1389L799.6 1388.5L800.5 1387.9L801.5 1387.3L802.5 1386.8L803.4 1386.2L804.4 1385.7L805.4 1385.1L806.4 1384.6L807.3 1384.1L808.3 1383.6L809.3 1383.1L810.2 1382.6L811.2 1382.1L812.2 1381.7L813.1 1381.2L814.1 1380.7L815.1 1380.3L816 1379.8L817 1379.4L818 1379L819 1378.6L819.9 1378.2L820.9 1377.8L821.9 1377.4L822.8 1377L823.8 1376.6L824.8 1376.2L825.7 1375.8L826.7 1375.5L827.7 1375.1L828.7 1374.8L829.6 1374.4L830.6 1374.1L831.6 1373.7L832.5 1373.4L833.5 1373.1L834.5 1372.8L835.4 1372.4L836.4 1372.1L837.4 1371.8L838.3 1371.5L839.3 1371.2L840.3 1371L841.3 1370.7L842.2 1370.4L843.2 1370.1L844.2 1369.8L845.1 1369.6L846.1 1369.3L847.1 1369.1L848 1368.8L849 1368.6L850 1368.3L850.9 1368.1L851.9 1367.9L852.9 1367.6L853.9 1367.4L854.8 1367.2L855.8 1367L856.8 1366.7L857.7 1366.5L858.7 1366.3L859.7 1366.1L860.6 1365.9L861.6 1365.7L862.6 1365.5L863.5 1365.3L864.5 1365.1L865.5 1365L866.5 1364.8L867.4 1364.6L868.4 1364.4L869.4 1364.2L870.3 1364.1L871.3 1363.9L872.3 1363.7L873.2 1363.6L874.2 1363.4L875.2 1363.3L876.1 1363.1L877.1 1363L878.1 1362.8L879.1 1362.7L880 1362.5L881 1362.4L882 1362.2L882.9 1362.1L883.9 1362L884.9 1361.8L885.8 1361.7L886.8 1361.6L887.8 1361.5L888.7 1361.3L889.7 1361.2L890.7 1361.1L891.7 1361L892.6 1360.9L893.6 1360.8L894.6 1360.6L895.5 1360.5L896.5 1360.4L897.5 1360.3L898.4 1360.2L899.4 1360.1L900.4 1360L901.3 1359.9L902.3 1359.8L903.3 1359.7L904.3 1359.6L905.2 1359.5L906.2 1359.4L907.2 1359.4L908.1 1359.3L909.1 1359.2L910.1 1359.1L911 1359L912 1358.9L913 1358.9L913.9 1358.8L914.9 1358.7L915.9 1358.6L916.9 1358.5L917.8 1358.5L918.8 1358.4L919.8 1358.3L920.7 1358.3L921.7 1358.2L922.7 1358.1L923.6 1358.1L924.6 1358L925.6 1357.9L926.5 1357.9L927.5 1357.8L928.5 1357.7L929.5 1357.7L930.4 1357.6L931.4 1357.6L932.4 1357.5L933.3 1357.4L934.3 1357.5L935.3 1358.1L936.2 1359.3L937.2 1361L938.2 1363.2L939.1 1365.9L940.1 1369L941.1 1372.5L942.1 1376.4L943 1380.6L944 1384.5L945 1388.2L945.9 1391.7L946.9 1394.9L947.9 1398L948.8 1400.9L949.8 1403.6L950.8 1406.1L951.8 1408.5L952.7 1410.7L953.7 1412.8L954.7 1414.8L955.6 1416.7L956.6 1418.4L957.6 1420L958.5 1421.6L959.5 1423L960.5 1424.4L961.4 1425.7L962.4 1426.9L963.4 1428L964.4 1429.1L965.3 1430.1L966.3 1431L967.3 1431.9L968.2 1432.7L969.2 1433.5L970.2 1434.2L971.1 1434.9L972.1 1435.6L973.1 1436.2L974 1436.7L975 1437.3L976 1437.8L977 1438.2L977.9 1438.7L978.9 1439.1L979.9 1439.5L980.8 1439.9L981.8 1440.2L982.8 1440.5L983.7 1440.8L984.7 1441.1L985.7 1441.4L986.6 1441.6L987.6 1441.8L988.6 1441.8L989.6 1441.6L990.5 1441.2L991.5 1440.6L992.5 1439.9L993.4 1439.1L994.4 1438.1L995.4 1436.9L996.3 1435.7L997.3 1434.5L998.3 1433.3L999.2 1432.1L1000.2 1430.9L1001.2 1429.8L1002.2 1428.7L1003.1 1427.6L1004.1 1426.5L1005.1 1425.5L1006 1424.5L1007 1423.4L1008 1422.4L1008.9 1421.4L1009.9 1420.5L1010.9 1419.5L1011.8 1418.6L1012.8 1417.7L1013.8 1416.8L1014.8 1415.9L1015.7 1415L1016.7 1414.1L1017.7 1413.3L1018.6 1412.5L1019.6 1411.6L1020.6 1410.8L1021.5 1410L1022.5 1409.3L1023.5 1408.5L1024.4 1407.7L1025.4 1407L1026.4 1406.3L1027.4 1405.6L1028.3 1404.9L1029.3 1404.2L1030.3 1403.5L1031.2 1402.8L1032.2 1402.2L1033.2 1401.5L1034.1 1400.9L1035.1 1400.3L1036.1 1399.7L1037 1399L1038 1398.5L1039 1397.9L1040 1397.3L1040.9 1396.7L1041.9 1396.2L1042.9 1395.6L1043.8 1395.1L1044.8 1394.6L1045.8 1394.1L1046.7 1393.5L1047.7 1393L1048.7 1392.6L1049.6 1392.1L1050.6 1391.6L1051.6 1391.1L1052.6 1390.7L1053.5 1390.2L1054.5 1389.8L1055.5 1389.3L1056.4 1388.9L1057.4 1388.5L1058.4 1388.1L1059.3 1387.7L1060.3 1387.3L1061.3 1386.9L1062.2 1386.5L1063.2 1386.1L1064.2 1385.7L1065.2 1385.4L1066.1 1385L1067.1 1384.6L1068.1 1384.3L1069 1383.9L1070 1383.6L1071 1383.3L1071.9 1382.9L1072.9 1382.6L1073.9 1382.3L1074.9 1382L1075.8 1381.7L1076.8 1381.4L1077.8 1381.1L1078.7 1380.8L1079.7 1380.5L1080.7 1380.2L1081.6 1379.9L1082.6 1379.7L1083.6 1379.4L1084.5 1379.1L1085.5 1378.9L1086.5 1378.6L1087.5 1378.4L1088.4 1378.1L1089.4 1377.9L1090.4 1377.7L1091.3 1377.4L1092.3 1377.2L1093.3 1377L1094.2 1376.7L1095.2 1376.5L1096.2 1376.3L1097.1 1376.1L1098.1 1375.9L1099.1 1375.7L1100.1 1375.5L1101 1375.3L1102 1375.1L1103 1374.9L1103.9 1374.7L1104.9 1374.5L1105.9 1374.4L1106.8 1374.2L1107.8 1374L1108.8 1373.8L1109.7 1373.7L1110.7 1373.5L1111.7 1373.3L1112.7 1373.2L1113.6 1373L1114.6 1372.9L1115.6 1372.7L1116.5 1372.6L1117.5 1372.4L1118.5 1372.3L1119.4 1372.1L1120.4 1372L1121.4 1371.8L1122.3 1371.7L1123.3 1371.6L1124.3 1371.4L1125.3 1371.3L1126.2 1371.2L1127.2 1371.1L1128.2 1370.9L1129.1 1370.8L1130.1 1370.7L1131.1 1370.6L1132 1370.5L1133 1370.4L1134 1370.2L1134.9 1370.1L1135.9 1370L1136.9 1369.9L1137.9 1369.8L1138.8 1369.7L1139.8 1369.6L1140.8 1369.5L1141.7 1369.4L1142.7 1369.3L1143.7 1369.2L1144.6 1369.1L1145.6 1369.1L1146.6 1369L1147.5 1368.9L1148.5 1368.8L1149.5 1368.7L1150.5 1368.6L1151.4 1368.5L1152.4 1368.5L1153.4 1368.4L1154.3 1368.3L1155.3 1368.2L1156.3 1368.2L1157.2 1368.1L1158.2 1368L1159.2 1367.9L1160.1 1367.9L1161.1 1367.8L1162.1 1367.7L1163.1 1367.7L1164 1367.6L1165 1367.5L1166 1367.5L1166.9 1367.4L1167.9 1367.4L1168.9 1367.3L1169.8 1367.2L1170.8 1367.2L1171.8 1367.1L1172.7 1367.1L1173.7 1367L1174.7 1367L1175.7 1366.9L1176.6 1367.3L1177.6 1368.2L1178.6 1369.7L1179.5 1371.6L1180.5 1373.9L1181.5 1376.6L1182.4 1379.8L1183.4 1383.2L1184.4 1387.1L1185.4 1390.8L1186.3 1394.2L1187.3 1397.5L1188.3 1400.6L1189.2 1403.5L1190.2 1406.2L1191.2 1408.8L1192.1 1411.2L1193.1 1413.4L1194.1 1415.6L1195 1417.6L1196 1419.5L1197 1421.2L1198 1422.9L1198.9 1424.5L1199.9 1426L1200.9 1427.4L1201.8 1428.7L1202.8 1429.9L1203.8 1431.1L1204.7 1432.1L1205.7 1433.2L1206.7 1434.1L1207.6 1435L1208.6 1435.9L1209.6 1436.7L1210.6 1437.5L1211.5 1438.2L1212.5 1438.8L1213.5 1439.5L1214.4 1440.1L1215.4 1440.6L1216.4 1441.1L1217.3 1441.6L1218.3 1442.1L1219.3 1442.5L1220.2 1442.9L1221.2 1443.3L1222.2 1443.7L1223.2 1444L1224.1 1444.4L1225.1 1444.7L1226.1 1444.9L1227 1445.2L1228 1445.5L1229 1445.7L1229.9 1445.9L1230.9 1445.9L1231.9 1445.8L1232.8 1445.5L1233.8 1445L1234.8 1444.4L1235.8 1443.5L1236.7 1442.6L1237.7 1441.5L1238.7 1440.2L1239.6 1439L1240.6 1437.8L1241.6 1436.6L1242.5 1435.5L1243.5 1434.3L1244.5 1433.2L1245.4 1432.1L1246.4 1431L1247.4 1430L1248.4 1428.9L1249.3 1427.9L1250.3 1426.9L1251.3 1425.9L1252.2 1424.9L1253.2 1423.9L1254.2 1423L1255.1 1422.1L1256.1 1421.1L1257.1 1420.2L1258 1419.4L1259 1418.5L1260 1417.6L1261 1416.8L1261.9 1416L1262.9 1415.2L1263.9 1414.4L1264.8 1413.6L1265.8 1412.8L1266.8 1412L1267.7 1411.3L1268.7 1410.6L1269.7 1409.8L1270.6 1409.1L1271.6 1408.4L1272.6 1407.8L1273.6 1407.1L1274.5 1406.4L1275.5 1405.8L1276.5 1405.1L1277.4 1404.5L1278.4 1403.9L1279.4 1403.3L1280.3 1402.7L1281.3 1402.1L1282.3 1401.5L1283.2 1400.9L1284.2 1400.4L1285.2 1399.8L1286.2 1399.3L1287.1 1398.8L1288.1 1398.2L1289.1 1397.7L1290 1397.2L1291 1396.7L1292 1396.2L1292.9 1395.8L1293.9 1395.3L1294.9 1394.8L1295.8 1394.4L1296.8 1393.9L1297.8 1393.5L1298.8 1393.1L1299.7 1392.6L1300.7 1392.2L1301.7 1391.8L1302.6 1391.4L1303.6 1391L1304.6 1390.6L1305.5 1390.2L1306.5 1389.8L1307.5 1389.5L1308.5 1389.1L1309.4 1388.7L1310.4 1388.4L1311.4 1388L1312.3 1387.7L1313.3 1387.4L1314.3 1387L1315.2 1386.7L1316.2 1386.4L1317.2 1386.1L1318.1 1385.8L1319.1 1385.5L1320.1 1385.2L1321.1 1384.9L1322 1384.6L1323 1384.3L1324 1384L1324.9 1383.8L1325.9 1383.5L1326.9 1383.2L1327.8 1383L1328.8 1382.7L1329.8 1382.5L1330.7 1382.2L1331.7 1382L1332.7 1381.7L1333.7 1381.5L1334.6 1381.3L1335.6 1381L1336.6 1380.8L1337.5 1380.6L1338.5 1380.4L1339.5 1380.2L1340.4 1380L1341.4 1379.8L1342.4 1379.6L1343.3 1379.4L1344.3 1379.2L1345.3 1379L1346.3 1378.8L1347.2 1378.6L1348.2 1378.4L1349.2 1378.2L1350.1 1378.1L1351.1 1377.9L1352.1 1377.7L1353 1377.6L1354 1377.4L1355 1377.2L1355.9 1377.1L1356.9 1376.9L1357.9 1376.8L1358.9 1376.6L1359.8 1376.5L1360.8 1376.3L1361.8 1376.2L1362.7 1376L1363.7 1375.9L1364.7 1375.8L1365.6 1375.6L1366.6 1375.5L1367.6 1375.4L1368.5 1375.2L1369.5 1375.1L1370.5 1375L1371.5 1374.9L1372.4 1374.8L1373.4 1374.6L1374.4 1374.5L1375.3 1374.4L1376.3 1374.3L1377.3 1374.2L1378.2 1374.1L1379.2 1374L1380.2 1373.9L1381.1 1373.8L1382.1 1373.7L1383.1 1373.6L1384.1 1373.5L1385 1373.4L1386 1373.3L1387 1373.2L1387.9 1373.1L1388.9 1373L1389.9 1372.9L1390.8 1372.8L1391.8 1372.8L1392.8 1372.7L1393.7 1372.6L1394.7 1372.5L1395.7 1372.4L1396.7 1372.4L1397.6 1372.3L1398.6 1372.2L1399.6 1372.1L1400.5 1372.1L1401.5 1372L1402.5 1371.9L1403.4 1371.9L1404.4 1371.8L1405.4 1371.7L1406.3 1371.7L1407.3 1371.6L1408.3 1371.5L1409.3 1371.5L1410.2 1371.4L1411.2 1371.3L1412.2 1371.3L1413.1 1371.2L1414.1 1371.2L1415.1 1371.1L1416 1371.1L1417 1371L1418 1371L1418.9 1371.6L1419.9 1372.7L1420.9 1374.2L1421.9 1376.2L1422.8 1378.6L1423.8 1381.5L1424.8 1384.6L1425.7 1388.2L1426.7 1392L1427.7 1395.5L1428.6 1398.8L1429.6 1402L1430.6 1404.9L1431.6 1407.7L1432.5 1410.3L1433.5 1412.7L1434.5 1415L1435.4 1417.2L1436.4 1419.2L1437.4 1421.1L1438.3 1422.9L1439.3 1424.6L1440.3 1426.2L1441.2 1427.6L1442.2 1429L1443.2 1430.3L1444.2 1431.6L1445.1 1432.7L1446.1 1433.8L1447.1 1434.8L1448 1435.8L1449 1436.7L1450 1437.6L1450.9 1438.3L1451.9 1439.1L1452.9 1439.8L1453.8 1440.5L1454.8 1441.1L1455.8 1441.7L1456.8 1442.2L1457.7 1442.7L1458.7 1443.2L1459.7 1443.7L1460.6 1444.1L1461.6 1444.5L1462.6 1444.9L1463.5 1445.2L1464.5 1445.6L1465.5 1445.9L1466.4 1446.2L1467.4 1446.4L1468.4 1446.7L1469.4 1446.9L1470.3 1447.2L1471.3 1447.3L1472.3 1447.2L1473.2 1447L1474.2 1446.6L1475.2 1446L1476.1 1445.3L1477.1 1444.4L1478.1 1443.4L1479 1442.2L1480 1440.9L1481 1439.7L1482 1438.5L1482.9 1437.3L1483.9 1436.1L1484.9 1435L1485.8 1433.8L1486.8 1432.7L1487.8 1431.6L1488.7 1430.5L1489.7 1429.5L1490.7 1428.4L1491.6 1427.4L1492.6 1426.4L1493.6 1425.4L1494.6 1424.4L1495.5 1423.5L1496.5 1422.6L1497.5 1421.6L1498.4 1420.7L1499.4 1419.8L1500.4 1418.9L1501.3 1418.1L1502.3 1417.2L1503.3 1416.4L1504.2 1415.6L1505.2 1414.8L1506.2 1414L1507.2 1413.2L1508.1 1412.4L1509.1 1411.7L1510.1 1410.9L1511 1410.2L1512 1409.5L1513 1408.8L1513.9 1408.1L1514.9 1407.4L1515.9 1406.8L1516.8 1406.1L1517.8 1405.5L1518.8 1404.8L1519.8 1404.2L1520.7 1403.6L1521.7 1403L1522.7 1402.4L1523.6 1401.8L1524.6 1401.2L1525.6 1400.7L1526.5 1400.1L1527.5 1399.6L1528.5 1399L1529.4 1398.5L1530.4 1398L1531.4 1397.5L1532.4 1397L1533.3 1396.5L1534.3 1396L1535.3 1395.5L1536.2 1395L1537.2 1394.6L1538.2 1394.1L1539.1 1393.7L1540.1 1393.3L1541.1 1392.8L1542 1392.4L1543 1392L1544 1391.6L1545 1391.2L1545.9 1390.8L1546.9 1390.4L1547.9 1390L1548.8 1389.6L1549.8 1389.3L1550.8 1388.9L1551.7 1388.6L1552.7 1388.2L1553.7 1387.9L1554.7 1387.5L1555.6 1387.2L1556.6 1386.9L1557.6 1386.5L1558.5 1386.2L1559.5 1385.9L1560.5 1385.6L1561.4 1385.3L1562.4 1385L1563.4 1384.7L1564.3 1384.4L1565.3 1384.2L1566.3 1383.9L1567.3 1383.6L1568.2 1383.3L1569.2 1383.1L1570.2 1382.8L1571.1 1382.6L1572.1 1382.3L1573.1 1382.1L1574 1381.8L1575 1381.6L1576 1381.4L1576.9 1381.1L1577.9 1380.9L1578.9 1380.7L1579.9 1380.5L1580.8 1380.3L1581.8 1380L1582.8 1379.8L1583.7 1379.6L1584.7 1379.4L1585.7 1379.2L1586.6 1379L1587.6 1378.9L1588.6 1378.7L1589.5 1378.5L1590.5 1378.3L1591.5 1378.1L1592.5 1377.9L1593.4 1377.8L1594.4 1377.6L1595.4 1377.4L1596.3 1377.3L1597.3 1377.1L1598.3 1377L1599.2 1376.8L1600.2 1376.7L1601.2 1376.5L1602.1 1376.4L1603.1 1376.2L1604.1 1376.1L1605.1 1375.9L1606 1375.8L1607 1375.7L1608 1375.5L1608.9 1375.4L1609.9 1375.3L1610.9 1375.1L1611.8 1375L1612.8 1374.9L1613.8 1374.8L1614.7 1374.7L1615.7 1374.5L1616.7 1374.4L1617.7 1374.3L1618.6 1374.2L1619.6 1374.1L1620.6 1374L1621.5 1373.9L1622.5 1373.8L1623.5 1373.7L1624.4 1373.6L1625.4 1373.5L1626.4 1373.4L1627.3 1373.3L1628.3 1373.2L1629.3 1373.1L1630.3 1373L1631.2 1372.9L1632.2 1372.8L1633.2 1372.8L1634.1 1372.7L1635.1 1372.6L1636.1 1372.5L1637 1372.4L1638 1372.4L1639 1372.3L1639.9 1372.2L1640.9 1372.1L1641.9 1372.1L1642.9 1372L1643.8 1371.9L1644.8 1371.8L1645.8 1371.8L1646.7 1371.7L1647.7 1371.6L1648.7 1371.6L1649.6 1371.5L1650.6 1371.4L1651.6 1371.4L1652.5 1371.3L1653.5 1371.3L1654.5 1371.2L1655.5 1371.2L1656.4 1371.1L1657.4 1371L1658.4 1371L1659.3 1371.3L1660.3 1372L1661.3 1373.3L1662.2 1375L1663.2 1377.2L1664.2 1379.8L1665.1 1382.7L1666.1 1386L1667.1 1389.7L1668.1 1393.3L1669 1396.8L1670 1400L1671 1403.1L1671.9 1405.9L1672.9 1408.6L1673.9 1411.2L1674.8 1413.6L1675.8 1415.8L1676.8 1417.9L1677.8 1419.9L1678.7 1421.8L1679.7 1423.6L1680.7 1425.3L1681.6 1426.8L1682.6 1428.3L1683.6 1429.7L1684.5 1431L1685.5 1432.2L1686.5 1433.4L1687.4 1434.5L1688.4 1435.5L1689.4 1436.5L1690.4 1437.4L1691.3 1438.3L1692.3 1439.1L1693.3 1439.8L1694.2 1440.6L1695.2 1441.2L1696.2 1441.9L1697.1 1442.5L1698.1 1443L1699.1 1443.6L1700 1444.1L1701 1444.5L1702 1445L1703 1445.4L1703.9 1445.8L1704.9 1446.2L1705.9 1446.5L1706.8 1446.8L1707.8 1447.2L1708.8 1447.4L1709.7 1447.7L1710.7 1448L1711.7 1448.2L1712.6 1448.4L1713.6 1448.6L1714.6 1448.8L1715.6 1448.9" fill="none" stroke="#1fa31a" stroke-width="13.2" stroke-dasharray="43 15" stroke-linejoin="round"/><path d="M507.3 1232.4L1690 1153.7" stroke="#000" stroke-width="22" fill="none" stroke-opacity="0.21"/><path d="M519 1285.3L1690 1327.3" stroke="#6340f3" stroke-width="21" fill="none" stroke-opacity="0.22"/><path d="M507.3 1376.2L1690 1411.4" stroke="#1fa31a" stroke-width="21" fill="none" stroke-opacity="0.2"/></g><path d="M514.6 1506.4v17M879.6 1506.4v17M1244.7 1506.4v17M1609.7 1506.4v17M697.1 1506.4v9M1062.1 1506.4v9M1427.2 1506.4v9M514.6 1425h-17M514.6 1289.4h-17M514.6 1153.7h-17M514.6 1018.1h-17M514.6 1492.8h-9M514.6 1357.2h-9M514.6 1221.5h-9M514.6 1085.9h-9" stroke="#000" stroke-width="1.3" fill="none"/><path d="M514.6 1506.4H1682.7" stroke="#777" stroke-width="1.2" fill="none"/><path d="M514.6 1506.4V963.8H1682.7V1506.4" stroke="#000" stroke-width="1.2" fill="none"/><text x="514.6" y="1556" font-family="&quot;Liberation Serif&quot;, serif" font-size="38" text-anchor="middle" textLength="18" lengthAdjust="spacingAndGlyphs">0</text><text x="879.6" y="1556" font-family="&quot;Liberation Serif&quot;, serif" font-size="38" text-anchor="middle" textLength="36" lengthAdjust="spacingAndGlyphs">10</text><text x="1244.7" y="1556" font-family="&quot;Liberation Serif&quot;, serif" font-size="38" text-anchor="middle" textLength="36" lengthAdjust="spacingAndGlyphs">20</text><text x="1609.7" y="1556" font-family="&quot;Liberation Serif&quot;, serif" font-size="38" text-anchor="middle" textLength="36" lengthAdjust="spacingAndGlyphs">30</text><text x="488.6" y="1437" font-family="&quot;Liberation Serif&quot;, serif" font-size="38" text-anchor="end" textLength="18" lengthAdjust="spacingAndGlyphs">0</text><text x="488.6" y="1301.4" font-family="&quot;Liberation Serif&quot;, serif" font-size="38" text-anchor="end" textLength="18" lengthAdjust="spacingAndGlyphs">1</text><text x="488.6" y="1165.7" font-family="&quot;Liberation Serif&quot;, serif" font-size="38" text-anchor="end" textLength="18" lengthAdjust="spacingAndGlyphs">2</text><text x="488.6" y="1030.1" font-family="&quot;Liberation Serif&quot;, serif" font-size="38" text-anchor="end" textLength="18" lengthAdjust="spacingAndGlyphs">3</text><text x="437.6" y="1560.5" font-family="&quot;Liberation Serif&quot;, serif" font-size="50.5" textLength="598" lengthAdjust="spacingAndGlyphs" transform="rotate(-90 437.6 1560.5)">Centroid displacement (µm)</text><text x="977.6" y="1591" font-family="&quot;Liberation Serif&quot;, serif" font-size="49.5" textLength="183.5" lengthAdjust="spacingAndGlyphs">Time (s)</text>
<text x="273.6" y="1008.9" font-family="&quot;Liberation Serif&quot;, serif" font-size="62" font-weight="bold" textLength="56" lengthAdjust="spacingAndGlyphs">b.</text>
<rect x="1696" y="964.2" width="411.5" height="146.6" fill="#fff" stroke="#000" stroke-width="2.3"/><path d="M1718.4 988.9H1773" fill="none" stroke="#000" stroke-width="10.6" stroke-dasharray="0.01 15.7" stroke-linecap="round"/><text x="1796.6" y="1000.6" font-family="&quot;Liberation Serif&quot;, serif" font-size="38.5" textLength="169.6" lengthAdjust="spacingAndGlyphs" style="white-space:pre">Large bleb</text><path d="M1713 1037H1773" fill="none" stroke="#6340f3" stroke-width="9.5"/><text x="1796.6" y="1047.2" font-family="&quot;Liberation Serif&quot;, serif" font-size="38.5" textLength="210.8" lengthAdjust="spacingAndGlyphs" style="white-space:pre">Medium bleb</text><path d="M1713 1086.4H1773" fill="none" stroke="#1fa31a" stroke-width="9" stroke-dasharray="27 8.5"/><text x="1796.6" y="1093.9" font-family="&quot;Liberation Serif&quot;, serif" font-size="38.5" textLength="168.4" lengthAdjust="spacingAndGlyphs" style="white-space:pre">Small bleb</text>
<rect x="1696.6" y="1129" width="411.4" height="146" fill="#fff" stroke="#000" stroke-width="2.3"/><rect x="1713.6" y="1145" width="60" height="20" fill="#c8c8c8"/><text x="1796.6" y="1166" font-family="&quot;Liberation Serif&quot;, serif" font-size="38.5" textLength="289.5" lengthAdjust="spacingAndGlyphs" style="white-space:pre">Slope 1.5 µm/min</text><rect x="1713.6" y="1191" width="60" height="20" fill="#dcd4fb"/><text x="1796.6" y="1212" font-family="&quot;Liberation Serif&quot;, serif" font-size="38.5" textLength="301.6" lengthAdjust="spacingAndGlyphs" style="white-space:pre">Slope -0.4 µm/min</text><rect x="1713.6" y="1237" width="60" height="20" fill="#d3ecd3"/><text x="1796.6" y="1258" font-family="&quot;Liberation Serif&quot;, serif" font-size="38.5" textLength="301.6" lengthAdjust="spacingAndGlyphs" style="white-space:pre">Slope -0.1 µm/min</text>
<text x="46.8" y="1694.8" font-family="&quot;Liberation Serif&quot;, serif" font-size="62" font-weight="bold" textLength="50.6" lengthAdjust="spacingAndGlyphs">c.</text>
<text x="868" y="1724" font-family="&quot;Liberation Sans&quot;, sans-serif" font-size="72" textLength="476" lengthAdjust="spacingAndGlyphs" stroke="#fff" stroke-width="0.45">Confinement level</text>
<path d="M1383 1702.8H1443" stroke="#000" stroke-width="3.6" fill="none"/><path d="M1484.4 1702.8L1435 1684.6Q1439 1694.6 1441 1702.8Q1439 1711 1435 1721Z" fill="#808080" stroke="#000" stroke-width="2.6" stroke-linejoin="miter"/>
<linearGradient id="cb2" x1="0" y1="0" x2="0" y2="1"><stop offset="0" stop-color="#a183ff"/><stop offset="1" stop-color="#fdfcff"/></linearGradient><rect x="2146" y="1705.8" width="45" height="246.8" fill="url(#cb2)"/><path d="M2146 1952.6V1705.8H2191V1952.6" fill="none" stroke="#333" stroke-width="1"/><path d="M2191 1903.2h-4M2191 1853.9h-4M2191 1804.5h-4M2191 1755.2h-4" stroke="#222" stroke-width="1" fill="none"/><text x="2198.4" y="1710.3" font-family="&quot;Liberation Serif&quot;, serif" font-size="47.5" textLength="123" lengthAdjust="spacingAndGlyphs">25 Pa</text><text x="2198.4" y="1762.2" font-family="&quot;Liberation Serif&quot;, serif" font-size="47.5" textLength="46" lengthAdjust="spacingAndGlyphs">20</text><text x="2198.4" y="1814.1" font-family="&quot;Liberation Serif&quot;, serif" font-size="47.5" textLength="46" lengthAdjust="spacingAndGlyphs">15</text><text x="2198.4" y="1866.4" font-family="&quot;Liberation Serif&quot;, serif" font-size="47.5" textLength="46" lengthAdjust="spacingAndGlyphs">10</text><text x="2198.4" y="1917.4" font-family="&quot;Liberation Serif&quot;, serif" font-size="47.5" textLength="22" lengthAdjust="spacingAndGlyphs">5</text><text x="2198.4" y="1969.7" font-family="&quot;Liberation Serif&quot;, serif" font-size="47.5" textLength="22" lengthAdjust="spacingAndGlyphs">0</text>
<clipPath id="clip1989"><rect x="506.4" y="1989.5" width="1174.9" height="546.3"/></clipPath><path d="M873.6 1993.5V2535.8M1240.7 1993.5V2535.8M1607.9 1993.5V2535.8M511.4 2441.6H1681.3M511.4 2308.7H1681.3M511.4 2175.7H1681.3M511.4 2042.7H1681.3" stroke="#000" stroke-width="1.2" stroke-dasharray="1.2 7.4" fill="none" opacity="0.6"/><g clip-path="url(#clip1989)"><path d="M506.4 2441.6L511 2422L515.6 2403.5L520.2 2385.9L524.8 2369.3L529.3 2353.6L533.9 2338.7L538.5 2324.6L543.1 2311.2L547.7 2298.6L552.3 2286.6L556.9 2275.3L561.5 2264.6L566.1 2254.5L570.7 2244.9L575.2 2235.8L579.8 2227.2L584.4 2219.1L589 2211.4L593.6 2204.1L598.2 2197.2L602.8 2190.7L607.4 2184.5L612 2178.7L616.5 2173.1L621.1 2167.9L625.7 2162.9L630.3 2158.2L634.9 2153.8L639.5 2149.6L644.1 2145.6L648.7 2141.8L653.3 2138.3L657.9 2134.9L662.4 2131.7L667 2128.7L671.6 2125.8L676.2 2123.1L680.8 2120.6L685.4 2118.1L690 2115.8L691.5 2136.4L693.1 2155.6L694.7 2173.5L696.2 2190.2L697.8 2205.7L699.3 2220.2L700.9 2233.8L702.5 2246.4L704 2258.1L705.6 2269.1L707.1 2279.3L708.7 2288.8L710.3 2297.7L711.8 2306L713.4 2313.7L714.9 2320.9L716.5 2327.7L718.1 2333.9L719.6 2339.7L721.2 2345.2L722.7 2350.3L724.3 2355L725.9 2359.4L727.4 2363.5L729 2367.4L730.5 2370.9L732.1 2374.3L733.7 2377.4L735.2 2380.3L736.8 2383L738.4 2385.5L739.9 2387.9L741.5 2390L743 2392.1L744.6 2394L746.2 2395.8L747.7 2397.4L749.3 2399L750.8 2400.4L752.4 2401.8L756.9 2383.3L761.4 2365.9L765.9 2349.4L770.4 2333.8L774.9 2319L779.4 2305.1L783.9 2291.8L788.4 2279.3L792.9 2267.5L797.4 2256.2L801.9 2245.6L806.4 2235.6L810.9 2226L815.4 2217L819.9 2208.5L824.4 2200.4L828.9 2192.8L833.4 2185.6L837.9 2178.7L842.3 2172.3L846.8 2166.1L851.3 2160.3L855.8 2154.9L860.3 2149.7L864.8 2144.7L869.3 2140.1L873.8 2135.7L878.3 2131.5L882.8 2127.6L887.3 2123.8L891.8 2120.3L896.3 2117L900.8 2113.8L905.3 2110.8L909.8 2108L914.3 2105.3L918.8 2102.7L923.3 2100.3L927.8 2098L932.3 2095.9L933.9 2116.5L935.4 2135.7L937 2153.6L938.5 2170.2L940.1 2185.8L941.7 2200.3L943.2 2213.8L944.8 2226.4L946.3 2238.2L947.9 2249.1L949.5 2259.4L951 2268.9L952.6 2277.8L954.1 2286.1L955.7 2293.8L957.3 2301L958.8 2307.7L960.4 2314L961.9 2319.8L963.5 2325.2L965.1 2330.3L966.6 2335.1L968.2 2339.5L969.8 2343.6L971.3 2347.4L972.9 2351L974.4 2354.3L976 2357.4L977.6 2360.3L979.1 2363L980.7 2365.6L982.2 2367.9L983.8 2370.1L985.4 2372.1L986.9 2374L988.5 2375.8L990 2377.5L991.6 2379L993.2 2380.5L994.7 2381.8L999.2 2363.6L1003.7 2346.4L1008.3 2330.2L1012.8 2314.8L1017.3 2300.2L1021.8 2286.4L1026.3 2273.3L1030.8 2261L1035.4 2249.3L1039.9 2238.2L1044.4 2227.7L1048.9 2217.8L1053.4 2208.4L1057.9 2199.5L1062.5 2191.1L1067 2183.1L1071.5 2175.6L1076 2168.5L1080.5 2161.7L1085 2155.3L1089.6 2149.3L1094.1 2143.5L1098.6 2138.1L1103.1 2133L1107.6 2128.1L1112.1 2123.6L1116.7 2119.2L1121.2 2115.1L1125.7 2111.2L1130.2 2107.5L1134.7 2104L1139.2 2100.7L1143.7 2097.6L1148.3 2094.6L1152.8 2091.8L1157.3 2089.2L1161.8 2086.7L1166.3 2084.3L1170.8 2082.1L1175.4 2079.9L1176.9 2100L1178.5 2118.8L1180.1 2136.3L1181.7 2152.5L1183.3 2167.7L1184.9 2181.9L1186.5 2195.1L1188.1 2207.4L1189.7 2218.9L1191.2 2229.6L1192.8 2239.6L1194.4 2248.9L1196 2257.6L1197.6 2265.7L1199.2 2273.2L1200.8 2280.3L1202.4 2286.8L1203.9 2292.9L1205.5 2298.6L1207.1 2304L1208.7 2308.9L1210.3 2313.5L1211.9 2317.8L1213.5 2321.9L1215.1 2325.6L1216.6 2329.1L1218.2 2332.4L1219.8 2335.4L1221.4 2338.2L1223 2340.9L1224.6 2343.3L1226.2 2345.6L1227.8 2347.8L1229.3 2349.8L1230.9 2351.6L1232.5 2353.4L1234.1 2355L1235.7 2356.5L1237.3 2357.9L1238.9 2359.2L1243.4 2341.3L1247.9 2324.5L1252.4 2308.5L1256.9 2293.3L1261.4 2279L1265.9 2265.5L1270.4 2252.6L1274.9 2240.5L1279.4 2229L1283.9 2218.1L1288.4 2207.8L1292.8 2198.1L1297.3 2188.8L1301.8 2180.1L1306.3 2171.8L1310.8 2164L1315.3 2156.6L1319.8 2149.6L1324.3 2143L1328.8 2136.7L1333.3 2130.8L1337.8 2125.1L1342.3 2119.8L1346.8 2114.8L1351.3 2110L1355.8 2105.5L1360.3 2101.2L1364.8 2097.2L1369.3 2093.4L1373.8 2089.7L1378.3 2086.3L1382.8 2083.1L1387.3 2080L1391.8 2077.1L1396.3 2074.3L1400.8 2071.7L1405.3 2069.3L1409.8 2066.9L1414.3 2064.7L1418.8 2062.6L1420.3 2082.7L1421.8 2101.5L1423.3 2119L1424.8 2135.3L1426.4 2150.5L1427.9 2164.6L1429.4 2177.8L1430.9 2190.1L1432.4 2201.6L1433.9 2212.3L1435.4 2222.3L1437 2231.6L1438.5 2240.3L1440 2248.4L1441.5 2255.9L1443 2263L1444.5 2269.5L1446 2275.6L1447.6 2281.3L1449.1 2286.7L1450.6 2291.6L1452.1 2296.2L1453.6 2300.6L1455.1 2304.6L1456.6 2308.3L1458.2 2311.8L1459.7 2315.1L1461.2 2318.1L1462.7 2320.9L1464.2 2323.6L1465.7 2326L1467.2 2328.3L1468.8 2330.5L1470.3 2332.5L1471.8 2334.3L1473.3 2336.1L1474.8 2337.7L1476.3 2339.2L1477.8 2340.6L1479.4 2341.9L1483.9 2324.1L1488.5 2307.3L1493 2291.4L1497.5 2276.3L1502.1 2262.1L1506.6 2248.6L1511.2 2235.8L1515.7 2223.7L1520.3 2212.3L1524.8 2201.5L1529.3 2191.2L1533.9 2181.5L1538.4 2172.3L1543 2163.6L1547.5 2155.4L1552.1 2147.6L1556.6 2140.2L1561.1 2133.3L1565.7 2126.7L1570.2 2120.4L1574.8 2114.5L1579.3 2108.9L1583.9 2103.6L1588.4 2098.6L1593 2093.8L1597.5 2089.3L1602 2085.1L1606.6 2081.1L1611.1 2077.3L1615.7 2073.7L1620.2 2070.2L1624.8 2067L1629.3 2064L1633.8 2061.1L1638.4 2058.3L1642.9 2055.7L1647.5 2053.3L1652 2051L1656.6 2048.8L1661.1 2046.7L1662.7 2066.7L1664.2 2085.3L1665.8 2102.7L1667.3 2119L1668.9 2134.1L1670.5 2148.2L1672 2161.3L1673.6 2173.6L1675.2 2185L1676.7 2195.7L1678.3 2205.6L1679.8 2214.9L1681.4 2223.5L1683 2231.5L1684.5 2239.1L1686.1 2246.1L1687.6 2252.6L1689.2 2258.7L1690.8 2264.3L1692.3 2269.6L1693.9 2274.6L1695.4 2279.2L1697 2283.5L1698.6 2287.5L1700.1 2291.2L1701.7 2294.7L1703.2 2297.9L1704.8 2300.9L1706.4 2303.7L1707.9 2306.4L1709.5 2308.8L1711 2311.1L1712.6 2313.2L1714.2 2315.2L1715.7 2317.1L1717.3 2318.8L1718.8 2320.4L1720.4 2321.9L1722 2323.3L1723.5 2324.6" fill="none" stroke="#6340f3" stroke-width="8" stroke-linejoin="miter" stroke-miterlimit="6"/><path d="M506.4 2441.6L510.9 2432.3L515.3 2423.2L519.8 2414.3L524.2 2405.6L528.7 2397.2L533.1 2388.9L537.6 2380.9L542 2373L546.5 2365.3L550.9 2357.9L555.4 2350.6L559.8 2343.5L564.3 2336.6L568.7 2329.8L573.2 2323.2L577.6 2316.8L582.1 2310.5L586.5 2304.4L591 2298.5L595.4 2292.6L599.9 2287L604.3 2281.4L608.8 2276.1L613.2 2270.8L617.7 2265.7L622.1 2260.7L626.6 2255.8L631 2251L635.5 2246.4L640 2241.8L644.4 2237.4L648.9 2233.1L653.3 2228.9L657.8 2224.8L662.2 2220.8L666.7 2216.9L671.1 2213.1L675.6 2209.4L680 2205.8L684.5 2202.3L686.2 2215.4L687.9 2227.9L689.6 2239.8L691.3 2251.1L693 2261.8L694.7 2272L696.4 2281.8L698.1 2291L699.8 2299.8L701.5 2308.2L703.1 2316.1L704.8 2323.7L706.5 2330.9L708.2 2337.8L709.9 2344.3L711.6 2350.5L713.3 2356.4L715 2362L716.7 2367.3L718.4 2372.4L720.1 2377.2L721.8 2381.8L723.5 2386.2L725.2 2390.4L726.9 2394.3L728.6 2398.1L730.3 2401.6L732 2405.1L733.7 2408.3L735.4 2411.4L737.1 2414.3L738.8 2417.1L740.5 2419.7L742.2 2422.3L743.9 2424.7L745.6 2426.9L747.3 2429.1L749 2431.2L750.7 2433.1L752.4 2435L756.8 2425.6L761.1 2416.5L765.5 2407.6L769.8 2399L774.2 2390.5L778.6 2382.3L782.9 2374.2L787.3 2366.4L791.6 2358.7L796 2351.2L800.4 2344L804.7 2336.9L809.1 2329.9L813.4 2323.2L817.8 2316.6L822.2 2310.2L826.5 2303.9L830.9 2297.8L835.2 2291.8L839.6 2286L844 2280.3L848.3 2274.8L852.7 2269.4L857 2264.1L861.4 2259L865.8 2254L870.1 2249.1L874.5 2244.4L878.8 2239.7L883.2 2235.2L887.6 2230.8L891.9 2226.5L896.3 2222.3L900.6 2218.2L905 2214.2L909.4 2210.3L913.7 2206.5L918.1 2202.8L922.4 2199.2L926.8 2195.6L928.5 2208.8L930.2 2221.2L931.9 2233.1L933.6 2244.4L935.3 2255.2L937 2265.4L938.7 2275.1L940.4 2284.4L942.1 2293.2L943.8 2301.5L945.5 2309.5L947.2 2317.1L948.9 2324.3L950.6 2331.1L952.3 2337.6L954 2343.8L955.7 2349.7L957.4 2355.3L959.1 2360.7L960.8 2365.8L962.5 2370.6L964.2 2375.2L965.9 2379.6L967.5 2383.7L969.2 2387.7L970.9 2391.4L972.6 2395L974.3 2398.4L976 2401.6L977.7 2404.7L979.4 2407.6L981.1 2410.4L982.8 2413.1L984.5 2415.6L986.2 2418L987.9 2420.3L989.6 2422.5L991.3 2424.5L993 2426.5L994.7 2428.3L999.1 2419.2L1003.5 2410.2L1007.9 2401.4L1012.2 2392.9L1016.6 2384.6L1021 2376.5L1025.4 2368.6L1029.7 2360.8L1034.1 2353.3L1038.5 2346L1042.9 2338.8L1047.3 2331.8L1051.6 2325L1056 2318.4L1060.4 2311.9L1064.8 2305.6L1069.1 2299.4L1073.5 2293.4L1077.9 2287.6L1082.3 2281.8L1086.7 2276.3L1091 2270.8L1095.4 2265.5L1099.8 2260.3L1104.2 2255.3L1108.6 2250.4L1112.9 2245.6L1117.3 2240.9L1121.7 2236.3L1126.1 2231.9L1130.4 2227.5L1134.8 2223.3L1139.2 2219.2L1143.6 2215.1L1148 2211.2L1152.3 2207.4L1156.7 2203.6L1161.1 2200L1165.5 2196.4L1169.9 2193L1171.6 2205.9L1173.3 2218.1L1175 2229.8L1176.8 2240.9L1178.5 2251.5L1180.2 2261.5L1181.9 2271.1L1183.7 2280.2L1185.4 2288.8L1187.1 2297.1L1188.8 2304.9L1190.6 2312.3L1192.3 2319.4L1194 2326.1L1195.7 2332.5L1197.5 2338.6L1199.2 2344.4L1200.9 2349.9L1202.6 2355.2L1204.4 2360.2L1206.1 2364.9L1207.8 2369.4L1209.5 2373.7L1211.3 2377.8L1213 2381.7L1214.7 2385.4L1216.4 2388.9L1218.2 2392.3L1219.9 2395.4L1221.6 2398.5L1223.3 2401.4L1225.1 2404.1L1226.8 2406.7L1228.5 2409.2L1230.2 2411.5L1232 2413.8L1233.7 2415.9L1235.4 2417.9L1237.2 2419.9L1238.9 2421.7L1243.2 2412.7L1247.6 2403.9L1252 2395.4L1256.3 2387.1L1260.7 2378.9L1265 2371L1269.4 2363.3L1273.8 2355.7L1278.1 2348.4L1282.5 2341.2L1286.8 2334.2L1291.2 2327.4L1295.6 2320.7L1299.9 2314.2L1304.3 2307.9L1308.6 2301.7L1313 2295.7L1317.4 2289.8L1321.7 2284.1L1326.1 2278.5L1330.4 2273L1334.8 2267.7L1339.2 2262.5L1343.5 2257.5L1347.9 2252.6L1352.2 2247.7L1356.6 2243.1L1361 2238.5L1365.3 2234L1369.7 2229.7L1374 2225.4L1378.4 2221.3L1382.8 2217.2L1387.1 2213.3L1391.5 2209.5L1395.8 2205.7L1400.2 2202.1L1404.6 2198.5L1408.9 2195L1413.3 2191.6L1414.9 2204.2L1416.6 2216.2L1418.2 2227.6L1419.9 2238.5L1421.5 2248.8L1423.2 2258.6L1424.8 2267.9L1426.5 2276.8L1428.1 2285.3L1429.8 2293.3L1431.5 2300.9L1433.1 2308.2L1434.8 2315.1L1436.4 2321.7L1438.1 2328L1439.7 2333.9L1441.4 2339.6L1443 2345L1444.7 2350.1L1446.3 2355L1448 2359.6L1449.6 2364L1451.3 2368.2L1452.9 2372.2L1454.6 2376L1456.2 2379.6L1457.9 2383L1459.5 2386.3L1461.2 2389.4L1462.8 2392.4L1464.5 2395.2L1466.1 2397.9L1467.8 2400.4L1469.5 2402.8L1471.1 2405.1L1472.8 2407.3L1474.4 2409.4L1476.1 2411.4L1477.7 2413.3L1479.4 2415.1L1483.8 2406.2L1488.2 2397.6L1492.6 2389.2L1497 2381L1501.4 2373L1505.8 2365.2L1510.2 2357.6L1514.6 2350.2L1519 2343L1523.4 2335.9L1527.8 2329.1L1532.2 2322.4L1536.6 2315.8L1541 2309.4L1545.5 2303.2L1549.9 2297.1L1554.3 2291.2L1558.7 2285.5L1563.1 2279.8L1567.5 2274.3L1571.9 2269L1576.3 2263.7L1580.7 2258.7L1585.1 2253.7L1589.5 2248.8L1593.9 2244.1L1598.3 2239.5L1602.7 2235L1607.1 2230.6L1611.5 2226.3L1615.9 2222.2L1620.4 2218.1L1624.8 2214.1L1629.2 2210.3L1633.6 2206.5L1638 2202.8L1642.4 2199.2L1646.8 2195.7L1651.2 2192.3L1655.6 2189L1657.3 2201.4L1659 2213.1L1660.7 2224.3L1662.4 2235L1664.1 2245.1L1665.8 2254.7L1667.5 2263.9L1669.2 2272.6L1670.9 2280.9L1672.6 2288.8L1674.3 2296.3L1676 2303.5L1677.7 2310.3L1679.4 2316.7L1681.1 2322.9L1682.8 2328.7L1684.5 2334.3L1686.2 2339.6L1687.9 2344.6L1689.6 2349.4L1691.3 2353.9L1693 2358.3L1694.7 2362.4L1696.4 2366.3L1698.1 2370L1699.7 2373.6L1701.4 2377L1703.1 2380.2L1704.8 2383.2L1706.5 2386.1L1708.2 2388.9L1709.9 2391.5L1711.6 2394L1713.3 2396.4L1715 2398.6L1716.7 2400.8L1718.4 2402.8L1720.1 2404.8L1721.8 2406.6L1723.5 2408.4" fill="none" stroke="#12ad12" stroke-width="10.3" stroke-dasharray="35 12.5" stroke-linejoin="miter" stroke-miterlimit="6"/><path d="M506.4 2441.6L511 2421L515.6 2401.4L520.2 2382.7L524.8 2365L529.3 2348.1L533.9 2332L538.5 2316.7L543.1 2302.2L547.7 2288.4L552.3 2275.2L556.9 2262.7L561.5 2250.8L566.1 2239.5L570.7 2228.7L575.2 2218.5L579.8 2208.7L584.4 2199.5L589 2190.7L593.6 2182.3L598.2 2174.3L602.8 2166.7L607.4 2159.5L612 2152.6L616.5 2146.1L621.1 2139.9L625.7 2134L630.3 2128.3L634.9 2123L639.5 2117.9L644.1 2113.1L648.7 2108.5L653.3 2104.1L657.9 2099.9L662.4 2096L667 2092.2L671.6 2088.6L676.2 2085.2L680.8 2082L685.4 2078.9L690 2075.9L691.5 2095.8L693.1 2114.7L694.7 2132.7L696.2 2149.8L697.8 2166.1L699.3 2181.6L700.9 2196.3L702.5 2210.3L704 2223.6L705.6 2236.3L707.1 2248.4L708.7 2259.8L710.3 2270.7L711.8 2281.1L713.4 2291L714.9 2300.4L716.5 2309.3L718.1 2317.8L719.6 2325.9L721.2 2333.6L722.7 2340.9L724.3 2347.8L725.9 2354.5L727.4 2360.7L729 2366.7L730.5 2372.4L732.1 2377.8L733.7 2383L735.2 2387.9L736.8 2392.6L738.4 2397L739.9 2401.2L741.5 2405.2L743 2409.1L744.6 2412.7L746.2 2416.1L747.7 2419.4L749.3 2422.5L750.8 2425.5L752.4 2428.3L756.9 2409.7L761.4 2392.1L765.9 2375.2L770.4 2359.2L774.9 2344L779.4 2329.5L783.9 2315.7L788.4 2302.6L792.9 2290.1L797.4 2278.3L801.9 2267L806.4 2256.3L810.9 2246L815.4 2236.3L819.9 2227.1L824.4 2218.3L828.9 2210L833.4 2202L837.9 2194.4L842.3 2187.2L846.8 2180.4L851.3 2173.9L855.8 2167.7L860.3 2161.8L864.8 2156.2L869.3 2150.9L873.8 2145.8L878.3 2141L882.8 2136.4L887.3 2132L891.8 2127.9L896.3 2123.9L900.8 2120.2L905.3 2116.6L909.8 2113.2L914.3 2110L918.8 2106.9L923.3 2104L927.8 2101.2L932.3 2098.5L933.9 2118.2L935.4 2136.9L937 2154.7L938.5 2171.6L940.1 2187.7L941.7 2203L943.2 2217.5L944.8 2231.4L946.3 2244.6L947.9 2257.1L949.5 2269L951 2280.4L952.6 2291.1L954.1 2301.4L955.7 2311.2L957.3 2320.4L958.8 2329.3L960.4 2337.7L961.9 2345.7L963.5 2353.3L965.1 2360.5L966.6 2367.4L968.2 2373.9L969.8 2380.1L971.3 2386.1L972.9 2391.7L974.4 2397L976 2402.1L977.6 2407L979.1 2411.6L980.7 2416L982.2 2420.1L983.8 2424.1L985.4 2427.9L986.9 2431.5L988.5 2434.9L990 2438.1L991.6 2441.2L993.2 2444.2L994.7 2447L999.2 2428.9L1003.7 2411.7L1008.3 2395.3L1012.8 2379.8L1017.3 2365L1021.8 2350.9L1026.3 2337.5L1030.8 2324.8L1035.4 2312.7L1039.9 2301.1L1044.4 2290.2L1048.9 2279.7L1053.4 2269.8L1057.9 2260.4L1062.5 2251.4L1067 2242.9L1071.5 2234.7L1076 2227L1080.5 2219.7L1085 2212.7L1089.6 2206L1094.1 2199.7L1098.6 2193.7L1103.1 2188L1107.6 2182.5L1112.1 2177.3L1116.7 2172.4L1121.2 2167.7L1125.7 2163.3L1130.2 2159L1134.7 2155L1139.2 2151.1L1143.7 2147.5L1148.3 2144L1152.8 2140.7L1157.3 2137.6L1161.8 2134.6L1166.3 2131.7L1170.8 2129L1175.4 2126.5L1176.9 2146L1178.5 2164.5L1180.1 2182.2L1181.7 2199L1183.3 2214.9L1184.9 2230.1L1186.5 2244.6L1188.1 2258.3L1189.7 2271.4L1191.2 2283.8L1192.8 2295.6L1194.4 2306.9L1196 2317.6L1197.6 2327.8L1199.2 2337.5L1200.8 2346.7L1202.4 2355.4L1203.9 2363.8L1205.5 2371.7L1207.1 2379.2L1208.7 2386.4L1210.3 2393.2L1211.9 2399.7L1213.5 2405.9L1215.1 2411.8L1216.6 2417.4L1218.2 2422.7L1219.8 2427.7L1221.4 2432.6L1223 2437.1L1224.6 2441.5L1226.2 2445.6L1227.8 2449.6L1229.3 2453.3L1230.9 2456.9L1232.5 2460.3L1234.1 2463.5L1235.7 2466.5L1237.3 2469.5L1238.9 2472.2L1243.4 2454.4L1247.9 2437.4L1252.4 2421.2L1256.9 2405.9L1261.4 2391.3L1265.9 2377.4L1270.4 2364.1L1274.9 2351.6L1279.4 2339.6L1283.9 2328.2L1288.4 2317.4L1292.8 2307.1L1297.3 2297.3L1301.8 2288L1306.3 2279.1L1310.8 2270.7L1315.3 2262.6L1319.8 2255L1324.3 2247.8L1328.8 2240.9L1333.3 2234.3L1337.8 2228L1342.3 2222.1L1346.8 2216.4L1351.3 2211.1L1355.8 2206L1360.3 2201.1L1364.8 2196.5L1369.3 2192.1L1373.8 2187.9L1378.3 2183.9L1382.8 2180.1L1387.3 2176.5L1391.8 2173.1L1396.3 2169.8L1400.8 2166.7L1405.3 2163.7L1409.8 2160.9L1414.3 2158.3L1418.8 2155.7L1420.3 2175L1421.8 2193.3L1423.3 2210.8L1424.8 2227.4L1426.4 2243.2L1427.9 2258.2L1429.4 2272.5L1430.9 2286L1432.4 2299L1433.9 2311.3L1435.4 2322.9L1437 2334.1L1438.5 2344.6L1440 2354.7L1441.5 2364.3L1443 2373.4L1444.5 2382.1L1446 2390.3L1447.6 2398.1L1449.1 2405.6L1450.6 2412.7L1452.1 2419.4L1453.6 2425.8L1455.1 2431.9L1456.6 2437.7L1458.2 2443.3L1459.7 2448.5L1461.2 2453.5L1462.7 2458.3L1464.2 2462.8L1465.7 2467.1L1467.2 2471.2L1468.8 2475.1L1470.3 2478.8L1471.8 2482.3L1473.3 2485.7L1474.8 2488.8L1476.3 2491.9L1477.8 2494.8L1479.4 2497.5L1483.9 2480.1L1488.5 2463.5L1493 2447.8L1497.5 2432.8L1502.1 2418.6L1506.6 2405L1511.2 2392.1L1515.7 2379.9L1520.3 2368.2L1524.8 2357.1L1529.3 2346.6L1533.9 2336.5L1538.4 2327L1543 2317.9L1547.5 2309.2L1552.1 2301L1556.6 2293.2L1561.1 2285.8L1565.7 2278.7L1570.2 2272L1574.8 2265.5L1579.3 2259.5L1583.9 2253.7L1588.4 2248.2L1593 2242.9L1597.5 2237.9L1602 2233.2L1606.6 2228.7L1611.1 2224.4L1615.7 2220.3L1620.2 2216.4L1624.8 2212.7L1629.3 2209.2L1633.8 2205.9L1638.4 2202.7L1642.9 2199.7L1647.5 2196.8L1652 2194.1L1656.6 2191.5L1661.1 2189L1662.7 2207.9L1664.2 2225.9L1665.8 2243L1667.3 2259.2L1668.9 2274.7L1670.5 2289.4L1672 2303.4L1673.6 2316.8L1675.2 2329.4L1676.7 2341.5L1678.3 2352.9L1679.8 2363.8L1681.4 2374.2L1683 2384.1L1684.5 2393.5L1686.1 2402.4L1687.6 2410.9L1689.2 2419L1690.8 2426.7L1692.3 2434L1693.9 2440.9L1695.4 2447.5L1697 2453.8L1698.6 2459.8L1700.1 2465.5L1701.7 2470.9L1703.2 2476.1L1704.8 2481L1706.4 2485.6L1707.9 2490.1L1709.5 2494.3L1711 2498.3L1712.6 2502.1L1714.2 2505.7L1715.7 2509.2L1717.3 2512.5L1718.8 2515.6L1720.4 2518.6L1722 2521.4L1723.5 2524.1" fill="none" stroke="#000" stroke-width="5.9" stroke-dasharray="0.01 9.9" stroke-linecap="round" stroke-linejoin="round"/><path d="M499.1 2212.9L1688.6 2341.9" stroke="#000" stroke-width="22" fill="none" stroke-opacity="0.12"/><path d="M499.1 2252.8L1688.6 2175.7" stroke="#6340f3" stroke-width="21" fill="none" stroke-opacity="0.24"/><path d="M499.1 2308.7L1688.6 2298" stroke="#12ad12" stroke-width="21" fill="none" stroke-opacity="0.3"/></g><path d="M506.4 2535.8v17M873.6 2535.8v17M1240.7 2535.8v17M1607.9 2535.8v17M690 2535.8v9M1057.1 2535.8v9M1424.3 2535.8v9M506.4 2441.6h-17M506.4 2308.7h-17M506.4 2175.7h-17M506.4 2042.7h-17M506.4 2508.1h-9M506.4 2375.2h-9M506.4 2242.2h-9M506.4 2109.2h-9" stroke="#000" stroke-width="1.3" fill="none"/><path d="M506.4 2535.8H1681.3" stroke="#000" stroke-width="2" fill="none"/><path d="M506.4 2535.8V1989.5H1681.3V2535.8" stroke="#000" stroke-width="2" fill="none"/><text x="506.4" y="2584" font-family="&quot;Liberation Serif&quot;, serif" font-size="38" text-anchor="middle" textLength="18" lengthAdjust="spacingAndGlyphs">0</text><text x="873.6" y="2584" font-family="&quot;Liberation Serif&quot;, serif" font-size="38" text-anchor="middle" textLength="36" lengthAdjust="spacingAndGlyphs">10</text><text x="1240.7" y="2584" font-family="&quot;Liberation Serif&quot;, serif" font-size="38" text-anchor="middle" textLength="36" lengthAdjust="spacingAndGlyphs">20</text><text x="1607.9" y="2584" font-family="&quot;Liberation Serif&quot;, serif" font-size="38" text-anchor="middle" textLength="36" lengthAdjust="spacingAndGlyphs">30</text><text x="479.8" y="2452.4" font-family="&quot;Liberation Serif&quot;, serif" font-size="38" text-anchor="end" textLength="18" lengthAdjust="spacingAndGlyphs">0</text><text x="479.8" y="2319.5" font-family="&quot;Liberation Serif&quot;, serif" font-size="38" text-anchor="end" textLength="18" lengthAdjust="spacingAndGlyphs">1</text><text x="479.8" y="2186.5" font-family="&quot;Liberation Serif&quot;, serif" font-size="38" text-anchor="end" textLength="18" lengthAdjust="spacingAndGlyphs">2</text><text x="479.8" y="2053.5" font-family="&quot;Liberation Serif&quot;, serif" font-size="38" text-anchor="end" textLength="18" lengthAdjust="spacingAndGlyphs">3</text><text x="437" y="2581.5" font-family="&quot;Liberation Serif&quot;, serif" font-size="50.5" textLength="598" lengthAdjust="spacingAndGlyphs" transform="rotate(-90 437 2581.5)">Centroid displacement (µm)</text><text x="977.6" y="2613.2" font-family="&quot;Liberation Serif&quot;, serif" font-size="49.5" textLength="183.5" lengthAdjust="spacingAndGlyphs">Time (s)</text>
<text x="271" y="2039.5" font-family="&quot;Liberation Serif&quot;, serif" font-size="62" font-weight="bold" textLength="58.3" lengthAdjust="spacingAndGlyphs">d.</text>
<rect x="1698.5" y="1989" width="472.5" height="135.8" fill="#fff" stroke="#000" stroke-width="2.3"/><path d="M1715.5 2010.2H1775.5" fill="none" stroke="#12ad12" stroke-width="9" stroke-dasharray="27 8.5"/><text x="1800.8" y="2022.4" font-family="&quot;Liberation Serif&quot;, serif" font-size="38.5" textLength="359.2" lengthAdjust="spacingAndGlyphs" style="white-space:pre">Channel width: 18 µm</text><path d="M1715.5 2054.8H1775.5" fill="none" stroke="#6340f3" stroke-width="9.5"/><text x="1800.8" y="2069" font-family="&quot;Liberation Serif&quot;, serif" font-size="38.5" textLength="359.2" lengthAdjust="spacingAndGlyphs" style="white-space:pre">Channel width: 13 µm</text><path d="M1722.5 2101.7H1775.5" fill="none" stroke="#000" stroke-width="10.6" stroke-dasharray="0.01 15.7" stroke-linecap="round"/><text x="1800.8" y="2115" font-family="&quot;Liberation Serif&quot;, serif" font-size="38.5" textLength="352" lengthAdjust="spacingAndGlyphs" style="white-space:pre">Channel width:  9 µm</text>
<rect x="1698.5" y="2143" width="472.5" height="146.5" fill="#fff" stroke="#000" stroke-width="2.3"/><rect x="1715.5" y="2158.3" width="60" height="20" fill="#d3ecd3"/><text x="1800.8" y="2179.3" font-family="&quot;Liberation Serif&quot;, serif" font-size="38.5" textLength="301.6" lengthAdjust="spacingAndGlyphs" style="white-space:pre">Slope  0.1 µm/min</text><rect x="1715.5" y="2204.3" width="60" height="20" fill="#dcd4fb"/><text x="1800.8" y="2225.3" font-family="&quot;Liberation Serif&quot;, serif" font-size="38.5" textLength="301.6" lengthAdjust="spacingAndGlyphs" style="white-space:pre">Slope  1.2 µm/min</text><rect x="1715.5" y="2251" width="60" height="20" fill="#c8c8c8"/><text x="1800.8" y="2272" font-family="&quot;Liberation Serif&quot;, serif" font-size="38.5" textLength="301.6" lengthAdjust="spacingAndGlyphs" style="white-space:pre">Slope -1.8 µm/min</text>
</svg>
</body></html>
